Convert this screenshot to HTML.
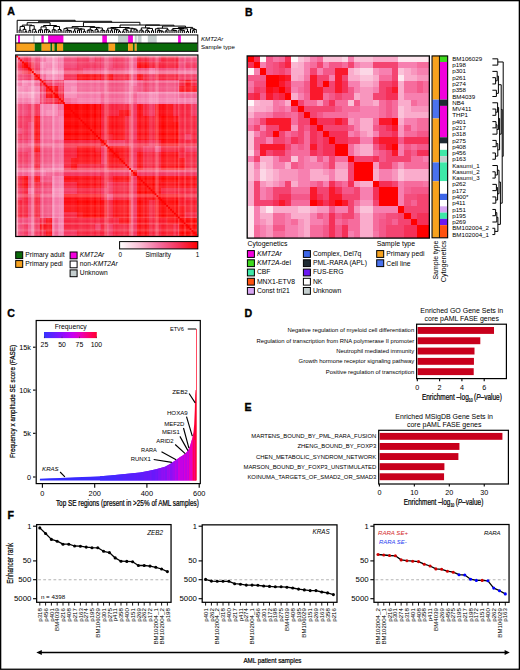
<!DOCTYPE html><html><head><meta charset="utf-8"><style>html,body{margin:0;padding:0;background:#fff;overflow:hidden;}svg{display:block;}text{font-family:"Liberation Sans", sans-serif;}.b{stroke:#000;stroke-width:0.22px;}</style></head><body>
<svg width="520" height="670" viewBox="0 0 520 670" shape-rendering="auto">
<rect x="0.00" y="0.00" width="520.00" height="670.00" fill="#fff"/>
<text x="7.30" y="15.10" font-size="10.60" font-weight="bold" stroke="#000" stroke-width="0.35">A</text>
<text x="245.00" y="15.60" font-size="10.60" font-weight="bold" stroke="#000" stroke-width="0.35">B</text>
<text x="7.20" y="316.90" font-size="10.60" font-weight="bold" stroke="#000" stroke-width="0.35">C</text>
<text x="244.50" y="317.40" font-size="10.60" font-weight="bold" stroke="#000" stroke-width="0.35">D</text>
<text x="244.50" y="410.60" font-size="10.60" font-weight="bold" stroke="#000" stroke-width="0.35">E</text>
<text x="7.40" y="519.00" font-size="10.60" font-weight="bold" stroke="#000" stroke-width="0.35">F</text>
<path d="M19.12 30.09L21.07 30.09M19.12 30.09L19.12 33.00M21.07 30.09L21.07 33.00M24.96 31.64L26.91 31.64M24.96 31.64L24.96 33.00M26.91 31.64L26.91 33.00M23.02 29.33L25.94 29.33M23.02 29.33L23.02 33.00M25.94 29.33L25.94 31.64M20.09 26.45L24.48 26.45M20.09 26.45L20.09 30.09M24.48 26.45L24.48 29.33M28.86 30.43L30.80 30.43M28.86 30.43L28.86 33.00M30.80 30.43L30.80 33.00M34.70 31.71L36.65 31.71M34.70 31.71L34.70 33.00M36.65 31.71L36.65 33.00M32.75 29.28L35.67 29.28M32.75 29.28L32.75 33.00M35.67 29.28L35.67 31.71M29.83 25.68L34.21 25.68M29.83 25.68L29.83 30.43M34.21 25.68L34.21 29.28M22.29 25.10L32.02 25.10M22.29 25.10L22.29 26.45M32.02 25.10L32.02 25.68M38.59 30.08L40.54 30.08M38.59 30.08L38.59 33.00M40.54 30.08L40.54 33.00M39.57 29.76L42.49 29.76M39.57 29.76L39.57 30.08M42.49 29.76L42.49 33.00M48.33 31.47L50.28 31.47M48.33 31.47L48.33 33.00M50.28 31.47L50.28 33.00M46.38 29.91L49.30 29.91M46.38 29.91L46.38 33.00M49.30 29.91L49.30 31.47M44.44 29.61L47.84 29.61M44.44 29.61L44.44 33.00M47.84 29.61L47.84 29.91M41.03 26.85L46.14 26.85M41.03 26.85L41.03 29.76M46.14 26.85L46.14 29.61M54.17 30.11L56.12 30.11M54.17 30.11L54.17 33.00M56.12 30.11L56.12 33.00M52.23 29.72L55.15 29.72M52.23 29.72L52.23 33.00M55.15 29.72L55.15 30.11M60.01 30.77L61.96 30.77M60.01 30.77L60.01 33.00M61.96 30.77L61.96 33.00M58.07 29.49L60.99 29.49M58.07 29.49L58.07 33.00M60.99 29.49L60.99 30.77M53.69 26.52L59.53 26.52M53.69 26.52L53.69 29.72M59.53 26.52L59.53 29.49M43.58 25.50L56.61 25.50M43.58 25.50L43.58 26.85M56.61 25.50L56.61 26.52M27.15 22.70L50.10 22.70M27.15 22.70L27.15 25.10M50.10 22.70L50.10 25.50M69.75 30.89L71.70 30.89M69.75 30.89L69.75 33.00M71.70 30.89L71.70 33.00M67.80 30.59L70.72 30.59M67.80 30.59L67.80 33.00M70.72 30.59L70.72 30.89M65.86 30.29L69.26 30.29M65.86 30.29L65.86 33.00M69.26 30.29L69.26 30.59M63.91 28.65L67.56 28.65M63.91 28.65L63.91 33.00M67.56 28.65L67.56 30.29M73.65 30.92L75.59 30.92M73.65 30.92L73.65 33.00M75.59 30.92L75.59 33.00M77.54 30.14L79.49 30.14M77.54 30.14L77.54 33.00M79.49 30.14L79.49 33.00M78.51 29.79L81.43 29.79M78.51 29.79L78.51 30.14M81.43 29.79L81.43 33.00M83.38 31.42L85.33 31.42M83.38 31.42L83.38 33.00M85.33 31.42L85.33 33.00M79.97 29.10L84.36 29.10M79.97 29.10L79.97 29.79M84.36 29.10L84.36 31.42M74.62 28.80L82.17 28.80M74.62 28.80L74.62 30.92M82.17 28.80L82.17 29.10M65.73 27.93L78.39 27.93M65.73 27.93L65.73 28.65M78.39 27.93L78.39 28.80M87.28 30.20L89.22 30.20M87.28 30.20L87.28 33.00M89.22 30.20L89.22 33.00M91.17 30.49L93.12 30.49M91.17 30.49L91.17 33.00M93.12 30.49L93.12 33.00M88.25 29.90L92.15 29.90M88.25 29.90L88.25 30.20M92.15 29.90L92.15 30.49M97.01 31.23L98.96 31.23M97.01 31.23L97.01 33.00M98.96 31.23L98.96 33.00M95.07 29.63L97.99 29.63M95.07 29.63L95.07 33.00M97.99 29.63L97.99 31.23M102.86 30.62L104.80 30.62M102.86 30.62L102.86 33.00M104.80 30.62L104.80 33.00M100.91 30.20L103.83 30.20M100.91 30.20L100.91 33.00M103.83 30.20L103.83 30.62M96.53 27.96L102.37 27.96M96.53 27.96L96.53 29.63M102.37 27.96L102.37 30.20M90.20 27.41L99.45 27.41M90.20 27.41L90.20 29.90M99.45 27.41L99.45 27.96M72.06 26.60L94.82 26.60M72.06 26.60L72.06 27.93M94.82 26.60L94.82 27.41M106.75 30.11L108.70 30.11M106.75 30.11L106.75 33.00M108.70 30.11L108.70 33.00M110.64 30.70L112.59 30.70M110.64 30.70L110.64 33.00M112.59 30.70L112.59 33.00M118.43 31.47L120.38 31.47M118.43 31.47L118.43 33.00M120.38 31.47L120.38 33.00M116.49 29.97L119.41 29.97M116.49 29.97L116.49 33.00M119.41 29.97L119.41 31.47M114.54 29.31L117.95 29.31M114.54 29.31L114.54 33.00M117.95 29.31L117.95 29.97M111.62 28.77L116.24 28.77M111.62 28.77L111.62 30.70M116.24 28.77L116.24 29.31M107.72 28.15L113.93 28.15M107.72 28.15L107.72 30.11M113.93 28.15L113.93 28.77M122.33 31.72L124.28 31.72M122.33 31.72L122.33 33.00M124.28 31.72L124.28 33.00M126.22 30.32L128.17 30.32M126.22 30.32L126.22 33.00M128.17 30.32L128.17 33.00M123.30 29.70L127.20 29.70M123.30 29.70L123.30 31.72M127.20 29.70L127.20 30.32M130.12 31.06L132.07 31.06M130.12 31.06L130.12 33.00M132.07 31.06L132.07 33.00M135.96 30.66L137.91 30.66M135.96 30.66L135.96 33.00M137.91 30.66L137.91 33.00M134.01 29.21L136.93 29.21M134.01 29.21L134.01 33.00M136.93 29.21L136.93 30.66M131.09 28.80L135.47 28.80M131.09 28.80L131.09 31.06M135.47 28.80L135.47 29.21M125.25 28.25L133.28 28.25M125.25 28.25L125.25 29.70M133.28 28.25L133.28 28.80M110.83 27.50L129.27 27.50M110.83 27.50L110.83 28.15M129.27 27.50L129.27 28.25M141.80 31.11L143.75 31.11M141.80 31.11L141.80 33.00M143.75 31.11L143.75 33.00M139.85 30.17L142.78 30.17M139.85 30.17L139.85 33.00M142.78 30.17L142.78 31.11M147.64 31.44L149.59 31.44M147.64 31.44L147.64 33.00M149.59 31.44L149.59 33.00M145.70 30.29L148.62 30.29M145.70 30.29L145.70 33.00M148.62 30.29L148.62 31.44M151.54 30.72L153.49 30.72M151.54 30.72L151.54 33.00M153.49 30.72L153.49 33.00M147.16 28.45L152.51 28.45M147.16 28.45L147.16 30.29M152.51 28.45L152.51 30.72M141.31 27.90L149.83 27.90M141.31 27.90L141.31 30.17M149.83 27.90L149.83 28.45M161.27 31.18L163.22 31.18M161.27 31.18L161.27 33.00M163.22 31.18L163.22 33.00M159.33 30.88L162.25 30.88M159.33 30.88L159.33 33.00M162.25 30.88L162.25 31.18M157.38 30.58L160.79 30.58M157.38 30.58L157.38 33.00M160.79 30.58L160.79 30.88M155.43 28.80L159.08 28.80M155.43 28.80L155.43 33.00M159.08 28.80L159.08 30.58M165.17 31.10L167.12 31.10M165.17 31.10L165.17 33.00M167.12 31.10L167.12 33.00M166.14 29.95L169.06 29.95M166.14 29.95L166.14 31.10M169.06 29.95L169.06 33.00M157.26 28.20L167.60 28.20M157.26 28.20L157.26 28.80M167.60 28.20L167.60 29.95M174.91 30.66L176.85 30.66M174.91 30.66L174.91 33.00M176.85 30.66L176.85 33.00M172.96 30.36L175.88 30.36M172.96 30.36L172.96 33.00M175.88 30.36L175.88 30.66M171.01 30.06L174.42 30.06M171.01 30.06L171.01 33.00M174.42 30.06L174.42 30.36M182.70 30.62L184.64 30.62M182.70 30.62L182.70 33.00M184.64 30.62L184.64 33.00M180.75 30.15L183.67 30.15M180.75 30.15L180.75 33.00M183.67 30.15L183.67 30.62M178.80 29.85L182.21 29.85M178.80 29.85L178.80 33.00M182.21 29.85L182.21 30.15M186.59 31.49L188.54 31.49M186.59 31.49L186.59 33.00M188.54 31.49L188.54 33.00M180.50 28.80L187.56 28.80M180.50 28.80L180.50 29.85M187.56 28.80L187.56 31.49M172.72 28.50L184.03 28.50M172.72 28.50L172.72 30.06M184.03 28.50L184.03 28.80M192.43 30.65L194.38 30.65M192.43 30.65L192.43 33.00M194.38 30.65L194.38 33.00M193.41 29.49L196.33 29.49M193.41 29.49L193.41 30.65M196.33 29.49L196.33 33.00M190.48 28.80L194.87 28.80M190.48 28.80L190.48 33.00M194.87 28.80L194.87 29.49M178.37 27.40L192.68 27.40M178.37 27.40L178.37 28.50M192.68 27.40L192.68 28.80M162.43 26.10L185.52 26.10M162.43 26.10L162.43 28.20M185.52 26.10L185.52 27.40M145.57 25.20L173.98 25.20M145.57 25.20L145.57 27.90M173.98 25.20L173.98 26.10M120.05 25.00L159.78 25.00M120.05 25.00L120.05 27.50M159.78 25.00L159.78 25.20M83.44 22.30L139.91 22.30M83.44 22.30L83.44 26.60M139.91 22.30L139.91 25.00M38.62 21.30L111.68 21.30M38.62 21.30L38.62 22.70M111.68 21.30L111.68 22.30M17.17 20.30L75.15 20.30M17.17 20.30L17.17 33.00M75.15 20.30L75.15 21.30" stroke="#000" stroke-width="1.0" fill="none"/>
<rect x="18.00" y="35.20" width="2.00" height="7.80" fill="#f200dc"/>
<rect x="33.20" y="35.20" width="1.50" height="7.80" fill="#c4cece"/>
<rect x="41.40" y="35.20" width="2.35" height="7.80" fill="#f200dc"/>
<rect x="48.10" y="35.20" width="15.30" height="7.80" fill="#f200dc"/>
<rect x="102.30" y="35.20" width="4.60" height="7.80" fill="#f200dc"/>
<rect x="118.00" y="35.20" width="10.10" height="7.80" fill="#c4cece"/>
<rect x="128.10" y="35.20" width="4.80" height="7.80" fill="#f200dc"/>
<rect x="134.80" y="35.20" width="1.90" height="7.80" fill="#c4cece"/>
<rect x="137.70" y="35.20" width="3.80" height="7.80" fill="#c4cece"/>
<rect x="147.80" y="35.20" width="8.90" height="7.80" fill="#c4cece"/>
<rect x="178.10" y="35.20" width="2.70" height="7.80" fill="#f200dc"/>
<rect x="16.10" y="43.00" width="18.60" height="8.00" fill="#f7a21e"/>
<rect x="34.70" y="43.00" width="7.00" height="8.00" fill="#0a6a0a"/>
<rect x="41.70" y="43.00" width="8.70" height="8.00" fill="#f7a21e"/>
<rect x="50.40" y="43.00" width="2.00" height="8.00" fill="#0a6a0a"/>
<rect x="52.40" y="43.00" width="2.00" height="8.00" fill="#f7a21e"/>
<rect x="54.40" y="43.00" width="2.60" height="8.00" fill="#0a6a0a"/>
<rect x="57.00" y="43.00" width="6.10" height="8.00" fill="#f7a21e"/>
<rect x="63.10" y="43.00" width="45.60" height="8.00" fill="#0a6a0a"/>
<rect x="108.70" y="43.00" width="6.40" height="8.00" fill="#f7a21e"/>
<rect x="115.10" y="43.00" width="13.00" height="8.00" fill="#0a6a0a"/>
<rect x="128.10" y="43.00" width="4.80" height="8.00" fill="#f7a21e"/>
<rect x="132.90" y="43.00" width="1.90" height="8.00" fill="#0a6a0a"/>
<rect x="134.80" y="43.00" width="1.90" height="8.00" fill="#f7a21e"/>
<rect x="136.70" y="43.00" width="60.60" height="8.00" fill="#0a6a0a"/>
<rect x="15.7" y="34.95" width="182.1" height="16.4" fill="none" stroke="#000" stroke-width="1"/>
<line x1="15.70" y1="43.00" x2="197.80" y2="43.00" stroke="#000" stroke-width="1.00"/>
<text x="201.00" y="40.60" font-size="6.10" font-style="italic">KMT2Ar</text>
<text x="201.00" y="48.80" font-size="6.10">Sample type</text>
<g shape-rendering="crispEdges"><rect x="16.20" y="55.60" width="6.09" height="6.06" fill="#f44c7b"/><rect x="22.24" y="55.60" width="6.09" height="6.06" fill="#f62e54"/><rect x="28.27" y="55.60" width="6.09" height="6.06" fill="#f5426e"/><rect x="34.31" y="55.60" width="6.09" height="6.06" fill="#f44c7b"/><rect x="40.35" y="55.60" width="6.09" height="6.06" fill="#f678a8"/><rect x="46.38" y="55.60" width="6.09" height="6.06" fill="#f88db8"/><rect x="52.42" y="55.60" width="6.09" height="6.06" fill="#f998bf"/><rect x="58.46" y="55.60" width="6.09" height="6.06" fill="#f678a8"/><rect x="64.49" y="55.60" width="6.09" height="6.06" fill="#f44c7b"/><rect x="70.53" y="55.60" width="6.09" height="6.06" fill="#f44c7b"/><rect x="76.57" y="55.60" width="6.09" height="6.06" fill="#f53862"/><rect x="82.60" y="55.60" width="6.09" height="6.06" fill="#f53862"/><rect x="88.64" y="55.60" width="6.09" height="6.06" fill="#f44c7b"/><rect x="94.68" y="55.60" width="6.09" height="6.06" fill="#f53862"/><rect x="100.71" y="55.60" width="6.09" height="6.06" fill="#f44c7b"/><rect x="106.75" y="55.60" width="6.09" height="6.06" fill="#f44c7b"/><rect x="112.79" y="55.60" width="6.09" height="6.06" fill="#f53862"/><rect x="118.82" y="55.60" width="6.09" height="6.06" fill="#f53862"/><rect x="124.86" y="55.60" width="6.09" height="6.06" fill="#f44c7b"/><rect x="130.90" y="55.60" width="6.09" height="6.06" fill="#f56092"/><rect x="136.93" y="55.60" width="6.09" height="6.06" fill="#f8223e"/><rect x="142.97" y="55.60" width="6.09" height="6.06" fill="#f8223e"/><rect x="149.01" y="55.60" width="6.09" height="6.06" fill="#f53862"/><rect x="155.04" y="55.60" width="6.09" height="6.06" fill="#f53862"/><rect x="161.08" y="55.60" width="6.09" height="6.06" fill="#f8223e"/><rect x="167.12" y="55.60" width="6.09" height="6.06" fill="#f8223e"/><rect x="173.15" y="55.60" width="6.09" height="6.06" fill="#f8223e"/><rect x="179.19" y="55.60" width="6.09" height="6.06" fill="#f44c7b"/><rect x="185.23" y="55.60" width="6.09" height="6.06" fill="#f44c7b"/><rect x="191.26" y="55.60" width="6.09" height="6.06" fill="#f44c7b"/><rect x="16.20" y="61.61" width="6.09" height="6.06" fill="#f62e54"/><rect x="22.24" y="61.61" width="6.09" height="6.06" fill="#ff0000"/><rect x="28.27" y="61.61" width="6.09" height="6.06" fill="#f8223e"/><rect x="34.31" y="61.61" width="6.09" height="6.06" fill="#f5426e"/><rect x="40.35" y="61.61" width="6.09" height="6.06" fill="#f88db8"/><rect x="46.38" y="61.61" width="6.09" height="6.06" fill="#f782b1"/><rect x="52.42" y="61.61" width="6.09" height="6.06" fill="#f998bf"/><rect x="58.46" y="61.61" width="6.09" height="6.06" fill="#f678a8"/><rect x="64.49" y="61.61" width="6.09" height="6.06" fill="#f44c7b"/><rect x="70.53" y="61.61" width="6.09" height="6.06" fill="#f44c7b"/><rect x="76.57" y="61.61" width="6.09" height="6.06" fill="#f53862"/><rect x="82.60" y="61.61" width="6.09" height="6.06" fill="#f53862"/><rect x="88.64" y="61.61" width="6.09" height="6.06" fill="#f53862"/><rect x="94.68" y="61.61" width="6.09" height="6.06" fill="#f53862"/><rect x="100.71" y="61.61" width="6.09" height="6.06" fill="#f44c7b"/><rect x="106.75" y="61.61" width="6.09" height="6.06" fill="#f44c7b"/><rect x="112.79" y="61.61" width="6.09" height="6.06" fill="#f53862"/><rect x="118.82" y="61.61" width="6.09" height="6.06" fill="#f53862"/><rect x="124.86" y="61.61" width="6.09" height="6.06" fill="#f44c7b"/><rect x="130.90" y="61.61" width="6.09" height="6.06" fill="#f56092"/><rect x="136.93" y="61.61" width="6.09" height="6.06" fill="#fd0a12"/><rect x="142.97" y="61.61" width="6.09" height="6.06" fill="#fd0a12"/><rect x="149.01" y="61.61" width="6.09" height="6.06" fill="#f8223e"/><rect x="155.04" y="61.61" width="6.09" height="6.06" fill="#f8223e"/><rect x="161.08" y="61.61" width="6.09" height="6.06" fill="#f8223e"/><rect x="167.12" y="61.61" width="6.09" height="6.06" fill="#f8223e"/><rect x="173.15" y="61.61" width="6.09" height="6.06" fill="#f8223e"/><rect x="179.19" y="61.61" width="6.09" height="6.06" fill="#f44c7b"/><rect x="185.23" y="61.61" width="6.09" height="6.06" fill="#f53862"/><rect x="191.26" y="61.61" width="6.09" height="6.06" fill="#f53862"/><rect x="16.20" y="67.62" width="6.09" height="6.06" fill="#f5426e"/><rect x="22.24" y="67.62" width="6.09" height="6.06" fill="#f8223e"/><rect x="28.27" y="67.62" width="6.09" height="6.06" fill="#fd0a12"/><rect x="34.31" y="67.62" width="6.09" height="6.06" fill="#f53862"/><rect x="40.35" y="67.62" width="6.09" height="6.06" fill="#f782b1"/><rect x="46.38" y="67.62" width="6.09" height="6.06" fill="#f88db8"/><rect x="52.42" y="67.62" width="6.09" height="6.06" fill="#f9a3c6"/><rect x="58.46" y="67.62" width="6.09" height="6.06" fill="#f782b1"/><rect x="64.49" y="67.62" width="6.09" height="6.06" fill="#f5426e"/><rect x="70.53" y="67.62" width="6.09" height="6.06" fill="#f5426e"/><rect x="76.57" y="67.62" width="6.09" height="6.06" fill="#f53862"/><rect x="82.60" y="67.62" width="6.09" height="6.06" fill="#f44c7b"/><rect x="88.64" y="67.62" width="6.09" height="6.06" fill="#f44c7b"/><rect x="94.68" y="67.62" width="6.09" height="6.06" fill="#f44c7b"/><rect x="100.71" y="67.62" width="6.09" height="6.06" fill="#f56092"/><rect x="106.75" y="67.62" width="6.09" height="6.06" fill="#f44c7b"/><rect x="112.79" y="67.62" width="6.09" height="6.06" fill="#f44c7b"/><rect x="118.82" y="67.62" width="6.09" height="6.06" fill="#f44c7b"/><rect x="124.86" y="67.62" width="6.09" height="6.06" fill="#f56092"/><rect x="130.90" y="67.62" width="6.09" height="6.06" fill="#f674a5"/><rect x="136.93" y="67.62" width="6.09" height="6.06" fill="#f44c7b"/><rect x="142.97" y="67.62" width="6.09" height="6.06" fill="#f44c7b"/><rect x="149.01" y="67.62" width="6.09" height="6.06" fill="#f674a5"/><rect x="155.04" y="67.62" width="6.09" height="6.06" fill="#f44c7b"/><rect x="161.08" y="67.62" width="6.09" height="6.06" fill="#f44c7b"/><rect x="167.12" y="67.62" width="6.09" height="6.06" fill="#f44c7b"/><rect x="173.15" y="67.62" width="6.09" height="6.06" fill="#f44c7b"/><rect x="179.19" y="67.62" width="6.09" height="6.06" fill="#f56092"/><rect x="185.23" y="67.62" width="6.09" height="6.06" fill="#f56092"/><rect x="191.26" y="67.62" width="6.09" height="6.06" fill="#f56092"/><rect x="16.20" y="73.63" width="6.09" height="6.06" fill="#f44c7b"/><rect x="22.24" y="73.63" width="6.09" height="6.06" fill="#f5426e"/><rect x="28.27" y="73.63" width="6.09" height="6.06" fill="#f53862"/><rect x="34.31" y="73.63" width="6.09" height="6.06" fill="#fd0a12"/><rect x="40.35" y="73.63" width="6.09" height="6.06" fill="#f56495"/><rect x="46.38" y="73.63" width="6.09" height="6.06" fill="#f782b1"/><rect x="52.42" y="73.63" width="6.09" height="6.06" fill="#f88db8"/><rect x="58.46" y="73.63" width="6.09" height="6.06" fill="#f678a8"/><rect x="64.49" y="73.63" width="6.09" height="6.06" fill="#f62e54"/><rect x="70.53" y="73.63" width="6.09" height="6.06" fill="#f62e54"/><rect x="76.57" y="73.63" width="6.09" height="6.06" fill="#fd0a12"/><rect x="82.60" y="73.63" width="6.09" height="6.06" fill="#fd0a12"/><rect x="88.64" y="73.63" width="6.09" height="6.06" fill="#fd0a12"/><rect x="94.68" y="73.63" width="6.09" height="6.06" fill="#fd0a12"/><rect x="100.71" y="73.63" width="6.09" height="6.06" fill="#f8223e"/><rect x="106.75" y="73.63" width="6.09" height="6.06" fill="#fd0a12"/><rect x="112.79" y="73.63" width="6.09" height="6.06" fill="#f8223e"/><rect x="118.82" y="73.63" width="6.09" height="6.06" fill="#f8223e"/><rect x="124.86" y="73.63" width="6.09" height="6.06" fill="#f8223e"/><rect x="130.90" y="73.63" width="6.09" height="6.06" fill="#f44c7b"/><rect x="136.93" y="73.63" width="6.09" height="6.06" fill="#fd0a12"/><rect x="142.97" y="73.63" width="6.09" height="6.06" fill="#f8223e"/><rect x="149.01" y="73.63" width="6.09" height="6.06" fill="#f53862"/><rect x="155.04" y="73.63" width="6.09" height="6.06" fill="#f8223e"/><rect x="161.08" y="73.63" width="6.09" height="6.06" fill="#f8223e"/><rect x="167.12" y="73.63" width="6.09" height="6.06" fill="#f8223e"/><rect x="173.15" y="73.63" width="6.09" height="6.06" fill="#f8223e"/><rect x="179.19" y="73.63" width="6.09" height="6.06" fill="#f53862"/><rect x="185.23" y="73.63" width="6.09" height="6.06" fill="#f53862"/><rect x="191.26" y="73.63" width="6.09" height="6.06" fill="#f53862"/><rect x="16.20" y="79.64" width="6.09" height="6.06" fill="#f678a8"/><rect x="22.24" y="79.64" width="6.09" height="6.06" fill="#f88db8"/><rect x="28.27" y="79.64" width="6.09" height="6.06" fill="#f782b1"/><rect x="34.31" y="79.64" width="6.09" height="6.06" fill="#f56495"/><rect x="40.35" y="79.64" width="6.09" height="6.06" fill="#f8223e"/><rect x="46.38" y="79.64" width="6.09" height="6.06" fill="#f53862"/><rect x="52.42" y="79.64" width="6.09" height="6.06" fill="#f44c7b"/><rect x="58.46" y="79.64" width="6.09" height="6.06" fill="#f5426e"/><rect x="64.49" y="79.64" width="6.09" height="6.06" fill="#f782b1"/><rect x="70.53" y="79.64" width="6.09" height="6.06" fill="#f782b1"/><rect x="76.57" y="79.64" width="6.09" height="6.06" fill="#f56495"/><rect x="82.60" y="79.64" width="6.09" height="6.06" fill="#f56495"/><rect x="88.64" y="79.64" width="6.09" height="6.06" fill="#f56495"/><rect x="94.68" y="79.64" width="6.09" height="6.06" fill="#f56495"/><rect x="100.71" y="79.64" width="6.09" height="6.06" fill="#f56495"/><rect x="106.75" y="79.64" width="6.09" height="6.06" fill="#f45080"/><rect x="112.79" y="79.64" width="6.09" height="6.06" fill="#f45080"/><rect x="118.82" y="79.64" width="6.09" height="6.06" fill="#f45080"/><rect x="124.86" y="79.64" width="6.09" height="6.06" fill="#f56495"/><rect x="130.90" y="79.64" width="6.09" height="6.06" fill="#f678a8"/><rect x="136.93" y="79.64" width="6.09" height="6.06" fill="#f45080"/><rect x="142.97" y="79.64" width="6.09" height="6.06" fill="#f53c67"/><rect x="149.01" y="79.64" width="6.09" height="6.06" fill="#f45080"/><rect x="155.04" y="79.64" width="6.09" height="6.06" fill="#f45080"/><rect x="161.08" y="79.64" width="6.09" height="6.06" fill="#f45080"/><rect x="167.12" y="79.64" width="6.09" height="6.06" fill="#f45080"/><rect x="173.15" y="79.64" width="6.09" height="6.06" fill="#f45080"/><rect x="179.19" y="79.64" width="6.09" height="6.06" fill="#f72646"/><rect x="185.23" y="79.64" width="6.09" height="6.06" fill="#fc0e1a"/><rect x="191.26" y="79.64" width="6.09" height="6.06" fill="#f72646"/><rect x="16.20" y="85.65" width="6.09" height="6.06" fill="#f88db8"/><rect x="22.24" y="85.65" width="6.09" height="6.06" fill="#f782b1"/><rect x="28.27" y="85.65" width="6.09" height="6.06" fill="#f88db8"/><rect x="34.31" y="85.65" width="6.09" height="6.06" fill="#f782b1"/><rect x="40.35" y="85.65" width="6.09" height="6.06" fill="#f53862"/><rect x="46.38" y="85.65" width="6.09" height="6.06" fill="#ff0000"/><rect x="52.42" y="85.65" width="6.09" height="6.06" fill="#fd0a12"/><rect x="58.46" y="85.65" width="6.09" height="6.06" fill="#f62e54"/><rect x="64.49" y="85.65" width="6.09" height="6.06" fill="#f782b1"/><rect x="70.53" y="85.65" width="6.09" height="6.06" fill="#f88db8"/><rect x="76.57" y="85.65" width="6.09" height="6.06" fill="#f56495"/><rect x="82.60" y="85.65" width="6.09" height="6.06" fill="#f56495"/><rect x="88.64" y="85.65" width="6.09" height="6.06" fill="#f56495"/><rect x="94.68" y="85.65" width="6.09" height="6.06" fill="#f56495"/><rect x="100.71" y="85.65" width="6.09" height="6.06" fill="#f56495"/><rect x="106.75" y="85.65" width="6.09" height="6.06" fill="#f45080"/><rect x="112.79" y="85.65" width="6.09" height="6.06" fill="#f45080"/><rect x="118.82" y="85.65" width="6.09" height="6.06" fill="#f45080"/><rect x="124.86" y="85.65" width="6.09" height="6.06" fill="#f56495"/><rect x="130.90" y="85.65" width="6.09" height="6.06" fill="#f56495"/><rect x="136.93" y="85.65" width="6.09" height="6.06" fill="#f45080"/><rect x="142.97" y="85.65" width="6.09" height="6.06" fill="#f53c67"/><rect x="149.01" y="85.65" width="6.09" height="6.06" fill="#f45080"/><rect x="155.04" y="85.65" width="6.09" height="6.06" fill="#f45080"/><rect x="161.08" y="85.65" width="6.09" height="6.06" fill="#f45080"/><rect x="167.12" y="85.65" width="6.09" height="6.06" fill="#f45080"/><rect x="173.15" y="85.65" width="6.09" height="6.06" fill="#f45080"/><rect x="179.19" y="85.65" width="6.09" height="6.06" fill="#fc0e1a"/><rect x="185.23" y="85.65" width="6.09" height="6.06" fill="#fc0e1a"/><rect x="191.26" y="85.65" width="6.09" height="6.06" fill="#fc0e1a"/><rect x="16.20" y="91.66" width="6.09" height="6.06" fill="#f998bf"/><rect x="22.24" y="91.66" width="6.09" height="6.06" fill="#f998bf"/><rect x="28.27" y="91.66" width="6.09" height="6.06" fill="#f9a3c6"/><rect x="34.31" y="91.66" width="6.09" height="6.06" fill="#f88db8"/><rect x="40.35" y="91.66" width="6.09" height="6.06" fill="#f44c7b"/><rect x="46.38" y="91.66" width="6.09" height="6.06" fill="#fd0a12"/><rect x="52.42" y="91.66" width="6.09" height="6.06" fill="#ff0000"/><rect x="58.46" y="91.66" width="6.09" height="6.06" fill="#f8223e"/><rect x="64.49" y="91.66" width="6.09" height="6.06" fill="#f88db8"/><rect x="70.53" y="91.66" width="6.09" height="6.06" fill="#f88db8"/><rect x="76.57" y="91.66" width="6.09" height="6.06" fill="#f678a8"/><rect x="82.60" y="91.66" width="6.09" height="6.06" fill="#f678a8"/><rect x="88.64" y="91.66" width="6.09" height="6.06" fill="#f678a8"/><rect x="94.68" y="91.66" width="6.09" height="6.06" fill="#f678a8"/><rect x="100.71" y="91.66" width="6.09" height="6.06" fill="#f56495"/><rect x="106.75" y="91.66" width="6.09" height="6.06" fill="#f56495"/><rect x="112.79" y="91.66" width="6.09" height="6.06" fill="#f56495"/><rect x="118.82" y="91.66" width="6.09" height="6.06" fill="#f56495"/><rect x="124.86" y="91.66" width="6.09" height="6.06" fill="#f678a8"/><rect x="130.90" y="91.66" width="6.09" height="6.06" fill="#f56495"/><rect x="136.93" y="91.66" width="6.09" height="6.06" fill="#f678a8"/><rect x="142.97" y="91.66" width="6.09" height="6.06" fill="#f678a8"/><rect x="149.01" y="91.66" width="6.09" height="6.06" fill="#f88db8"/><rect x="155.04" y="91.66" width="6.09" height="6.06" fill="#f678a8"/><rect x="161.08" y="91.66" width="6.09" height="6.06" fill="#f678a8"/><rect x="167.12" y="91.66" width="6.09" height="6.06" fill="#f678a8"/><rect x="173.15" y="91.66" width="6.09" height="6.06" fill="#f678a8"/><rect x="179.19" y="91.66" width="6.09" height="6.06" fill="#f56495"/><rect x="185.23" y="91.66" width="6.09" height="6.06" fill="#f56495"/><rect x="191.26" y="91.66" width="6.09" height="6.06" fill="#f56495"/><rect x="16.20" y="97.67" width="6.09" height="6.06" fill="#f678a8"/><rect x="22.24" y="97.67" width="6.09" height="6.06" fill="#f678a8"/><rect x="28.27" y="97.67" width="6.09" height="6.06" fill="#f782b1"/><rect x="34.31" y="97.67" width="6.09" height="6.06" fill="#f678a8"/><rect x="40.35" y="97.67" width="6.09" height="6.06" fill="#f5426e"/><rect x="46.38" y="97.67" width="6.09" height="6.06" fill="#f62e54"/><rect x="52.42" y="97.67" width="6.09" height="6.06" fill="#f8223e"/><rect x="58.46" y="97.67" width="6.09" height="6.06" fill="#fd0a12"/><rect x="64.49" y="97.67" width="6.09" height="6.06" fill="#f56495"/><rect x="70.53" y="97.67" width="6.09" height="6.06" fill="#f66e9f"/><rect x="76.57" y="97.67" width="6.09" height="6.06" fill="#f678a8"/><rect x="82.60" y="97.67" width="6.09" height="6.06" fill="#f678a8"/><rect x="88.64" y="97.67" width="6.09" height="6.06" fill="#f678a8"/><rect x="94.68" y="97.67" width="6.09" height="6.06" fill="#f678a8"/><rect x="100.71" y="97.67" width="6.09" height="6.06" fill="#f56495"/><rect x="106.75" y="97.67" width="6.09" height="6.06" fill="#f56495"/><rect x="112.79" y="97.67" width="6.09" height="6.06" fill="#f56495"/><rect x="118.82" y="97.67" width="6.09" height="6.06" fill="#f56495"/><rect x="124.86" y="97.67" width="6.09" height="6.06" fill="#f678a8"/><rect x="130.90" y="97.67" width="6.09" height="6.06" fill="#f56495"/><rect x="136.93" y="97.67" width="6.09" height="6.06" fill="#f678a8"/><rect x="142.97" y="97.67" width="6.09" height="6.06" fill="#f678a8"/><rect x="149.01" y="97.67" width="6.09" height="6.06" fill="#f88db8"/><rect x="155.04" y="97.67" width="6.09" height="6.06" fill="#f678a8"/><rect x="161.08" y="97.67" width="6.09" height="6.06" fill="#f678a8"/><rect x="167.12" y="97.67" width="6.09" height="6.06" fill="#f678a8"/><rect x="173.15" y="97.67" width="6.09" height="6.06" fill="#f678a8"/><rect x="179.19" y="97.67" width="6.09" height="6.06" fill="#f678a8"/><rect x="185.23" y="97.67" width="6.09" height="6.06" fill="#f678a8"/><rect x="191.26" y="97.67" width="6.09" height="6.06" fill="#f678a8"/><rect x="16.20" y="103.68" width="6.09" height="6.06" fill="#f44c7b"/><rect x="22.24" y="103.68" width="6.09" height="6.06" fill="#f44c7b"/><rect x="28.27" y="103.68" width="6.09" height="6.06" fill="#f5426e"/><rect x="34.31" y="103.68" width="6.09" height="6.06" fill="#f62e54"/><rect x="40.35" y="103.68" width="6.09" height="6.06" fill="#f782b1"/><rect x="46.38" y="103.68" width="6.09" height="6.06" fill="#f782b1"/><rect x="52.42" y="103.68" width="6.09" height="6.06" fill="#f88db8"/><rect x="58.46" y="103.68" width="6.09" height="6.06" fill="#f56495"/><rect x="64.49" y="103.68" width="6.09" height="6.06" fill="#ff0000"/><rect x="70.53" y="103.68" width="6.09" height="6.06" fill="#ff0000"/><rect x="76.57" y="103.68" width="6.09" height="6.06" fill="#ff0000"/><rect x="82.60" y="103.68" width="6.09" height="6.06" fill="#ff0000"/><rect x="88.64" y="103.68" width="6.09" height="6.06" fill="#ff0000"/><rect x="94.68" y="103.68" width="6.09" height="6.06" fill="#ff0000"/><rect x="100.71" y="103.68" width="6.09" height="6.06" fill="#f8223e"/><rect x="106.75" y="103.68" width="6.09" height="6.06" fill="#f8223e"/><rect x="112.79" y="103.68" width="6.09" height="6.06" fill="#f8223e"/><rect x="118.82" y="103.68" width="6.09" height="6.06" fill="#f8223e"/><rect x="124.86" y="103.68" width="6.09" height="6.06" fill="#f8223e"/><rect x="130.90" y="103.68" width="6.09" height="6.06" fill="#f53862"/><rect x="136.93" y="103.68" width="6.09" height="6.06" fill="#fd0a12"/><rect x="142.97" y="103.68" width="6.09" height="6.06" fill="#f8223e"/><rect x="149.01" y="103.68" width="6.09" height="6.06" fill="#f53862"/><rect x="155.04" y="103.68" width="6.09" height="6.06" fill="#fd0a12"/><rect x="161.08" y="103.68" width="6.09" height="6.06" fill="#fd0a12"/><rect x="167.12" y="103.68" width="6.09" height="6.06" fill="#fd0a12"/><rect x="173.15" y="103.68" width="6.09" height="6.06" fill="#f8223e"/><rect x="179.19" y="103.68" width="6.09" height="6.06" fill="#f8223e"/><rect x="185.23" y="103.68" width="6.09" height="6.06" fill="#f8223e"/><rect x="191.26" y="103.68" width="6.09" height="6.06" fill="#f53862"/><rect x="16.20" y="109.69" width="6.09" height="6.06" fill="#f44c7b"/><rect x="22.24" y="109.69" width="6.09" height="6.06" fill="#f44c7b"/><rect x="28.27" y="109.69" width="6.09" height="6.06" fill="#f5426e"/><rect x="34.31" y="109.69" width="6.09" height="6.06" fill="#f62e54"/><rect x="40.35" y="109.69" width="6.09" height="6.06" fill="#f782b1"/><rect x="46.38" y="109.69" width="6.09" height="6.06" fill="#f88db8"/><rect x="52.42" y="109.69" width="6.09" height="6.06" fill="#f88db8"/><rect x="58.46" y="109.69" width="6.09" height="6.06" fill="#f66e9f"/><rect x="64.49" y="109.69" width="6.09" height="6.06" fill="#ff0000"/><rect x="70.53" y="109.69" width="6.09" height="6.06" fill="#ff0000"/><rect x="76.57" y="109.69" width="6.09" height="6.06" fill="#ff0000"/><rect x="82.60" y="109.69" width="6.09" height="6.06" fill="#ff0000"/><rect x="88.64" y="109.69" width="6.09" height="6.06" fill="#ff0000"/><rect x="94.68" y="109.69" width="6.09" height="6.06" fill="#ff0000"/><rect x="100.71" y="109.69" width="6.09" height="6.06" fill="#f8223e"/><rect x="106.75" y="109.69" width="6.09" height="6.06" fill="#f8223e"/><rect x="112.79" y="109.69" width="6.09" height="6.06" fill="#f8223e"/><rect x="118.82" y="109.69" width="6.09" height="6.06" fill="#fd0a12"/><rect x="124.86" y="109.69" width="6.09" height="6.06" fill="#fd0a12"/><rect x="130.90" y="109.69" width="6.09" height="6.06" fill="#f53862"/><rect x="136.93" y="109.69" width="6.09" height="6.06" fill="#fd0a12"/><rect x="142.97" y="109.69" width="6.09" height="6.06" fill="#f8223e"/><rect x="149.01" y="109.69" width="6.09" height="6.06" fill="#f53862"/><rect x="155.04" y="109.69" width="6.09" height="6.06" fill="#fd0a12"/><rect x="161.08" y="109.69" width="6.09" height="6.06" fill="#fd0a12"/><rect x="167.12" y="109.69" width="6.09" height="6.06" fill="#fd0a12"/><rect x="173.15" y="109.69" width="6.09" height="6.06" fill="#f8223e"/><rect x="179.19" y="109.69" width="6.09" height="6.06" fill="#f8223e"/><rect x="185.23" y="109.69" width="6.09" height="6.06" fill="#f8223e"/><rect x="191.26" y="109.69" width="6.09" height="6.06" fill="#f53862"/><rect x="16.20" y="115.70" width="6.09" height="6.06" fill="#f53862"/><rect x="22.24" y="115.70" width="6.09" height="6.06" fill="#f53862"/><rect x="28.27" y="115.70" width="6.09" height="6.06" fill="#f53862"/><rect x="34.31" y="115.70" width="6.09" height="6.06" fill="#fd0a12"/><rect x="40.35" y="115.70" width="6.09" height="6.06" fill="#f56495"/><rect x="46.38" y="115.70" width="6.09" height="6.06" fill="#f56495"/><rect x="52.42" y="115.70" width="6.09" height="6.06" fill="#f678a8"/><rect x="58.46" y="115.70" width="6.09" height="6.06" fill="#f678a8"/><rect x="64.49" y="115.70" width="6.09" height="6.06" fill="#ff0000"/><rect x="70.53" y="115.70" width="6.09" height="6.06" fill="#ff0000"/><rect x="76.57" y="115.70" width="6.09" height="6.06" fill="#ff0000"/><rect x="82.60" y="115.70" width="6.09" height="6.06" fill="#ff0000"/><rect x="88.64" y="115.70" width="6.09" height="6.06" fill="#ff0000"/><rect x="94.68" y="115.70" width="6.09" height="6.06" fill="#ff0000"/><rect x="100.71" y="115.70" width="6.09" height="6.06" fill="#f8223e"/><rect x="106.75" y="115.70" width="6.09" height="6.06" fill="#fd0a12"/><rect x="112.79" y="115.70" width="6.09" height="6.06" fill="#fd0a12"/><rect x="118.82" y="115.70" width="6.09" height="6.06" fill="#fd0a12"/><rect x="124.86" y="115.70" width="6.09" height="6.06" fill="#f8223e"/><rect x="130.90" y="115.70" width="6.09" height="6.06" fill="#f53862"/><rect x="136.93" y="115.70" width="6.09" height="6.06" fill="#fd0a12"/><rect x="142.97" y="115.70" width="6.09" height="6.06" fill="#fd0a12"/><rect x="149.01" y="115.70" width="6.09" height="6.06" fill="#f8223e"/><rect x="155.04" y="115.70" width="6.09" height="6.06" fill="#fd0a12"/><rect x="161.08" y="115.70" width="6.09" height="6.06" fill="#ff0000"/><rect x="167.12" y="115.70" width="6.09" height="6.06" fill="#ff0000"/><rect x="173.15" y="115.70" width="6.09" height="6.06" fill="#fd0a12"/><rect x="179.19" y="115.70" width="6.09" height="6.06" fill="#f8223e"/><rect x="185.23" y="115.70" width="6.09" height="6.06" fill="#f8223e"/><rect x="191.26" y="115.70" width="6.09" height="6.06" fill="#f8223e"/><rect x="16.20" y="121.71" width="6.09" height="6.06" fill="#f53862"/><rect x="22.24" y="121.71" width="6.09" height="6.06" fill="#f53862"/><rect x="28.27" y="121.71" width="6.09" height="6.06" fill="#f44c7b"/><rect x="34.31" y="121.71" width="6.09" height="6.06" fill="#fd0a12"/><rect x="40.35" y="121.71" width="6.09" height="6.06" fill="#f56495"/><rect x="46.38" y="121.71" width="6.09" height="6.06" fill="#f56495"/><rect x="52.42" y="121.71" width="6.09" height="6.06" fill="#f678a8"/><rect x="58.46" y="121.71" width="6.09" height="6.06" fill="#f678a8"/><rect x="64.49" y="121.71" width="6.09" height="6.06" fill="#ff0000"/><rect x="70.53" y="121.71" width="6.09" height="6.06" fill="#ff0000"/><rect x="76.57" y="121.71" width="6.09" height="6.06" fill="#ff0000"/><rect x="82.60" y="121.71" width="6.09" height="6.06" fill="#ff0000"/><rect x="88.64" y="121.71" width="6.09" height="6.06" fill="#ff0000"/><rect x="94.68" y="121.71" width="6.09" height="6.06" fill="#ff0000"/><rect x="100.71" y="121.71" width="6.09" height="6.06" fill="#f8223e"/><rect x="106.75" y="121.71" width="6.09" height="6.06" fill="#fd0a12"/><rect x="112.79" y="121.71" width="6.09" height="6.06" fill="#fd0a12"/><rect x="118.82" y="121.71" width="6.09" height="6.06" fill="#fd0a12"/><rect x="124.86" y="121.71" width="6.09" height="6.06" fill="#f8223e"/><rect x="130.90" y="121.71" width="6.09" height="6.06" fill="#f53862"/><rect x="136.93" y="121.71" width="6.09" height="6.06" fill="#fd0a12"/><rect x="142.97" y="121.71" width="6.09" height="6.06" fill="#fd0a12"/><rect x="149.01" y="121.71" width="6.09" height="6.06" fill="#f8223e"/><rect x="155.04" y="121.71" width="6.09" height="6.06" fill="#fd0a12"/><rect x="161.08" y="121.71" width="6.09" height="6.06" fill="#ff0000"/><rect x="167.12" y="121.71" width="6.09" height="6.06" fill="#ff0000"/><rect x="173.15" y="121.71" width="6.09" height="6.06" fill="#ff0000"/><rect x="179.19" y="121.71" width="6.09" height="6.06" fill="#f8223e"/><rect x="185.23" y="121.71" width="6.09" height="6.06" fill="#f8223e"/><rect x="191.26" y="121.71" width="6.09" height="6.06" fill="#f8223e"/><rect x="16.20" y="127.72" width="6.09" height="6.06" fill="#f44c7b"/><rect x="22.24" y="127.72" width="6.09" height="6.06" fill="#f53862"/><rect x="28.27" y="127.72" width="6.09" height="6.06" fill="#f44c7b"/><rect x="34.31" y="127.72" width="6.09" height="6.06" fill="#fd0a12"/><rect x="40.35" y="127.72" width="6.09" height="6.06" fill="#f56495"/><rect x="46.38" y="127.72" width="6.09" height="6.06" fill="#f56495"/><rect x="52.42" y="127.72" width="6.09" height="6.06" fill="#f678a8"/><rect x="58.46" y="127.72" width="6.09" height="6.06" fill="#f678a8"/><rect x="64.49" y="127.72" width="6.09" height="6.06" fill="#ff0000"/><rect x="70.53" y="127.72" width="6.09" height="6.06" fill="#ff0000"/><rect x="76.57" y="127.72" width="6.09" height="6.06" fill="#ff0000"/><rect x="82.60" y="127.72" width="6.09" height="6.06" fill="#ff0000"/><rect x="88.64" y="127.72" width="6.09" height="6.06" fill="#ff0000"/><rect x="94.68" y="127.72" width="6.09" height="6.06" fill="#ff0000"/><rect x="100.71" y="127.72" width="6.09" height="6.06" fill="#f8223e"/><rect x="106.75" y="127.72" width="6.09" height="6.06" fill="#fd0a12"/><rect x="112.79" y="127.72" width="6.09" height="6.06" fill="#fd0a12"/><rect x="118.82" y="127.72" width="6.09" height="6.06" fill="#fd0a12"/><rect x="124.86" y="127.72" width="6.09" height="6.06" fill="#f8223e"/><rect x="130.90" y="127.72" width="6.09" height="6.06" fill="#f53862"/><rect x="136.93" y="127.72" width="6.09" height="6.06" fill="#fd0a12"/><rect x="142.97" y="127.72" width="6.09" height="6.06" fill="#fd0a12"/><rect x="149.01" y="127.72" width="6.09" height="6.06" fill="#f8223e"/><rect x="155.04" y="127.72" width="6.09" height="6.06" fill="#fd0a12"/><rect x="161.08" y="127.72" width="6.09" height="6.06" fill="#ff0000"/><rect x="167.12" y="127.72" width="6.09" height="6.06" fill="#ff0000"/><rect x="173.15" y="127.72" width="6.09" height="6.06" fill="#ff0000"/><rect x="179.19" y="127.72" width="6.09" height="6.06" fill="#f8223e"/><rect x="185.23" y="127.72" width="6.09" height="6.06" fill="#f8223e"/><rect x="191.26" y="127.72" width="6.09" height="6.06" fill="#f8223e"/><rect x="16.20" y="133.73" width="6.09" height="6.06" fill="#f53862"/><rect x="22.24" y="133.73" width="6.09" height="6.06" fill="#f53862"/><rect x="28.27" y="133.73" width="6.09" height="6.06" fill="#f44c7b"/><rect x="34.31" y="133.73" width="6.09" height="6.06" fill="#fd0a12"/><rect x="40.35" y="133.73" width="6.09" height="6.06" fill="#f56495"/><rect x="46.38" y="133.73" width="6.09" height="6.06" fill="#f56495"/><rect x="52.42" y="133.73" width="6.09" height="6.06" fill="#f678a8"/><rect x="58.46" y="133.73" width="6.09" height="6.06" fill="#f678a8"/><rect x="64.49" y="133.73" width="6.09" height="6.06" fill="#ff0000"/><rect x="70.53" y="133.73" width="6.09" height="6.06" fill="#ff0000"/><rect x="76.57" y="133.73" width="6.09" height="6.06" fill="#ff0000"/><rect x="82.60" y="133.73" width="6.09" height="6.06" fill="#ff0000"/><rect x="88.64" y="133.73" width="6.09" height="6.06" fill="#ff0000"/><rect x="94.68" y="133.73" width="6.09" height="6.06" fill="#ff0000"/><rect x="100.71" y="133.73" width="6.09" height="6.06" fill="#f8223e"/><rect x="106.75" y="133.73" width="6.09" height="6.06" fill="#fa1628"/><rect x="112.79" y="133.73" width="6.09" height="6.06" fill="#fd0a12"/><rect x="118.82" y="133.73" width="6.09" height="6.06" fill="#fd0a12"/><rect x="124.86" y="133.73" width="6.09" height="6.06" fill="#f8223e"/><rect x="130.90" y="133.73" width="6.09" height="6.06" fill="#f53862"/><rect x="136.93" y="133.73" width="6.09" height="6.06" fill="#fd0a12"/><rect x="142.97" y="133.73" width="6.09" height="6.06" fill="#fd0a12"/><rect x="149.01" y="133.73" width="6.09" height="6.06" fill="#f8223e"/><rect x="155.04" y="133.73" width="6.09" height="6.06" fill="#fd0a12"/><rect x="161.08" y="133.73" width="6.09" height="6.06" fill="#ff0000"/><rect x="167.12" y="133.73" width="6.09" height="6.06" fill="#ff0000"/><rect x="173.15" y="133.73" width="6.09" height="6.06" fill="#ff0000"/><rect x="179.19" y="133.73" width="6.09" height="6.06" fill="#f8223e"/><rect x="185.23" y="133.73" width="6.09" height="6.06" fill="#f53862"/><rect x="191.26" y="133.73" width="6.09" height="6.06" fill="#f8223e"/><rect x="16.20" y="139.74" width="6.09" height="6.06" fill="#f44c7b"/><rect x="22.24" y="139.74" width="6.09" height="6.06" fill="#f44c7b"/><rect x="28.27" y="139.74" width="6.09" height="6.06" fill="#f56092"/><rect x="34.31" y="139.74" width="6.09" height="6.06" fill="#f8223e"/><rect x="40.35" y="139.74" width="6.09" height="6.06" fill="#f56495"/><rect x="46.38" y="139.74" width="6.09" height="6.06" fill="#f56495"/><rect x="52.42" y="139.74" width="6.09" height="6.06" fill="#f56495"/><rect x="58.46" y="139.74" width="6.09" height="6.06" fill="#f56495"/><rect x="64.49" y="139.74" width="6.09" height="6.06" fill="#f8223e"/><rect x="70.53" y="139.74" width="6.09" height="6.06" fill="#f8223e"/><rect x="76.57" y="139.74" width="6.09" height="6.06" fill="#f8223e"/><rect x="82.60" y="139.74" width="6.09" height="6.06" fill="#f8223e"/><rect x="88.64" y="139.74" width="6.09" height="6.06" fill="#f8223e"/><rect x="94.68" y="139.74" width="6.09" height="6.06" fill="#f8223e"/><rect x="100.71" y="139.74" width="6.09" height="6.06" fill="#fd0a12"/><rect x="106.75" y="139.74" width="6.09" height="6.06" fill="#f53862"/><rect x="112.79" y="139.74" width="6.09" height="6.06" fill="#f53862"/><rect x="118.82" y="139.74" width="6.09" height="6.06" fill="#f53862"/><rect x="124.86" y="139.74" width="6.09" height="6.06" fill="#f62e54"/><rect x="130.90" y="139.74" width="6.09" height="6.06" fill="#f53862"/><rect x="136.93" y="139.74" width="6.09" height="6.06" fill="#f8223e"/><rect x="142.97" y="139.74" width="6.09" height="6.06" fill="#f8223e"/><rect x="149.01" y="139.74" width="6.09" height="6.06" fill="#f53862"/><rect x="155.04" y="139.74" width="6.09" height="6.06" fill="#f8223e"/><rect x="161.08" y="139.74" width="6.09" height="6.06" fill="#fd0a12"/><rect x="167.12" y="139.74" width="6.09" height="6.06" fill="#fd0a12"/><rect x="173.15" y="139.74" width="6.09" height="6.06" fill="#fd0a12"/><rect x="179.19" y="139.74" width="6.09" height="6.06" fill="#f8223e"/><rect x="185.23" y="139.74" width="6.09" height="6.06" fill="#f8223e"/><rect x="191.26" y="139.74" width="6.09" height="6.06" fill="#f8223e"/><rect x="16.20" y="145.75" width="6.09" height="6.06" fill="#f44c7b"/><rect x="22.24" y="145.75" width="6.09" height="6.06" fill="#f44c7b"/><rect x="28.27" y="145.75" width="6.09" height="6.06" fill="#f44c7b"/><rect x="34.31" y="145.75" width="6.09" height="6.06" fill="#fd0a12"/><rect x="40.35" y="145.75" width="6.09" height="6.06" fill="#f45080"/><rect x="46.38" y="145.75" width="6.09" height="6.06" fill="#f45080"/><rect x="52.42" y="145.75" width="6.09" height="6.06" fill="#f56495"/><rect x="58.46" y="145.75" width="6.09" height="6.06" fill="#f56495"/><rect x="64.49" y="145.75" width="6.09" height="6.06" fill="#f8223e"/><rect x="70.53" y="145.75" width="6.09" height="6.06" fill="#f8223e"/><rect x="76.57" y="145.75" width="6.09" height="6.06" fill="#fd0a12"/><rect x="82.60" y="145.75" width="6.09" height="6.06" fill="#fd0a12"/><rect x="88.64" y="145.75" width="6.09" height="6.06" fill="#fd0a12"/><rect x="94.68" y="145.75" width="6.09" height="6.06" fill="#fa1628"/><rect x="100.71" y="145.75" width="6.09" height="6.06" fill="#f53862"/><rect x="106.75" y="145.75" width="6.09" height="6.06" fill="#ff0000"/><rect x="112.79" y="145.75" width="6.09" height="6.06" fill="#fd0a12"/><rect x="118.82" y="145.75" width="6.09" height="6.06" fill="#fd0a12"/><rect x="124.86" y="145.75" width="6.09" height="6.06" fill="#fa1628"/><rect x="130.90" y="145.75" width="6.09" height="6.06" fill="#f53862"/><rect x="136.93" y="145.75" width="6.09" height="6.06" fill="#f8223e"/><rect x="142.97" y="145.75" width="6.09" height="6.06" fill="#f53862"/><rect x="149.01" y="145.75" width="6.09" height="6.06" fill="#f53862"/><rect x="155.04" y="145.75" width="6.09" height="6.06" fill="#f44c7b"/><rect x="161.08" y="145.75" width="6.09" height="6.06" fill="#f8223e"/><rect x="167.12" y="145.75" width="6.09" height="6.06" fill="#f8223e"/><rect x="173.15" y="145.75" width="6.09" height="6.06" fill="#f8223e"/><rect x="179.19" y="145.75" width="6.09" height="6.06" fill="#f8223e"/><rect x="185.23" y="145.75" width="6.09" height="6.06" fill="#f53862"/><rect x="191.26" y="145.75" width="6.09" height="6.06" fill="#f53862"/><rect x="16.20" y="151.76" width="6.09" height="6.06" fill="#f53862"/><rect x="22.24" y="151.76" width="6.09" height="6.06" fill="#f53862"/><rect x="28.27" y="151.76" width="6.09" height="6.06" fill="#f44c7b"/><rect x="34.31" y="151.76" width="6.09" height="6.06" fill="#f8223e"/><rect x="40.35" y="151.76" width="6.09" height="6.06" fill="#f45080"/><rect x="46.38" y="151.76" width="6.09" height="6.06" fill="#f45080"/><rect x="52.42" y="151.76" width="6.09" height="6.06" fill="#f56495"/><rect x="58.46" y="151.76" width="6.09" height="6.06" fill="#f56495"/><rect x="64.49" y="151.76" width="6.09" height="6.06" fill="#f8223e"/><rect x="70.53" y="151.76" width="6.09" height="6.06" fill="#f8223e"/><rect x="76.57" y="151.76" width="6.09" height="6.06" fill="#fd0a12"/><rect x="82.60" y="151.76" width="6.09" height="6.06" fill="#fd0a12"/><rect x="88.64" y="151.76" width="6.09" height="6.06" fill="#fd0a12"/><rect x="94.68" y="151.76" width="6.09" height="6.06" fill="#fd0a12"/><rect x="100.71" y="151.76" width="6.09" height="6.06" fill="#f53862"/><rect x="106.75" y="151.76" width="6.09" height="6.06" fill="#fd0a12"/><rect x="112.79" y="151.76" width="6.09" height="6.06" fill="#ff0000"/><rect x="118.82" y="151.76" width="6.09" height="6.06" fill="#fd0a12"/><rect x="124.86" y="151.76" width="6.09" height="6.06" fill="#fa1628"/><rect x="130.90" y="151.76" width="6.09" height="6.06" fill="#f53862"/><rect x="136.93" y="151.76" width="6.09" height="6.06" fill="#fd0a12"/><rect x="142.97" y="151.76" width="6.09" height="6.06" fill="#f8223e"/><rect x="149.01" y="151.76" width="6.09" height="6.06" fill="#f8223e"/><rect x="155.04" y="151.76" width="6.09" height="6.06" fill="#f8223e"/><rect x="161.08" y="151.76" width="6.09" height="6.06" fill="#fd0a12"/><rect x="167.12" y="151.76" width="6.09" height="6.06" fill="#fd0a12"/><rect x="173.15" y="151.76" width="6.09" height="6.06" fill="#fd0a12"/><rect x="179.19" y="151.76" width="6.09" height="6.06" fill="#f8223e"/><rect x="185.23" y="151.76" width="6.09" height="6.06" fill="#f8223e"/><rect x="191.26" y="151.76" width="6.09" height="6.06" fill="#f8223e"/><rect x="16.20" y="157.77" width="6.09" height="6.06" fill="#f53862"/><rect x="22.24" y="157.77" width="6.09" height="6.06" fill="#f53862"/><rect x="28.27" y="157.77" width="6.09" height="6.06" fill="#f44c7b"/><rect x="34.31" y="157.77" width="6.09" height="6.06" fill="#f8223e"/><rect x="40.35" y="157.77" width="6.09" height="6.06" fill="#f45080"/><rect x="46.38" y="157.77" width="6.09" height="6.06" fill="#f45080"/><rect x="52.42" y="157.77" width="6.09" height="6.06" fill="#f56495"/><rect x="58.46" y="157.77" width="6.09" height="6.06" fill="#f56495"/><rect x="64.49" y="157.77" width="6.09" height="6.06" fill="#f8223e"/><rect x="70.53" y="157.77" width="6.09" height="6.06" fill="#fd0a12"/><rect x="76.57" y="157.77" width="6.09" height="6.06" fill="#fd0a12"/><rect x="82.60" y="157.77" width="6.09" height="6.06" fill="#fd0a12"/><rect x="88.64" y="157.77" width="6.09" height="6.06" fill="#fd0a12"/><rect x="94.68" y="157.77" width="6.09" height="6.06" fill="#fd0a12"/><rect x="100.71" y="157.77" width="6.09" height="6.06" fill="#f53862"/><rect x="106.75" y="157.77" width="6.09" height="6.06" fill="#fd0a12"/><rect x="112.79" y="157.77" width="6.09" height="6.06" fill="#fd0a12"/><rect x="118.82" y="157.77" width="6.09" height="6.06" fill="#ff0000"/><rect x="124.86" y="157.77" width="6.09" height="6.06" fill="#fa1628"/><rect x="130.90" y="157.77" width="6.09" height="6.06" fill="#f53862"/><rect x="136.93" y="157.77" width="6.09" height="6.06" fill="#fd0a12"/><rect x="142.97" y="157.77" width="6.09" height="6.06" fill="#f8223e"/><rect x="149.01" y="157.77" width="6.09" height="6.06" fill="#f8223e"/><rect x="155.04" y="157.77" width="6.09" height="6.06" fill="#f8223e"/><rect x="161.08" y="157.77" width="6.09" height="6.06" fill="#fd0a12"/><rect x="167.12" y="157.77" width="6.09" height="6.06" fill="#fd0a12"/><rect x="173.15" y="157.77" width="6.09" height="6.06" fill="#fd0a12"/><rect x="179.19" y="157.77" width="6.09" height="6.06" fill="#fd0a12"/><rect x="185.23" y="157.77" width="6.09" height="6.06" fill="#f8223e"/><rect x="191.26" y="157.77" width="6.09" height="6.06" fill="#f8223e"/><rect x="16.20" y="163.78" width="6.09" height="6.06" fill="#f44c7b"/><rect x="22.24" y="163.78" width="6.09" height="6.06" fill="#f44c7b"/><rect x="28.27" y="163.78" width="6.09" height="6.06" fill="#f56092"/><rect x="34.31" y="163.78" width="6.09" height="6.06" fill="#f8223e"/><rect x="40.35" y="163.78" width="6.09" height="6.06" fill="#f56495"/><rect x="46.38" y="163.78" width="6.09" height="6.06" fill="#f56495"/><rect x="52.42" y="163.78" width="6.09" height="6.06" fill="#f678a8"/><rect x="58.46" y="163.78" width="6.09" height="6.06" fill="#f678a8"/><rect x="64.49" y="163.78" width="6.09" height="6.06" fill="#f8223e"/><rect x="70.53" y="163.78" width="6.09" height="6.06" fill="#fd0a12"/><rect x="76.57" y="163.78" width="6.09" height="6.06" fill="#f8223e"/><rect x="82.60" y="163.78" width="6.09" height="6.06" fill="#f8223e"/><rect x="88.64" y="163.78" width="6.09" height="6.06" fill="#f8223e"/><rect x="94.68" y="163.78" width="6.09" height="6.06" fill="#f8223e"/><rect x="100.71" y="163.78" width="6.09" height="6.06" fill="#f62e54"/><rect x="106.75" y="163.78" width="6.09" height="6.06" fill="#fa1628"/><rect x="112.79" y="163.78" width="6.09" height="6.06" fill="#fa1628"/><rect x="118.82" y="163.78" width="6.09" height="6.06" fill="#fa1628"/><rect x="124.86" y="163.78" width="6.09" height="6.06" fill="#f8223e"/><rect x="130.90" y="163.78" width="6.09" height="6.06" fill="#f53862"/><rect x="136.93" y="163.78" width="6.09" height="6.06" fill="#fd0a12"/><rect x="142.97" y="163.78" width="6.09" height="6.06" fill="#f8223e"/><rect x="149.01" y="163.78" width="6.09" height="6.06" fill="#f8223e"/><rect x="155.04" y="163.78" width="6.09" height="6.06" fill="#f8223e"/><rect x="161.08" y="163.78" width="6.09" height="6.06" fill="#fd0a12"/><rect x="167.12" y="163.78" width="6.09" height="6.06" fill="#fd0a12"/><rect x="173.15" y="163.78" width="6.09" height="6.06" fill="#fd0a12"/><rect x="179.19" y="163.78" width="6.09" height="6.06" fill="#fd0a12"/><rect x="185.23" y="163.78" width="6.09" height="6.06" fill="#f8223e"/><rect x="191.26" y="163.78" width="6.09" height="6.06" fill="#f8223e"/><rect x="16.20" y="169.79" width="6.09" height="6.06" fill="#f56092"/><rect x="22.24" y="169.79" width="6.09" height="6.06" fill="#f56092"/><rect x="28.27" y="169.79" width="6.09" height="6.06" fill="#f674a5"/><rect x="34.31" y="169.79" width="6.09" height="6.06" fill="#f44c7b"/><rect x="40.35" y="169.79" width="6.09" height="6.06" fill="#f678a8"/><rect x="46.38" y="169.79" width="6.09" height="6.06" fill="#f56495"/><rect x="52.42" y="169.79" width="6.09" height="6.06" fill="#f56495"/><rect x="58.46" y="169.79" width="6.09" height="6.06" fill="#f56495"/><rect x="64.49" y="169.79" width="6.09" height="6.06" fill="#f53862"/><rect x="70.53" y="169.79" width="6.09" height="6.06" fill="#f53862"/><rect x="76.57" y="169.79" width="6.09" height="6.06" fill="#f53862"/><rect x="82.60" y="169.79" width="6.09" height="6.06" fill="#f53862"/><rect x="88.64" y="169.79" width="6.09" height="6.06" fill="#f53862"/><rect x="94.68" y="169.79" width="6.09" height="6.06" fill="#f53862"/><rect x="100.71" y="169.79" width="6.09" height="6.06" fill="#f53862"/><rect x="106.75" y="169.79" width="6.09" height="6.06" fill="#f53862"/><rect x="112.79" y="169.79" width="6.09" height="6.06" fill="#f53862"/><rect x="118.82" y="169.79" width="6.09" height="6.06" fill="#f53862"/><rect x="124.86" y="169.79" width="6.09" height="6.06" fill="#f53862"/><rect x="130.90" y="169.79" width="6.09" height="6.06" fill="#fd0a12"/><rect x="136.93" y="169.79" width="6.09" height="6.06" fill="#f53862"/><rect x="142.97" y="169.79" width="6.09" height="6.06" fill="#f53862"/><rect x="149.01" y="169.79" width="6.09" height="6.06" fill="#f53862"/><rect x="155.04" y="169.79" width="6.09" height="6.06" fill="#f53862"/><rect x="161.08" y="169.79" width="6.09" height="6.06" fill="#f53862"/><rect x="167.12" y="169.79" width="6.09" height="6.06" fill="#f53862"/><rect x="173.15" y="169.79" width="6.09" height="6.06" fill="#f53862"/><rect x="179.19" y="169.79" width="6.09" height="6.06" fill="#f53862"/><rect x="185.23" y="169.79" width="6.09" height="6.06" fill="#f53862"/><rect x="191.26" y="169.79" width="6.09" height="6.06" fill="#f53862"/><rect x="16.20" y="175.80" width="6.09" height="6.06" fill="#f8223e"/><rect x="22.24" y="175.80" width="6.09" height="6.06" fill="#fd0a12"/><rect x="28.27" y="175.80" width="6.09" height="6.06" fill="#f44c7b"/><rect x="34.31" y="175.80" width="6.09" height="6.06" fill="#fd0a12"/><rect x="40.35" y="175.80" width="6.09" height="6.06" fill="#f45080"/><rect x="46.38" y="175.80" width="6.09" height="6.06" fill="#f45080"/><rect x="52.42" y="175.80" width="6.09" height="6.06" fill="#f678a8"/><rect x="58.46" y="175.80" width="6.09" height="6.06" fill="#f678a8"/><rect x="64.49" y="175.80" width="6.09" height="6.06" fill="#fd0a12"/><rect x="70.53" y="175.80" width="6.09" height="6.06" fill="#fd0a12"/><rect x="76.57" y="175.80" width="6.09" height="6.06" fill="#fd0a12"/><rect x="82.60" y="175.80" width="6.09" height="6.06" fill="#fd0a12"/><rect x="88.64" y="175.80" width="6.09" height="6.06" fill="#fd0a12"/><rect x="94.68" y="175.80" width="6.09" height="6.06" fill="#fd0a12"/><rect x="100.71" y="175.80" width="6.09" height="6.06" fill="#f8223e"/><rect x="106.75" y="175.80" width="6.09" height="6.06" fill="#f8223e"/><rect x="112.79" y="175.80" width="6.09" height="6.06" fill="#fd0a12"/><rect x="118.82" y="175.80" width="6.09" height="6.06" fill="#fd0a12"/><rect x="124.86" y="175.80" width="6.09" height="6.06" fill="#fd0a12"/><rect x="130.90" y="175.80" width="6.09" height="6.06" fill="#f53862"/><rect x="136.93" y="175.80" width="6.09" height="6.06" fill="#ff0000"/><rect x="142.97" y="175.80" width="6.09" height="6.06" fill="#ff0000"/><rect x="149.01" y="175.80" width="6.09" height="6.06" fill="#ff0000"/><rect x="155.04" y="175.80" width="6.09" height="6.06" fill="#fd0a12"/><rect x="161.08" y="175.80" width="6.09" height="6.06" fill="#ff0000"/><rect x="167.12" y="175.80" width="6.09" height="6.06" fill="#ff0000"/><rect x="173.15" y="175.80" width="6.09" height="6.06" fill="#ff0000"/><rect x="179.19" y="175.80" width="6.09" height="6.06" fill="#fd0a12"/><rect x="185.23" y="175.80" width="6.09" height="6.06" fill="#fd0a12"/><rect x="191.26" y="175.80" width="6.09" height="6.06" fill="#fd0a12"/><rect x="16.20" y="181.81" width="6.09" height="6.06" fill="#f8223e"/><rect x="22.24" y="181.81" width="6.09" height="6.06" fill="#fd0a12"/><rect x="28.27" y="181.81" width="6.09" height="6.06" fill="#f44c7b"/><rect x="34.31" y="181.81" width="6.09" height="6.06" fill="#f8223e"/><rect x="40.35" y="181.81" width="6.09" height="6.06" fill="#f53c67"/><rect x="46.38" y="181.81" width="6.09" height="6.06" fill="#f53c67"/><rect x="52.42" y="181.81" width="6.09" height="6.06" fill="#f678a8"/><rect x="58.46" y="181.81" width="6.09" height="6.06" fill="#f678a8"/><rect x="64.49" y="181.81" width="6.09" height="6.06" fill="#f8223e"/><rect x="70.53" y="181.81" width="6.09" height="6.06" fill="#f8223e"/><rect x="76.57" y="181.81" width="6.09" height="6.06" fill="#fd0a12"/><rect x="82.60" y="181.81" width="6.09" height="6.06" fill="#fd0a12"/><rect x="88.64" y="181.81" width="6.09" height="6.06" fill="#fd0a12"/><rect x="94.68" y="181.81" width="6.09" height="6.06" fill="#fd0a12"/><rect x="100.71" y="181.81" width="6.09" height="6.06" fill="#f8223e"/><rect x="106.75" y="181.81" width="6.09" height="6.06" fill="#f53862"/><rect x="112.79" y="181.81" width="6.09" height="6.06" fill="#f8223e"/><rect x="118.82" y="181.81" width="6.09" height="6.06" fill="#f8223e"/><rect x="124.86" y="181.81" width="6.09" height="6.06" fill="#f8223e"/><rect x="130.90" y="181.81" width="6.09" height="6.06" fill="#f53862"/><rect x="136.93" y="181.81" width="6.09" height="6.06" fill="#ff0000"/><rect x="142.97" y="181.81" width="6.09" height="6.06" fill="#ff0000"/><rect x="149.01" y="181.81" width="6.09" height="6.06" fill="#ff0000"/><rect x="155.04" y="181.81" width="6.09" height="6.06" fill="#fd0a12"/><rect x="161.08" y="181.81" width="6.09" height="6.06" fill="#fd0a12"/><rect x="167.12" y="181.81" width="6.09" height="6.06" fill="#fd0a12"/><rect x="173.15" y="181.81" width="6.09" height="6.06" fill="#fd0a12"/><rect x="179.19" y="181.81" width="6.09" height="6.06" fill="#fd0a12"/><rect x="185.23" y="181.81" width="6.09" height="6.06" fill="#fd0a12"/><rect x="191.26" y="181.81" width="6.09" height="6.06" fill="#fd0a12"/><rect x="16.20" y="187.82" width="6.09" height="6.06" fill="#f53862"/><rect x="22.24" y="187.82" width="6.09" height="6.06" fill="#f8223e"/><rect x="28.27" y="187.82" width="6.09" height="6.06" fill="#f674a5"/><rect x="34.31" y="187.82" width="6.09" height="6.06" fill="#f53862"/><rect x="40.35" y="187.82" width="6.09" height="6.06" fill="#f45080"/><rect x="46.38" y="187.82" width="6.09" height="6.06" fill="#f45080"/><rect x="52.42" y="187.82" width="6.09" height="6.06" fill="#f88db8"/><rect x="58.46" y="187.82" width="6.09" height="6.06" fill="#f88db8"/><rect x="64.49" y="187.82" width="6.09" height="6.06" fill="#f53862"/><rect x="70.53" y="187.82" width="6.09" height="6.06" fill="#f53862"/><rect x="76.57" y="187.82" width="6.09" height="6.06" fill="#f8223e"/><rect x="82.60" y="187.82" width="6.09" height="6.06" fill="#f8223e"/><rect x="88.64" y="187.82" width="6.09" height="6.06" fill="#f8223e"/><rect x="94.68" y="187.82" width="6.09" height="6.06" fill="#f8223e"/><rect x="100.71" y="187.82" width="6.09" height="6.06" fill="#f53862"/><rect x="106.75" y="187.82" width="6.09" height="6.06" fill="#f53862"/><rect x="112.79" y="187.82" width="6.09" height="6.06" fill="#f8223e"/><rect x="118.82" y="187.82" width="6.09" height="6.06" fill="#f8223e"/><rect x="124.86" y="187.82" width="6.09" height="6.06" fill="#f8223e"/><rect x="130.90" y="187.82" width="6.09" height="6.06" fill="#f53862"/><rect x="136.93" y="187.82" width="6.09" height="6.06" fill="#ff0000"/><rect x="142.97" y="187.82" width="6.09" height="6.06" fill="#ff0000"/><rect x="149.01" y="187.82" width="6.09" height="6.06" fill="#ff0000"/><rect x="155.04" y="187.82" width="6.09" height="6.06" fill="#fd0a12"/><rect x="161.08" y="187.82" width="6.09" height="6.06" fill="#f8223e"/><rect x="167.12" y="187.82" width="6.09" height="6.06" fill="#f8223e"/><rect x="173.15" y="187.82" width="6.09" height="6.06" fill="#f8223e"/><rect x="179.19" y="187.82" width="6.09" height="6.06" fill="#f8223e"/><rect x="185.23" y="187.82" width="6.09" height="6.06" fill="#f8223e"/><rect x="191.26" y="187.82" width="6.09" height="6.06" fill="#f8223e"/><rect x="16.20" y="193.83" width="6.09" height="6.06" fill="#f53862"/><rect x="22.24" y="193.83" width="6.09" height="6.06" fill="#f8223e"/><rect x="28.27" y="193.83" width="6.09" height="6.06" fill="#f44c7b"/><rect x="34.31" y="193.83" width="6.09" height="6.06" fill="#f8223e"/><rect x="40.35" y="193.83" width="6.09" height="6.06" fill="#f45080"/><rect x="46.38" y="193.83" width="6.09" height="6.06" fill="#f45080"/><rect x="52.42" y="193.83" width="6.09" height="6.06" fill="#f678a8"/><rect x="58.46" y="193.83" width="6.09" height="6.06" fill="#f678a8"/><rect x="64.49" y="193.83" width="6.09" height="6.06" fill="#fd0a12"/><rect x="70.53" y="193.83" width="6.09" height="6.06" fill="#fd0a12"/><rect x="76.57" y="193.83" width="6.09" height="6.06" fill="#fd0a12"/><rect x="82.60" y="193.83" width="6.09" height="6.06" fill="#fd0a12"/><rect x="88.64" y="193.83" width="6.09" height="6.06" fill="#fd0a12"/><rect x="94.68" y="193.83" width="6.09" height="6.06" fill="#fd0a12"/><rect x="100.71" y="193.83" width="6.09" height="6.06" fill="#f8223e"/><rect x="106.75" y="193.83" width="6.09" height="6.06" fill="#f44c7b"/><rect x="112.79" y="193.83" width="6.09" height="6.06" fill="#f8223e"/><rect x="118.82" y="193.83" width="6.09" height="6.06" fill="#f8223e"/><rect x="124.86" y="193.83" width="6.09" height="6.06" fill="#f8223e"/><rect x="130.90" y="193.83" width="6.09" height="6.06" fill="#f53862"/><rect x="136.93" y="193.83" width="6.09" height="6.06" fill="#fd0a12"/><rect x="142.97" y="193.83" width="6.09" height="6.06" fill="#fd0a12"/><rect x="149.01" y="193.83" width="6.09" height="6.06" fill="#fd0a12"/><rect x="155.04" y="193.83" width="6.09" height="6.06" fill="#ff0000"/><rect x="161.08" y="193.83" width="6.09" height="6.06" fill="#fd0a12"/><rect x="167.12" y="193.83" width="6.09" height="6.06" fill="#fd0a12"/><rect x="173.15" y="193.83" width="6.09" height="6.06" fill="#fd0a12"/><rect x="179.19" y="193.83" width="6.09" height="6.06" fill="#fa1628"/><rect x="185.23" y="193.83" width="6.09" height="6.06" fill="#f8223e"/><rect x="191.26" y="193.83" width="6.09" height="6.06" fill="#f8223e"/><rect x="16.20" y="199.84" width="6.09" height="6.06" fill="#f8223e"/><rect x="22.24" y="199.84" width="6.09" height="6.06" fill="#f8223e"/><rect x="28.27" y="199.84" width="6.09" height="6.06" fill="#f44c7b"/><rect x="34.31" y="199.84" width="6.09" height="6.06" fill="#f8223e"/><rect x="40.35" y="199.84" width="6.09" height="6.06" fill="#f45080"/><rect x="46.38" y="199.84" width="6.09" height="6.06" fill="#f45080"/><rect x="52.42" y="199.84" width="6.09" height="6.06" fill="#f678a8"/><rect x="58.46" y="199.84" width="6.09" height="6.06" fill="#f678a8"/><rect x="64.49" y="199.84" width="6.09" height="6.06" fill="#fd0a12"/><rect x="70.53" y="199.84" width="6.09" height="6.06" fill="#fd0a12"/><rect x="76.57" y="199.84" width="6.09" height="6.06" fill="#ff0000"/><rect x="82.60" y="199.84" width="6.09" height="6.06" fill="#ff0000"/><rect x="88.64" y="199.84" width="6.09" height="6.06" fill="#ff0000"/><rect x="94.68" y="199.84" width="6.09" height="6.06" fill="#ff0000"/><rect x="100.71" y="199.84" width="6.09" height="6.06" fill="#fd0a12"/><rect x="106.75" y="199.84" width="6.09" height="6.06" fill="#f8223e"/><rect x="112.79" y="199.84" width="6.09" height="6.06" fill="#fd0a12"/><rect x="118.82" y="199.84" width="6.09" height="6.06" fill="#fd0a12"/><rect x="124.86" y="199.84" width="6.09" height="6.06" fill="#fd0a12"/><rect x="130.90" y="199.84" width="6.09" height="6.06" fill="#f53862"/><rect x="136.93" y="199.84" width="6.09" height="6.06" fill="#ff0000"/><rect x="142.97" y="199.84" width="6.09" height="6.06" fill="#fd0a12"/><rect x="149.01" y="199.84" width="6.09" height="6.06" fill="#f8223e"/><rect x="155.04" y="199.84" width="6.09" height="6.06" fill="#fd0a12"/><rect x="161.08" y="199.84" width="6.09" height="6.06" fill="#ff0000"/><rect x="167.12" y="199.84" width="6.09" height="6.06" fill="#ff0000"/><rect x="173.15" y="199.84" width="6.09" height="6.06" fill="#ff0000"/><rect x="179.19" y="199.84" width="6.09" height="6.06" fill="#fa1628"/><rect x="185.23" y="199.84" width="6.09" height="6.06" fill="#fa1628"/><rect x="191.26" y="199.84" width="6.09" height="6.06" fill="#fa1628"/><rect x="16.20" y="205.85" width="6.09" height="6.06" fill="#f8223e"/><rect x="22.24" y="205.85" width="6.09" height="6.06" fill="#f8223e"/><rect x="28.27" y="205.85" width="6.09" height="6.06" fill="#f44c7b"/><rect x="34.31" y="205.85" width="6.09" height="6.06" fill="#f8223e"/><rect x="40.35" y="205.85" width="6.09" height="6.06" fill="#f45080"/><rect x="46.38" y="205.85" width="6.09" height="6.06" fill="#f45080"/><rect x="52.42" y="205.85" width="6.09" height="6.06" fill="#f678a8"/><rect x="58.46" y="205.85" width="6.09" height="6.06" fill="#f678a8"/><rect x="64.49" y="205.85" width="6.09" height="6.06" fill="#fd0a12"/><rect x="70.53" y="205.85" width="6.09" height="6.06" fill="#fd0a12"/><rect x="76.57" y="205.85" width="6.09" height="6.06" fill="#ff0000"/><rect x="82.60" y="205.85" width="6.09" height="6.06" fill="#ff0000"/><rect x="88.64" y="205.85" width="6.09" height="6.06" fill="#ff0000"/><rect x="94.68" y="205.85" width="6.09" height="6.06" fill="#ff0000"/><rect x="100.71" y="205.85" width="6.09" height="6.06" fill="#fd0a12"/><rect x="106.75" y="205.85" width="6.09" height="6.06" fill="#f8223e"/><rect x="112.79" y="205.85" width="6.09" height="6.06" fill="#fd0a12"/><rect x="118.82" y="205.85" width="6.09" height="6.06" fill="#fd0a12"/><rect x="124.86" y="205.85" width="6.09" height="6.06" fill="#fd0a12"/><rect x="130.90" y="205.85" width="6.09" height="6.06" fill="#f53862"/><rect x="136.93" y="205.85" width="6.09" height="6.06" fill="#ff0000"/><rect x="142.97" y="205.85" width="6.09" height="6.06" fill="#fd0a12"/><rect x="149.01" y="205.85" width="6.09" height="6.06" fill="#f8223e"/><rect x="155.04" y="205.85" width="6.09" height="6.06" fill="#fd0a12"/><rect x="161.08" y="205.85" width="6.09" height="6.06" fill="#ff0000"/><rect x="167.12" y="205.85" width="6.09" height="6.06" fill="#ff0000"/><rect x="173.15" y="205.85" width="6.09" height="6.06" fill="#ff0000"/><rect x="179.19" y="205.85" width="6.09" height="6.06" fill="#fd0a12"/><rect x="185.23" y="205.85" width="6.09" height="6.06" fill="#fa1628"/><rect x="191.26" y="205.85" width="6.09" height="6.06" fill="#fa1628"/><rect x="16.20" y="211.86" width="6.09" height="6.06" fill="#f8223e"/><rect x="22.24" y="211.86" width="6.09" height="6.06" fill="#f8223e"/><rect x="28.27" y="211.86" width="6.09" height="6.06" fill="#f44c7b"/><rect x="34.31" y="211.86" width="6.09" height="6.06" fill="#f8223e"/><rect x="40.35" y="211.86" width="6.09" height="6.06" fill="#f45080"/><rect x="46.38" y="211.86" width="6.09" height="6.06" fill="#f45080"/><rect x="52.42" y="211.86" width="6.09" height="6.06" fill="#f678a8"/><rect x="58.46" y="211.86" width="6.09" height="6.06" fill="#f678a8"/><rect x="64.49" y="211.86" width="6.09" height="6.06" fill="#f8223e"/><rect x="70.53" y="211.86" width="6.09" height="6.06" fill="#f8223e"/><rect x="76.57" y="211.86" width="6.09" height="6.06" fill="#fd0a12"/><rect x="82.60" y="211.86" width="6.09" height="6.06" fill="#ff0000"/><rect x="88.64" y="211.86" width="6.09" height="6.06" fill="#ff0000"/><rect x="94.68" y="211.86" width="6.09" height="6.06" fill="#ff0000"/><rect x="100.71" y="211.86" width="6.09" height="6.06" fill="#fd0a12"/><rect x="106.75" y="211.86" width="6.09" height="6.06" fill="#f8223e"/><rect x="112.79" y="211.86" width="6.09" height="6.06" fill="#fd0a12"/><rect x="118.82" y="211.86" width="6.09" height="6.06" fill="#fd0a12"/><rect x="124.86" y="211.86" width="6.09" height="6.06" fill="#fd0a12"/><rect x="130.90" y="211.86" width="6.09" height="6.06" fill="#f53862"/><rect x="136.93" y="211.86" width="6.09" height="6.06" fill="#ff0000"/><rect x="142.97" y="211.86" width="6.09" height="6.06" fill="#fd0a12"/><rect x="149.01" y="211.86" width="6.09" height="6.06" fill="#f8223e"/><rect x="155.04" y="211.86" width="6.09" height="6.06" fill="#fd0a12"/><rect x="161.08" y="211.86" width="6.09" height="6.06" fill="#ff0000"/><rect x="167.12" y="211.86" width="6.09" height="6.06" fill="#ff0000"/><rect x="173.15" y="211.86" width="6.09" height="6.06" fill="#ff0000"/><rect x="179.19" y="211.86" width="6.09" height="6.06" fill="#fd0a12"/><rect x="185.23" y="211.86" width="6.09" height="6.06" fill="#f8223e"/><rect x="191.26" y="211.86" width="6.09" height="6.06" fill="#f8223e"/><rect x="16.20" y="217.87" width="6.09" height="6.06" fill="#f44c7b"/><rect x="22.24" y="217.87" width="6.09" height="6.06" fill="#f44c7b"/><rect x="28.27" y="217.87" width="6.09" height="6.06" fill="#f56092"/><rect x="34.31" y="217.87" width="6.09" height="6.06" fill="#f53862"/><rect x="40.35" y="217.87" width="6.09" height="6.06" fill="#f72646"/><rect x="46.38" y="217.87" width="6.09" height="6.06" fill="#fc0e1a"/><rect x="52.42" y="217.87" width="6.09" height="6.06" fill="#f56495"/><rect x="58.46" y="217.87" width="6.09" height="6.06" fill="#f678a8"/><rect x="64.49" y="217.87" width="6.09" height="6.06" fill="#f8223e"/><rect x="70.53" y="217.87" width="6.09" height="6.06" fill="#f8223e"/><rect x="76.57" y="217.87" width="6.09" height="6.06" fill="#f8223e"/><rect x="82.60" y="217.87" width="6.09" height="6.06" fill="#f8223e"/><rect x="88.64" y="217.87" width="6.09" height="6.06" fill="#f8223e"/><rect x="94.68" y="217.87" width="6.09" height="6.06" fill="#f8223e"/><rect x="100.71" y="217.87" width="6.09" height="6.06" fill="#f8223e"/><rect x="106.75" y="217.87" width="6.09" height="6.06" fill="#f8223e"/><rect x="112.79" y="217.87" width="6.09" height="6.06" fill="#f8223e"/><rect x="118.82" y="217.87" width="6.09" height="6.06" fill="#fd0a12"/><rect x="124.86" y="217.87" width="6.09" height="6.06" fill="#fd0a12"/><rect x="130.90" y="217.87" width="6.09" height="6.06" fill="#f53862"/><rect x="136.93" y="217.87" width="6.09" height="6.06" fill="#fd0a12"/><rect x="142.97" y="217.87" width="6.09" height="6.06" fill="#fd0a12"/><rect x="149.01" y="217.87" width="6.09" height="6.06" fill="#f8223e"/><rect x="155.04" y="217.87" width="6.09" height="6.06" fill="#fa1628"/><rect x="161.08" y="217.87" width="6.09" height="6.06" fill="#fa1628"/><rect x="167.12" y="217.87" width="6.09" height="6.06" fill="#fd0a12"/><rect x="173.15" y="217.87" width="6.09" height="6.06" fill="#fd0a12"/><rect x="179.19" y="217.87" width="6.09" height="6.06" fill="#ff0000"/><rect x="185.23" y="217.87" width="6.09" height="6.06" fill="#ff0000"/><rect x="191.26" y="217.87" width="6.09" height="6.06" fill="#ff0000"/><rect x="16.20" y="223.88" width="6.09" height="6.06" fill="#f44c7b"/><rect x="22.24" y="223.88" width="6.09" height="6.06" fill="#f53862"/><rect x="28.27" y="223.88" width="6.09" height="6.06" fill="#f56092"/><rect x="34.31" y="223.88" width="6.09" height="6.06" fill="#f53862"/><rect x="40.35" y="223.88" width="6.09" height="6.06" fill="#fc0e1a"/><rect x="46.38" y="223.88" width="6.09" height="6.06" fill="#fc0e1a"/><rect x="52.42" y="223.88" width="6.09" height="6.06" fill="#f56495"/><rect x="58.46" y="223.88" width="6.09" height="6.06" fill="#f678a8"/><rect x="64.49" y="223.88" width="6.09" height="6.06" fill="#f8223e"/><rect x="70.53" y="223.88" width="6.09" height="6.06" fill="#f8223e"/><rect x="76.57" y="223.88" width="6.09" height="6.06" fill="#f8223e"/><rect x="82.60" y="223.88" width="6.09" height="6.06" fill="#f8223e"/><rect x="88.64" y="223.88" width="6.09" height="6.06" fill="#f8223e"/><rect x="94.68" y="223.88" width="6.09" height="6.06" fill="#f53862"/><rect x="100.71" y="223.88" width="6.09" height="6.06" fill="#f8223e"/><rect x="106.75" y="223.88" width="6.09" height="6.06" fill="#f53862"/><rect x="112.79" y="223.88" width="6.09" height="6.06" fill="#f8223e"/><rect x="118.82" y="223.88" width="6.09" height="6.06" fill="#f8223e"/><rect x="124.86" y="223.88" width="6.09" height="6.06" fill="#f8223e"/><rect x="130.90" y="223.88" width="6.09" height="6.06" fill="#f53862"/><rect x="136.93" y="223.88" width="6.09" height="6.06" fill="#fd0a12"/><rect x="142.97" y="223.88" width="6.09" height="6.06" fill="#fd0a12"/><rect x="149.01" y="223.88" width="6.09" height="6.06" fill="#f8223e"/><rect x="155.04" y="223.88" width="6.09" height="6.06" fill="#f8223e"/><rect x="161.08" y="223.88" width="6.09" height="6.06" fill="#fa1628"/><rect x="167.12" y="223.88" width="6.09" height="6.06" fill="#fa1628"/><rect x="173.15" y="223.88" width="6.09" height="6.06" fill="#f8223e"/><rect x="179.19" y="223.88" width="6.09" height="6.06" fill="#ff0000"/><rect x="185.23" y="223.88" width="6.09" height="6.06" fill="#ff0000"/><rect x="191.26" y="223.88" width="6.09" height="6.06" fill="#ff0000"/><rect x="16.20" y="229.89" width="6.09" height="6.06" fill="#f44c7b"/><rect x="22.24" y="229.89" width="6.09" height="6.06" fill="#f53862"/><rect x="28.27" y="229.89" width="6.09" height="6.06" fill="#f56092"/><rect x="34.31" y="229.89" width="6.09" height="6.06" fill="#f53862"/><rect x="40.35" y="229.89" width="6.09" height="6.06" fill="#f72646"/><rect x="46.38" y="229.89" width="6.09" height="6.06" fill="#fc0e1a"/><rect x="52.42" y="229.89" width="6.09" height="6.06" fill="#f56495"/><rect x="58.46" y="229.89" width="6.09" height="6.06" fill="#f678a8"/><rect x="64.49" y="229.89" width="6.09" height="6.06" fill="#f53862"/><rect x="70.53" y="229.89" width="6.09" height="6.06" fill="#f53862"/><rect x="76.57" y="229.89" width="6.09" height="6.06" fill="#f8223e"/><rect x="82.60" y="229.89" width="6.09" height="6.06" fill="#f8223e"/><rect x="88.64" y="229.89" width="6.09" height="6.06" fill="#f8223e"/><rect x="94.68" y="229.89" width="6.09" height="6.06" fill="#f8223e"/><rect x="100.71" y="229.89" width="6.09" height="6.06" fill="#f8223e"/><rect x="106.75" y="229.89" width="6.09" height="6.06" fill="#f53862"/><rect x="112.79" y="229.89" width="6.09" height="6.06" fill="#f8223e"/><rect x="118.82" y="229.89" width="6.09" height="6.06" fill="#f8223e"/><rect x="124.86" y="229.89" width="6.09" height="6.06" fill="#f8223e"/><rect x="130.90" y="229.89" width="6.09" height="6.06" fill="#f53862"/><rect x="136.93" y="229.89" width="6.09" height="6.06" fill="#fd0a12"/><rect x="142.97" y="229.89" width="6.09" height="6.06" fill="#fd0a12"/><rect x="149.01" y="229.89" width="6.09" height="6.06" fill="#f8223e"/><rect x="155.04" y="229.89" width="6.09" height="6.06" fill="#f8223e"/><rect x="161.08" y="229.89" width="6.09" height="6.06" fill="#fa1628"/><rect x="167.12" y="229.89" width="6.09" height="6.06" fill="#fa1628"/><rect x="173.15" y="229.89" width="6.09" height="6.06" fill="#f8223e"/><rect x="179.19" y="229.89" width="6.09" height="6.06" fill="#ff0000"/><rect x="185.23" y="229.89" width="6.09" height="6.06" fill="#ff0000"/><rect x="191.26" y="229.89" width="6.09" height="6.06" fill="#ff0000"/></g>
<rect x="16.20" y="55.60" width="1.90" height="180.30" fill="#fff" fill-opacity="0.50"/><rect x="16.20" y="55.60" width="181.10" height="1.89" fill="#fff" fill-opacity="0.50"/><rect x="31.00" y="55.60" width="3.40" height="180.30" fill="#fff" fill-opacity="0.22"/><rect x="16.20" y="70.33" width="181.10" height="3.38" fill="#fff" fill-opacity="0.22"/><rect x="41.60" y="55.60" width="1.90" height="180.30" fill="#fff" fill-opacity="0.22"/><rect x="16.20" y="80.89" width="181.10" height="1.89" fill="#fff" fill-opacity="0.22"/><rect x="52.20" y="55.60" width="1.90" height="180.30" fill="#fff" fill-opacity="0.20"/><rect x="16.20" y="91.44" width="181.10" height="1.89" fill="#fff" fill-opacity="0.20"/><rect x="58.80" y="55.60" width="1.80" height="180.30" fill="#fff" fill-opacity="0.12"/><rect x="16.20" y="98.01" width="181.10" height="1.79" fill="#fff" fill-opacity="0.12"/><rect x="104.40" y="55.60" width="4.10" height="180.30" fill="#fff" fill-opacity="0.20"/><rect x="16.20" y="143.41" width="181.10" height="4.08" fill="#fff" fill-opacity="0.20"/><rect x="128.70" y="55.60" width="4.80" height="180.30" fill="#fff" fill-opacity="0.18"/><rect x="16.20" y="167.60" width="181.10" height="4.78" fill="#fff" fill-opacity="0.18"/><rect x="155.80" y="55.60" width="2.90" height="180.30" fill="#fff" fill-opacity="0.22"/><rect x="16.20" y="194.58" width="181.10" height="2.89" fill="#fff" fill-opacity="0.22"/><rect x="178.00" y="55.60" width="1.40" height="180.30" fill="#fff" fill-opacity="0.14"/><rect x="16.20" y="216.69" width="181.10" height="1.39" fill="#fff" fill-opacity="0.14"/><rect x="184.40" y="55.60" width="1.80" height="180.30" fill="#fff" fill-opacity="0.12"/><rect x="16.20" y="223.06" width="181.10" height="1.79" fill="#fff" fill-opacity="0.12"/><rect x="190.70" y="55.60" width="1.50" height="180.30" fill="#fff" fill-opacity="0.12"/><rect x="16.20" y="229.33" width="181.10" height="1.49" fill="#fff" fill-opacity="0.12"/><rect x="16.20" y="55.60" width="1.95" height="180.30" fill="#fff" fill-opacity="0.06"/><rect x="16.20" y="55.60" width="181.10" height="1.94" fill="#fff" fill-opacity="0.06"/><rect x="18.15" y="55.60" width="1.95" height="180.30" fill="#fff" fill-opacity="0.08"/><rect x="16.20" y="57.54" width="181.10" height="1.94" fill="#fff" fill-opacity="0.08"/><rect x="22.04" y="55.60" width="1.95" height="180.30" fill="#fff" fill-opacity="0.13"/><rect x="16.20" y="61.42" width="181.10" height="1.94" fill="#fff" fill-opacity="0.13"/><rect x="23.99" y="55.60" width="1.95" height="180.30" fill="#fff" fill-opacity="0.04"/><rect x="16.20" y="63.35" width="181.10" height="1.94" fill="#fff" fill-opacity="0.04"/><rect x="31.78" y="55.60" width="1.95" height="180.30" fill="#fff" fill-opacity="0.08"/><rect x="16.20" y="71.11" width="181.10" height="1.94" fill="#fff" fill-opacity="0.08"/><rect x="33.73" y="55.60" width="1.95" height="180.30" fill="#fff" fill-opacity="0.13"/><rect x="16.20" y="73.05" width="181.10" height="1.94" fill="#fff" fill-opacity="0.13"/><rect x="35.67" y="55.60" width="1.95" height="180.30" fill="#fff" fill-opacity="0.04"/><rect x="16.20" y="74.99" width="181.10" height="1.94" fill="#fff" fill-opacity="0.04"/><rect x="37.62" y="55.60" width="1.95" height="180.30" fill="#fff" fill-opacity="0.10"/><rect x="16.20" y="76.93" width="181.10" height="1.94" fill="#fff" fill-opacity="0.10"/><rect x="41.52" y="55.60" width="1.95" height="180.30" fill="#fff" fill-opacity="0.04"/><rect x="16.20" y="80.80" width="181.10" height="1.94" fill="#fff" fill-opacity="0.04"/><rect x="45.41" y="55.60" width="1.95" height="180.30" fill="#fff" fill-opacity="0.04"/><rect x="16.20" y="84.68" width="181.10" height="1.94" fill="#fff" fill-opacity="0.04"/><rect x="47.36" y="55.60" width="1.95" height="180.30" fill="#fff" fill-opacity="0.10"/><rect x="16.20" y="86.62" width="181.10" height="1.94" fill="#fff" fill-opacity="0.10"/><rect x="49.30" y="55.60" width="1.95" height="180.30" fill="#fff" fill-opacity="0.06"/><rect x="16.20" y="88.56" width="181.10" height="1.94" fill="#fff" fill-opacity="0.06"/><rect x="53.20" y="55.60" width="1.95" height="180.30" fill="#fff" fill-opacity="0.10"/><rect x="16.20" y="92.44" width="181.10" height="1.94" fill="#fff" fill-opacity="0.10"/><rect x="60.99" y="55.60" width="1.95" height="180.30" fill="#fff" fill-opacity="0.13"/><rect x="16.20" y="100.19" width="181.10" height="1.94" fill="#fff" fill-opacity="0.13"/><rect x="70.72" y="55.60" width="1.95" height="180.30" fill="#fff" fill-opacity="0.04"/><rect x="16.20" y="109.88" width="181.10" height="1.94" fill="#fff" fill-opacity="0.04"/><rect x="72.67" y="55.60" width="1.95" height="180.30" fill="#fff" fill-opacity="0.04"/><rect x="16.20" y="111.82" width="181.10" height="1.94" fill="#fff" fill-opacity="0.04"/><rect x="78.51" y="55.60" width="1.95" height="180.30" fill="#fff" fill-opacity="0.06"/><rect x="16.20" y="117.64" width="181.10" height="1.94" fill="#fff" fill-opacity="0.06"/><rect x="80.46" y="55.60" width="1.95" height="180.30" fill="#fff" fill-opacity="0.08"/><rect x="16.20" y="119.58" width="181.10" height="1.94" fill="#fff" fill-opacity="0.08"/><rect x="82.41" y="55.60" width="1.95" height="180.30" fill="#fff" fill-opacity="0.04"/><rect x="16.20" y="121.52" width="181.10" height="1.94" fill="#fff" fill-opacity="0.04"/><rect x="84.36" y="55.60" width="1.95" height="180.30" fill="#fff" fill-opacity="0.04"/><rect x="16.20" y="123.45" width="181.10" height="1.94" fill="#fff" fill-opacity="0.04"/><rect x="88.25" y="55.60" width="1.95" height="180.30" fill="#fff" fill-opacity="0.04"/><rect x="16.20" y="127.33" width="181.10" height="1.94" fill="#fff" fill-opacity="0.04"/><rect x="90.20" y="55.60" width="1.95" height="180.30" fill="#fff" fill-opacity="0.10"/><rect x="16.20" y="129.27" width="181.10" height="1.94" fill="#fff" fill-opacity="0.10"/><rect x="92.15" y="55.60" width="1.95" height="180.30" fill="#fff" fill-opacity="0.06"/><rect x="16.20" y="131.21" width="181.10" height="1.94" fill="#fff" fill-opacity="0.06"/><rect x="96.04" y="55.60" width="1.95" height="180.30" fill="#fff" fill-opacity="0.08"/><rect x="16.20" y="135.09" width="181.10" height="1.94" fill="#fff" fill-opacity="0.08"/><rect x="97.99" y="55.60" width="1.95" height="180.30" fill="#fff" fill-opacity="0.10"/><rect x="16.20" y="137.03" width="181.10" height="1.94" fill="#fff" fill-opacity="0.10"/><rect x="103.83" y="55.60" width="1.95" height="180.30" fill="#fff" fill-opacity="0.06"/><rect x="16.20" y="142.84" width="181.10" height="1.94" fill="#fff" fill-opacity="0.06"/><rect x="107.72" y="55.60" width="1.95" height="180.30" fill="#fff" fill-opacity="0.08"/><rect x="16.20" y="146.72" width="181.10" height="1.94" fill="#fff" fill-opacity="0.08"/><rect x="109.67" y="55.60" width="1.95" height="180.30" fill="#fff" fill-opacity="0.06"/><rect x="16.20" y="148.66" width="181.10" height="1.94" fill="#fff" fill-opacity="0.06"/><rect x="113.57" y="55.60" width="1.95" height="180.30" fill="#fff" fill-opacity="0.08"/><rect x="16.20" y="152.54" width="181.10" height="1.94" fill="#fff" fill-opacity="0.08"/><rect x="117.46" y="55.60" width="1.95" height="180.30" fill="#fff" fill-opacity="0.06"/><rect x="16.20" y="156.41" width="181.10" height="1.94" fill="#fff" fill-opacity="0.06"/><rect x="119.41" y="55.60" width="1.95" height="180.30" fill="#fff" fill-opacity="0.08"/><rect x="16.20" y="158.35" width="181.10" height="1.94" fill="#fff" fill-opacity="0.08"/><rect x="121.35" y="55.60" width="1.95" height="180.30" fill="#fff" fill-opacity="0.06"/><rect x="16.20" y="160.29" width="181.10" height="1.94" fill="#fff" fill-opacity="0.06"/><rect x="123.30" y="55.60" width="1.95" height="180.30" fill="#fff" fill-opacity="0.13"/><rect x="16.20" y="162.23" width="181.10" height="1.94" fill="#fff" fill-opacity="0.13"/><rect x="125.25" y="55.60" width="1.95" height="180.30" fill="#fff" fill-opacity="0.08"/><rect x="16.20" y="164.17" width="181.10" height="1.94" fill="#fff" fill-opacity="0.08"/><rect x="129.14" y="55.60" width="1.95" height="180.30" fill="#fff" fill-opacity="0.13"/><rect x="16.20" y="168.05" width="181.10" height="1.94" fill="#fff" fill-opacity="0.13"/><rect x="131.09" y="55.60" width="1.95" height="180.30" fill="#fff" fill-opacity="0.13"/><rect x="16.20" y="169.98" width="181.10" height="1.94" fill="#fff" fill-opacity="0.13"/><rect x="136.93" y="55.60" width="1.95" height="180.30" fill="#fff" fill-opacity="0.06"/><rect x="16.20" y="175.80" width="181.10" height="1.94" fill="#fff" fill-opacity="0.06"/><rect x="140.83" y="55.60" width="1.95" height="180.30" fill="#fff" fill-opacity="0.08"/><rect x="16.20" y="179.68" width="181.10" height="1.94" fill="#fff" fill-opacity="0.08"/><rect x="142.78" y="55.60" width="1.95" height="180.30" fill="#fff" fill-opacity="0.10"/><rect x="16.20" y="181.62" width="181.10" height="1.94" fill="#fff" fill-opacity="0.10"/><rect x="146.67" y="55.60" width="1.95" height="180.30" fill="#fff" fill-opacity="0.10"/><rect x="16.20" y="185.49" width="181.10" height="1.94" fill="#fff" fill-opacity="0.10"/><rect x="148.62" y="55.60" width="1.95" height="180.30" fill="#fff" fill-opacity="0.08"/><rect x="16.20" y="187.43" width="181.10" height="1.94" fill="#fff" fill-opacity="0.08"/><rect x="150.56" y="55.60" width="1.95" height="180.30" fill="#fff" fill-opacity="0.10"/><rect x="16.20" y="189.37" width="181.10" height="1.94" fill="#fff" fill-opacity="0.10"/><rect x="154.46" y="55.60" width="1.95" height="180.30" fill="#fff" fill-opacity="0.13"/><rect x="16.20" y="193.25" width="181.10" height="1.94" fill="#fff" fill-opacity="0.13"/><rect x="160.30" y="55.60" width="1.95" height="180.30" fill="#fff" fill-opacity="0.04"/><rect x="16.20" y="199.06" width="181.10" height="1.94" fill="#fff" fill-opacity="0.04"/><rect x="164.20" y="55.60" width="1.95" height="180.30" fill="#fff" fill-opacity="0.04"/><rect x="16.20" y="202.94" width="181.10" height="1.94" fill="#fff" fill-opacity="0.04"/><rect x="166.14" y="55.60" width="1.95" height="180.30" fill="#fff" fill-opacity="0.13"/><rect x="16.20" y="204.88" width="181.10" height="1.94" fill="#fff" fill-opacity="0.13"/><rect x="168.09" y="55.60" width="1.95" height="180.30" fill="#fff" fill-opacity="0.08"/><rect x="16.20" y="206.82" width="181.10" height="1.94" fill="#fff" fill-opacity="0.08"/><rect x="170.04" y="55.60" width="1.95" height="180.30" fill="#fff" fill-opacity="0.08"/><rect x="16.20" y="208.76" width="181.10" height="1.94" fill="#fff" fill-opacity="0.08"/><rect x="171.98" y="55.60" width="1.95" height="180.30" fill="#fff" fill-opacity="0.06"/><rect x="16.20" y="210.70" width="181.10" height="1.94" fill="#fff" fill-opacity="0.06"/><rect x="173.93" y="55.60" width="1.95" height="180.30" fill="#fff" fill-opacity="0.13"/><rect x="16.20" y="212.64" width="181.10" height="1.94" fill="#fff" fill-opacity="0.13"/><rect x="177.83" y="55.60" width="1.95" height="180.30" fill="#fff" fill-opacity="0.08"/><rect x="16.20" y="216.51" width="181.10" height="1.94" fill="#fff" fill-opacity="0.08"/><rect x="179.77" y="55.60" width="1.95" height="180.30" fill="#fff" fill-opacity="0.06"/><rect x="16.20" y="218.45" width="181.10" height="1.94" fill="#fff" fill-opacity="0.06"/><rect x="183.67" y="55.60" width="1.95" height="180.30" fill="#fff" fill-opacity="0.10"/><rect x="16.20" y="222.33" width="181.10" height="1.94" fill="#fff" fill-opacity="0.10"/><rect x="187.56" y="55.60" width="1.95" height="180.30" fill="#fff" fill-opacity="0.04"/><rect x="16.20" y="226.21" width="181.10" height="1.94" fill="#fff" fill-opacity="0.04"/><rect x="189.51" y="55.60" width="1.95" height="180.30" fill="#fff" fill-opacity="0.08"/><rect x="16.20" y="228.15" width="181.10" height="1.94" fill="#fff" fill-opacity="0.08"/><rect x="191.46" y="55.60" width="1.95" height="180.30" fill="#fff" fill-opacity="0.08"/><rect x="16.20" y="230.08" width="181.10" height="1.94" fill="#fff" fill-opacity="0.08"/><rect x="195.35" y="55.60" width="1.95" height="180.30" fill="#fff" fill-opacity="0.08"/><rect x="16.20" y="233.96" width="181.10" height="1.94" fill="#fff" fill-opacity="0.08"/>
<rect x="16.20" y="55.60" width="1.95" height="1.94" fill="#ff0000"/><rect x="18.15" y="57.54" width="1.95" height="1.94" fill="#ff0000"/><rect x="20.09" y="59.48" width="1.95" height="1.94" fill="#ff0000"/><rect x="22.04" y="61.42" width="1.95" height="1.94" fill="#ff0000"/><rect x="23.99" y="63.35" width="1.95" height="1.94" fill="#ff0000"/><rect x="25.94" y="65.29" width="1.95" height="1.94" fill="#ff0000"/><rect x="27.88" y="67.23" width="1.95" height="1.94" fill="#ff0000"/><rect x="29.83" y="69.17" width="1.95" height="1.94" fill="#ff0000"/><rect x="31.78" y="71.11" width="1.95" height="1.94" fill="#ff0000"/><rect x="33.73" y="73.05" width="1.95" height="1.94" fill="#ff0000"/><rect x="35.67" y="74.99" width="1.95" height="1.94" fill="#ff0000"/><rect x="37.62" y="76.93" width="1.95" height="1.94" fill="#ff0000"/><rect x="39.57" y="78.86" width="1.95" height="1.94" fill="#ff0000"/><rect x="41.52" y="80.80" width="1.95" height="1.94" fill="#ff0000"/><rect x="43.46" y="82.74" width="1.95" height="1.94" fill="#ff0000"/><rect x="45.41" y="84.68" width="1.95" height="1.94" fill="#ff0000"/><rect x="47.36" y="86.62" width="1.95" height="1.94" fill="#ff0000"/><rect x="49.30" y="88.56" width="1.95" height="1.94" fill="#ff0000"/><rect x="51.25" y="90.50" width="1.95" height="1.94" fill="#ff0000"/><rect x="53.20" y="92.44" width="1.95" height="1.94" fill="#ff0000"/><rect x="55.15" y="94.37" width="1.95" height="1.94" fill="#ff0000"/><rect x="57.09" y="96.31" width="1.95" height="1.94" fill="#ff0000"/><rect x="59.04" y="98.25" width="1.95" height="1.94" fill="#ff0000"/><rect x="60.99" y="100.19" width="1.95" height="1.94" fill="#ff0000"/><rect x="62.94" y="102.13" width="1.95" height="1.94" fill="#ff0000"/><rect x="64.88" y="104.07" width="1.95" height="1.94" fill="#ff0000"/><rect x="66.83" y="106.01" width="1.95" height="1.94" fill="#ff0000"/><rect x="68.78" y="107.95" width="1.95" height="1.94" fill="#ff0000"/><rect x="70.72" y="109.88" width="1.95" height="1.94" fill="#ff0000"/><rect x="72.67" y="111.82" width="1.95" height="1.94" fill="#ff0000"/><rect x="74.62" y="113.76" width="1.95" height="1.94" fill="#ff0000"/><rect x="76.57" y="115.70" width="1.95" height="1.94" fill="#ff0000"/><rect x="78.51" y="117.64" width="1.95" height="1.94" fill="#ff0000"/><rect x="80.46" y="119.58" width="1.95" height="1.94" fill="#ff0000"/><rect x="82.41" y="121.52" width="1.95" height="1.94" fill="#ff0000"/><rect x="84.36" y="123.45" width="1.95" height="1.94" fill="#ff0000"/><rect x="86.30" y="125.39" width="1.95" height="1.94" fill="#ff0000"/><rect x="88.25" y="127.33" width="1.95" height="1.94" fill="#ff0000"/><rect x="90.20" y="129.27" width="1.95" height="1.94" fill="#ff0000"/><rect x="92.15" y="131.21" width="1.95" height="1.94" fill="#ff0000"/><rect x="94.09" y="133.15" width="1.95" height="1.94" fill="#ff0000"/><rect x="96.04" y="135.09" width="1.95" height="1.94" fill="#ff0000"/><rect x="97.99" y="137.03" width="1.95" height="1.94" fill="#ff0000"/><rect x="99.93" y="138.96" width="1.95" height="1.94" fill="#ff0000"/><rect x="101.88" y="140.90" width="1.95" height="1.94" fill="#ff0000"/><rect x="103.83" y="142.84" width="1.95" height="1.94" fill="#ff0000"/><rect x="105.78" y="144.78" width="1.95" height="1.94" fill="#ff0000"/><rect x="107.72" y="146.72" width="1.95" height="1.94" fill="#ff0000"/><rect x="109.67" y="148.66" width="1.95" height="1.94" fill="#ff0000"/><rect x="111.62" y="150.60" width="1.95" height="1.94" fill="#ff0000"/><rect x="113.57" y="152.54" width="1.95" height="1.94" fill="#ff0000"/><rect x="115.51" y="154.47" width="1.95" height="1.94" fill="#ff0000"/><rect x="117.46" y="156.41" width="1.95" height="1.94" fill="#ff0000"/><rect x="119.41" y="158.35" width="1.95" height="1.94" fill="#ff0000"/><rect x="121.35" y="160.29" width="1.95" height="1.94" fill="#ff0000"/><rect x="123.30" y="162.23" width="1.95" height="1.94" fill="#ff0000"/><rect x="125.25" y="164.17" width="1.95" height="1.94" fill="#ff0000"/><rect x="127.20" y="166.11" width="1.95" height="1.94" fill="#ff0000"/><rect x="129.14" y="168.05" width="1.95" height="1.94" fill="#ff0000"/><rect x="131.09" y="169.98" width="1.95" height="1.94" fill="#ff0000"/><rect x="133.04" y="171.92" width="1.95" height="1.94" fill="#ff0000"/><rect x="134.99" y="173.86" width="1.95" height="1.94" fill="#ff0000"/><rect x="136.93" y="175.80" width="1.95" height="1.94" fill="#ff0000"/><rect x="138.88" y="177.74" width="1.95" height="1.94" fill="#ff0000"/><rect x="140.83" y="179.68" width="1.95" height="1.94" fill="#ff0000"/><rect x="142.78" y="181.62" width="1.95" height="1.94" fill="#ff0000"/><rect x="144.72" y="183.55" width="1.95" height="1.94" fill="#ff0000"/><rect x="146.67" y="185.49" width="1.95" height="1.94" fill="#ff0000"/><rect x="148.62" y="187.43" width="1.95" height="1.94" fill="#ff0000"/><rect x="150.56" y="189.37" width="1.95" height="1.94" fill="#ff0000"/><rect x="152.51" y="191.31" width="1.95" height="1.94" fill="#ff0000"/><rect x="154.46" y="193.25" width="1.95" height="1.94" fill="#ff0000"/><rect x="156.41" y="195.19" width="1.95" height="1.94" fill="#ff0000"/><rect x="158.35" y="197.13" width="1.95" height="1.94" fill="#ff0000"/><rect x="160.30" y="199.06" width="1.95" height="1.94" fill="#ff0000"/><rect x="162.25" y="201.00" width="1.95" height="1.94" fill="#ff0000"/><rect x="164.20" y="202.94" width="1.95" height="1.94" fill="#ff0000"/><rect x="166.14" y="204.88" width="1.95" height="1.94" fill="#ff0000"/><rect x="168.09" y="206.82" width="1.95" height="1.94" fill="#ff0000"/><rect x="170.04" y="208.76" width="1.95" height="1.94" fill="#ff0000"/><rect x="171.98" y="210.70" width="1.95" height="1.94" fill="#ff0000"/><rect x="173.93" y="212.64" width="1.95" height="1.94" fill="#ff0000"/><rect x="175.88" y="214.57" width="1.95" height="1.94" fill="#ff0000"/><rect x="177.83" y="216.51" width="1.95" height="1.94" fill="#ff0000"/><rect x="179.77" y="218.45" width="1.95" height="1.94" fill="#ff0000"/><rect x="181.72" y="220.39" width="1.95" height="1.94" fill="#ff0000"/><rect x="183.67" y="222.33" width="1.95" height="1.94" fill="#ff0000"/><rect x="185.62" y="224.27" width="1.95" height="1.94" fill="#ff0000"/><rect x="187.56" y="226.21" width="1.95" height="1.94" fill="#ff0000"/><rect x="189.51" y="228.15" width="1.95" height="1.94" fill="#ff0000"/><rect x="191.46" y="230.08" width="1.95" height="1.94" fill="#ff0000"/><rect x="193.41" y="232.02" width="1.95" height="1.94" fill="#ff0000"/><rect x="195.35" y="233.96" width="1.95" height="1.94" fill="#ff0000"/>
<rect x="15.7" y="55.0" width="182.2" height="181.5" fill="none" stroke="#000" stroke-width="1.2"/>
<defs><linearGradient id="gsim" x1="0" x2="1" y1="0" y2="0"><stop offset="0" stop-color="#ffffff"/><stop offset="0.25" stop-color="#f9c0d6"/><stop offset="0.5" stop-color="#f470a0"/><stop offset="0.75" stop-color="#f6345c"/><stop offset="1" stop-color="#ff0000"/></linearGradient></defs>
<rect x="119.6" y="241.6" width="78.2" height="7.3" fill="url(#gsim)" stroke="#000" stroke-width="1"/>
<text x="120.30" y="256.80" font-size="6.30" text-anchor="middle">0</text>
<text x="158.20" y="256.80" font-size="6.30" text-anchor="middle">Similarity</text>
<text x="197.60" y="256.80" font-size="6.30" text-anchor="middle">1</text>
<rect x="15.70" y="251.80" width="7.00" height="6.80" fill="#0a6a0a" stroke="#000" stroke-width="1.00"/>
<rect x="15.70" y="260.60" width="7.00" height="6.80" fill="#f7a21e" stroke="#000" stroke-width="1.00"/>
<text x="25.30" y="256.90" font-size="6.70">Primary adult</text>
<text x="25.30" y="265.50" font-size="6.70">Primary pedi</text>
<rect x="70.10" y="252.00" width="7.00" height="6.80" fill="#f200dc" stroke="#000" stroke-width="1.00"/>
<rect x="70.10" y="261.00" width="7.00" height="6.80" fill="#fff" stroke="#000" stroke-width="1.00"/>
<rect x="70.10" y="269.90" width="7.00" height="6.80" fill="#c4cece" stroke="#000" stroke-width="1.00"/>
<text x="79.8" y="256.7" font-size="6.7" font-style="italic">KMT2Ar</text>
<text x="79.8" y="265.7" font-size="6.7">non-<tspan font-style="italic">KMT2Ar</tspan></text>
<text x="79.80" y="274.50" font-size="6.70">Unknown</text>
<g shape-rendering="crispEdges"><rect x="247.50" y="55.70" width="6.33" height="6.33" fill="#ff0000"/><rect x="253.78" y="55.70" width="6.33" height="6.33" fill="#f53058"/><rect x="260.05" y="55.70" width="6.33" height="6.33" fill="#fff8fa"/><rect x="266.33" y="55.70" width="6.33" height="6.33" fill="#f4588a"/><rect x="272.60" y="55.70" width="6.33" height="6.33" fill="#f676a6"/><rect x="278.88" y="55.70" width="6.33" height="6.33" fill="#f66c9d"/><rect x="285.16" y="55.70" width="6.33" height="6.33" fill="#f53058"/><rect x="291.43" y="55.70" width="6.33" height="6.33" fill="#fff8fa"/><rect x="297.71" y="55.70" width="6.33" height="6.33" fill="#fbc2d9"/><rect x="303.98" y="55.70" width="6.33" height="6.33" fill="#faaccc"/><rect x="310.26" y="55.70" width="6.33" height="6.33" fill="#f780b0"/><rect x="316.53" y="55.70" width="6.33" height="6.33" fill="#f66c9d"/><rect x="322.81" y="55.70" width="6.33" height="6.33" fill="#fbc2d9"/><rect x="329.09" y="55.70" width="6.33" height="6.33" fill="#fbc2d9"/><rect x="335.36" y="55.70" width="6.33" height="6.33" fill="#fbc2d9"/><rect x="341.64" y="55.70" width="6.33" height="6.33" fill="#fcd7e6"/><rect x="347.91" y="55.70" width="6.33" height="6.33" fill="#f780b0"/><rect x="354.19" y="55.70" width="6.33" height="6.33" fill="#fbc2d9"/><rect x="360.47" y="55.70" width="6.33" height="6.33" fill="#fbc2d9"/><rect x="366.74" y="55.70" width="6.33" height="6.33" fill="#fbc2d9"/><rect x="373.02" y="55.70" width="6.33" height="6.33" fill="#faaccc"/><rect x="379.29" y="55.70" width="6.33" height="6.33" fill="#faaccc"/><rect x="385.57" y="55.70" width="6.33" height="6.33" fill="#faaccc"/><rect x="391.84" y="55.70" width="6.33" height="6.33" fill="#faaccc"/><rect x="398.12" y="55.70" width="6.33" height="6.33" fill="#fee8f0"/><rect x="404.40" y="55.70" width="6.33" height="6.33" fill="#fee8f0"/><rect x="410.67" y="55.70" width="6.33" height="6.33" fill="#fee8f0"/><rect x="416.95" y="55.70" width="6.33" height="6.33" fill="#fee8f0"/><rect x="423.22" y="55.70" width="6.33" height="6.33" fill="#fee8f0"/><rect x="247.50" y="61.98" width="6.33" height="6.33" fill="#f53058"/><rect x="253.78" y="61.98" width="6.33" height="6.33" fill="#ff0000"/><rect x="260.05" y="61.98" width="6.33" height="6.33" fill="#f780b0"/><rect x="266.33" y="61.98" width="6.33" height="6.33" fill="#f4588a"/><rect x="272.60" y="61.98" width="6.33" height="6.33" fill="#f44e7d"/><rect x="278.88" y="61.98" width="6.33" height="6.33" fill="#f53a65"/><rect x="285.16" y="61.98" width="6.33" height="6.33" fill="#f82442"/><rect x="291.43" y="61.98" width="6.33" height="6.33" fill="#fab7d2"/><rect x="297.71" y="61.98" width="6.33" height="6.33" fill="#faaccc"/><rect x="303.98" y="61.98" width="6.33" height="6.33" fill="#f780b0"/><rect x="310.26" y="61.98" width="6.33" height="6.33" fill="#f66c9d"/><rect x="316.53" y="61.98" width="6.33" height="6.33" fill="#f44471"/><rect x="322.81" y="61.98" width="6.33" height="6.33" fill="#f780b0"/><rect x="329.09" y="61.98" width="6.33" height="6.33" fill="#f4588a"/><rect x="335.36" y="61.98" width="6.33" height="6.33" fill="#f4588a"/><rect x="341.64" y="61.98" width="6.33" height="6.33" fill="#f66c9d"/><rect x="347.91" y="61.98" width="6.33" height="6.33" fill="#f44471"/><rect x="354.19" y="61.98" width="6.33" height="6.33" fill="#f780b0"/><rect x="360.47" y="61.98" width="6.33" height="6.33" fill="#f896be"/><rect x="366.74" y="61.98" width="6.33" height="6.33" fill="#f896be"/><rect x="373.02" y="61.98" width="6.33" height="6.33" fill="#f44471"/><rect x="379.29" y="61.98" width="6.33" height="6.33" fill="#f44471"/><rect x="385.57" y="61.98" width="6.33" height="6.33" fill="#f44471"/><rect x="391.84" y="61.98" width="6.33" height="6.33" fill="#f44471"/><rect x="398.12" y="61.98" width="6.33" height="6.33" fill="#f780b0"/><rect x="404.40" y="61.98" width="6.33" height="6.33" fill="#f780b0"/><rect x="410.67" y="61.98" width="6.33" height="6.33" fill="#f780b0"/><rect x="416.95" y="61.98" width="6.33" height="6.33" fill="#f66c9d"/><rect x="423.22" y="61.98" width="6.33" height="6.33" fill="#f66c9d"/><rect x="247.50" y="68.25" width="6.33" height="6.33" fill="#fff8fa"/><rect x="253.78" y="68.25" width="6.33" height="6.33" fill="#f780b0"/><rect x="260.05" y="68.25" width="6.33" height="6.33" fill="#ff0000"/><rect x="266.33" y="68.25" width="6.33" height="6.33" fill="#f4588a"/><rect x="272.60" y="68.25" width="6.33" height="6.33" fill="#f44e7d"/><rect x="278.88" y="68.25" width="6.33" height="6.33" fill="#f44471"/><rect x="285.16" y="68.25" width="6.33" height="6.33" fill="#f4588a"/><rect x="291.43" y="68.25" width="6.33" height="6.33" fill="#faaccc"/><rect x="297.71" y="68.25" width="6.33" height="6.33" fill="#faaccc"/><rect x="303.98" y="68.25" width="6.33" height="6.33" fill="#f780b0"/><rect x="310.26" y="68.25" width="6.33" height="6.33" fill="#f44471"/><rect x="316.53" y="68.25" width="6.33" height="6.33" fill="#f780b0"/><rect x="322.81" y="68.25" width="6.33" height="6.33" fill="#f4588a"/><rect x="329.09" y="68.25" width="6.33" height="6.33" fill="#f4588a"/><rect x="335.36" y="68.25" width="6.33" height="6.33" fill="#fa182c"/><rect x="341.64" y="68.25" width="6.33" height="6.33" fill="#fa182c"/><rect x="347.91" y="68.25" width="6.33" height="6.33" fill="#faaccc"/><rect x="354.19" y="68.25" width="6.33" height="6.33" fill="#fbc2d9"/><rect x="360.47" y="68.25" width="6.33" height="6.33" fill="#fcd7e6"/><rect x="366.74" y="68.25" width="6.33" height="6.33" fill="#fcd7e6"/><rect x="373.02" y="68.25" width="6.33" height="6.33" fill="#f896be"/><rect x="379.29" y="68.25" width="6.33" height="6.33" fill="#f780b0"/><rect x="385.57" y="68.25" width="6.33" height="6.33" fill="#f780b0"/><rect x="391.84" y="68.25" width="6.33" height="6.33" fill="#f44471"/><rect x="398.12" y="68.25" width="6.33" height="6.33" fill="#fbc2d9"/><rect x="404.40" y="68.25" width="6.33" height="6.33" fill="#faaccc"/><rect x="410.67" y="68.25" width="6.33" height="6.33" fill="#f896be"/><rect x="416.95" y="68.25" width="6.33" height="6.33" fill="#f780b0"/><rect x="423.22" y="68.25" width="6.33" height="6.33" fill="#f780b0"/><rect x="247.50" y="74.53" width="6.33" height="6.33" fill="#f4588a"/><rect x="253.78" y="74.53" width="6.33" height="6.33" fill="#f4588a"/><rect x="260.05" y="74.53" width="6.33" height="6.33" fill="#f4588a"/><rect x="266.33" y="74.53" width="6.33" height="6.33" fill="#ff0000"/><rect x="272.60" y="74.53" width="6.33" height="6.33" fill="#ff0000"/><rect x="278.88" y="74.53" width="6.33" height="6.33" fill="#fc0c16"/><rect x="285.16" y="74.53" width="6.33" height="6.33" fill="#fa182c"/><rect x="291.43" y="74.53" width="6.33" height="6.33" fill="#faaccc"/><rect x="297.71" y="74.53" width="6.33" height="6.33" fill="#f9a1c5"/><rect x="303.98" y="74.53" width="6.33" height="6.33" fill="#f676a6"/><rect x="310.26" y="74.53" width="6.33" height="6.33" fill="#fa182c"/><rect x="316.53" y="74.53" width="6.33" height="6.33" fill="#f44471"/><rect x="322.81" y="74.53" width="6.33" height="6.33" fill="#f44471"/><rect x="329.09" y="74.53" width="6.33" height="6.33" fill="#f780b0"/><rect x="335.36" y="74.53" width="6.33" height="6.33" fill="#fa182c"/><rect x="341.64" y="74.53" width="6.33" height="6.33" fill="#f44471"/><rect x="347.91" y="74.53" width="6.33" height="6.33" fill="#faaccc"/><rect x="354.19" y="74.53" width="6.33" height="6.33" fill="#faaccc"/><rect x="360.47" y="74.53" width="6.33" height="6.33" fill="#fbc2d9"/><rect x="366.74" y="74.53" width="6.33" height="6.33" fill="#fbc2d9"/><rect x="373.02" y="74.53" width="6.33" height="6.33" fill="#faaccc"/><rect x="379.29" y="74.53" width="6.33" height="6.33" fill="#f66c9d"/><rect x="385.57" y="74.53" width="6.33" height="6.33" fill="#f66c9d"/><rect x="391.84" y="74.53" width="6.33" height="6.33" fill="#f44471"/><rect x="398.12" y="74.53" width="6.33" height="6.33" fill="#fee8f0"/><rect x="404.40" y="74.53" width="6.33" height="6.33" fill="#faaccc"/><rect x="410.67" y="74.53" width="6.33" height="6.33" fill="#faaccc"/><rect x="416.95" y="74.53" width="6.33" height="6.33" fill="#f896be"/><rect x="423.22" y="74.53" width="6.33" height="6.33" fill="#f896be"/><rect x="247.50" y="80.80" width="6.33" height="6.33" fill="#f676a6"/><rect x="253.78" y="80.80" width="6.33" height="6.33" fill="#f44e7d"/><rect x="260.05" y="80.80" width="6.33" height="6.33" fill="#f44e7d"/><rect x="266.33" y="80.80" width="6.33" height="6.33" fill="#ff0000"/><rect x="272.60" y="80.80" width="6.33" height="6.33" fill="#ff0000"/><rect x="278.88" y="80.80" width="6.33" height="6.33" fill="#fa182c"/><rect x="285.16" y="80.80" width="6.33" height="6.33" fill="#f53058"/><rect x="291.43" y="80.80" width="6.33" height="6.33" fill="#f676a6"/><rect x="297.71" y="80.80" width="6.33" height="6.33" fill="#f676a6"/><rect x="303.98" y="80.80" width="6.33" height="6.33" fill="#f4588a"/><rect x="310.26" y="80.80" width="6.33" height="6.33" fill="#fa182c"/><rect x="316.53" y="80.80" width="6.33" height="6.33" fill="#f44471"/><rect x="322.81" y="80.80" width="6.33" height="6.33" fill="#ff0000"/><rect x="329.09" y="80.80" width="6.33" height="6.33" fill="#f44471"/><rect x="335.36" y="80.80" width="6.33" height="6.33" fill="#fa182c"/><rect x="341.64" y="80.80" width="6.33" height="6.33" fill="#f53058"/><rect x="347.91" y="80.80" width="6.33" height="6.33" fill="#f780b0"/><rect x="354.19" y="80.80" width="6.33" height="6.33" fill="#f780b0"/><rect x="360.47" y="80.80" width="6.33" height="6.33" fill="#faaccc"/><rect x="366.74" y="80.80" width="6.33" height="6.33" fill="#faaccc"/><rect x="373.02" y="80.80" width="6.33" height="6.33" fill="#f896be"/><rect x="379.29" y="80.80" width="6.33" height="6.33" fill="#f44471"/><rect x="385.57" y="80.80" width="6.33" height="6.33" fill="#f44471"/><rect x="391.84" y="80.80" width="6.33" height="6.33" fill="#f53058"/><rect x="398.12" y="80.80" width="6.33" height="6.33" fill="#faaccc"/><rect x="404.40" y="80.80" width="6.33" height="6.33" fill="#f66c9d"/><rect x="410.67" y="80.80" width="6.33" height="6.33" fill="#f66c9d"/><rect x="416.95" y="80.80" width="6.33" height="6.33" fill="#f4588a"/><rect x="423.22" y="80.80" width="6.33" height="6.33" fill="#f66c9d"/><rect x="247.50" y="87.08" width="6.33" height="6.33" fill="#f66c9d"/><rect x="253.78" y="87.08" width="6.33" height="6.33" fill="#f53a65"/><rect x="260.05" y="87.08" width="6.33" height="6.33" fill="#f44471"/><rect x="266.33" y="87.08" width="6.33" height="6.33" fill="#fc0c16"/><rect x="272.60" y="87.08" width="6.33" height="6.33" fill="#fa182c"/><rect x="278.88" y="87.08" width="6.33" height="6.33" fill="#ff0000"/><rect x="285.16" y="87.08" width="6.33" height="6.33" fill="#f82442"/><rect x="291.43" y="87.08" width="6.33" height="6.33" fill="#f780b0"/><rect x="297.71" y="87.08" width="6.33" height="6.33" fill="#f66c9d"/><rect x="303.98" y="87.08" width="6.33" height="6.33" fill="#f4588a"/><rect x="310.26" y="87.08" width="6.33" height="6.33" fill="#fa182c"/><rect x="316.53" y="87.08" width="6.33" height="6.33" fill="#fa182c"/><rect x="322.81" y="87.08" width="6.33" height="6.33" fill="#f44471"/><rect x="329.09" y="87.08" width="6.33" height="6.33" fill="#f44471"/><rect x="335.36" y="87.08" width="6.33" height="6.33" fill="#fa182c"/><rect x="341.64" y="87.08" width="6.33" height="6.33" fill="#f53058"/><rect x="347.91" y="87.08" width="6.33" height="6.33" fill="#f4588a"/><rect x="354.19" y="87.08" width="6.33" height="6.33" fill="#f780b0"/><rect x="360.47" y="87.08" width="6.33" height="6.33" fill="#f896be"/><rect x="366.74" y="87.08" width="6.33" height="6.33" fill="#f896be"/><rect x="373.02" y="87.08" width="6.33" height="6.33" fill="#f780b0"/><rect x="379.29" y="87.08" width="6.33" height="6.33" fill="#f44471"/><rect x="385.57" y="87.08" width="6.33" height="6.33" fill="#f53058"/><rect x="391.84" y="87.08" width="6.33" height="6.33" fill="#fa182c"/><rect x="398.12" y="87.08" width="6.33" height="6.33" fill="#faaccc"/><rect x="404.40" y="87.08" width="6.33" height="6.33" fill="#f66c9d"/><rect x="410.67" y="87.08" width="6.33" height="6.33" fill="#f66c9d"/><rect x="416.95" y="87.08" width="6.33" height="6.33" fill="#f4588a"/><rect x="423.22" y="87.08" width="6.33" height="6.33" fill="#f66c9d"/><rect x="247.50" y="93.36" width="6.33" height="6.33" fill="#f53058"/><rect x="253.78" y="93.36" width="6.33" height="6.33" fill="#f82442"/><rect x="260.05" y="93.36" width="6.33" height="6.33" fill="#f4588a"/><rect x="266.33" y="93.36" width="6.33" height="6.33" fill="#fa182c"/><rect x="272.60" y="93.36" width="6.33" height="6.33" fill="#f53058"/><rect x="278.88" y="93.36" width="6.33" height="6.33" fill="#f82442"/><rect x="285.16" y="93.36" width="6.33" height="6.33" fill="#ff0000"/><rect x="291.43" y="93.36" width="6.33" height="6.33" fill="#faaccc"/><rect x="297.71" y="93.36" width="6.33" height="6.33" fill="#f780b0"/><rect x="303.98" y="93.36" width="6.33" height="6.33" fill="#f56294"/><rect x="310.26" y="93.36" width="6.33" height="6.33" fill="#fa182c"/><rect x="316.53" y="93.36" width="6.33" height="6.33" fill="#fa182c"/><rect x="322.81" y="93.36" width="6.33" height="6.33" fill="#f66c9d"/><rect x="329.09" y="93.36" width="6.33" height="6.33" fill="#f4588a"/><rect x="335.36" y="93.36" width="6.33" height="6.33" fill="#f44471"/><rect x="341.64" y="93.36" width="6.33" height="6.33" fill="#f4588a"/><rect x="347.91" y="93.36" width="6.33" height="6.33" fill="#f4588a"/><rect x="354.19" y="93.36" width="6.33" height="6.33" fill="#faaccc"/><rect x="360.47" y="93.36" width="6.33" height="6.33" fill="#f896be"/><rect x="366.74" y="93.36" width="6.33" height="6.33" fill="#f896be"/><rect x="373.02" y="93.36" width="6.33" height="6.33" fill="#f44471"/><rect x="379.29" y="93.36" width="6.33" height="6.33" fill="#f44471"/><rect x="385.57" y="93.36" width="6.33" height="6.33" fill="#f53058"/><rect x="391.84" y="93.36" width="6.33" height="6.33" fill="#f53058"/><rect x="398.12" y="93.36" width="6.33" height="6.33" fill="#faaccc"/><rect x="404.40" y="93.36" width="6.33" height="6.33" fill="#f780b0"/><rect x="410.67" y="93.36" width="6.33" height="6.33" fill="#f780b0"/><rect x="416.95" y="93.36" width="6.33" height="6.33" fill="#f780b0"/><rect x="423.22" y="93.36" width="6.33" height="6.33" fill="#f780b0"/><rect x="247.50" y="99.63" width="6.33" height="6.33" fill="#fff8fa"/><rect x="253.78" y="99.63" width="6.33" height="6.33" fill="#fab7d2"/><rect x="260.05" y="99.63" width="6.33" height="6.33" fill="#faaccc"/><rect x="266.33" y="99.63" width="6.33" height="6.33" fill="#faaccc"/><rect x="272.60" y="99.63" width="6.33" height="6.33" fill="#f676a6"/><rect x="278.88" y="99.63" width="6.33" height="6.33" fill="#f780b0"/><rect x="285.16" y="99.63" width="6.33" height="6.33" fill="#faaccc"/><rect x="291.43" y="99.63" width="6.33" height="6.33" fill="#ff0000"/><rect x="297.71" y="99.63" width="6.33" height="6.33" fill="#f44471"/><rect x="303.98" y="99.63" width="6.33" height="6.33" fill="#f66c9d"/><rect x="310.26" y="99.63" width="6.33" height="6.33" fill="#f66c9d"/><rect x="316.53" y="99.63" width="6.33" height="6.33" fill="#f896be"/><rect x="322.81" y="99.63" width="6.33" height="6.33" fill="#f4588a"/><rect x="329.09" y="99.63" width="6.33" height="6.33" fill="#f53058"/><rect x="335.36" y="99.63" width="6.33" height="6.33" fill="#f66c9d"/><rect x="341.64" y="99.63" width="6.33" height="6.33" fill="#f66c9d"/><rect x="347.91" y="99.63" width="6.33" height="6.33" fill="#fbc2d9"/><rect x="354.19" y="99.63" width="6.33" height="6.33" fill="#f4588a"/><rect x="360.47" y="99.63" width="6.33" height="6.33" fill="#f896be"/><rect x="366.74" y="99.63" width="6.33" height="6.33" fill="#f896be"/><rect x="373.02" y="99.63" width="6.33" height="6.33" fill="#faaccc"/><rect x="379.29" y="99.63" width="6.33" height="6.33" fill="#f66c9d"/><rect x="385.57" y="99.63" width="6.33" height="6.33" fill="#f4588a"/><rect x="391.84" y="99.63" width="6.33" height="6.33" fill="#f66c9d"/><rect x="398.12" y="99.63" width="6.33" height="6.33" fill="#faaccc"/><rect x="404.40" y="99.63" width="6.33" height="6.33" fill="#faaccc"/><rect x="410.67" y="99.63" width="6.33" height="6.33" fill="#f66c9d"/><rect x="416.95" y="99.63" width="6.33" height="6.33" fill="#f780b0"/><rect x="423.22" y="99.63" width="6.33" height="6.33" fill="#f780b0"/><rect x="247.50" y="105.91" width="6.33" height="6.33" fill="#fbc2d9"/><rect x="253.78" y="105.91" width="6.33" height="6.33" fill="#faaccc"/><rect x="260.05" y="105.91" width="6.33" height="6.33" fill="#faaccc"/><rect x="266.33" y="105.91" width="6.33" height="6.33" fill="#f9a1c5"/><rect x="272.60" y="105.91" width="6.33" height="6.33" fill="#f676a6"/><rect x="278.88" y="105.91" width="6.33" height="6.33" fill="#f66c9d"/><rect x="285.16" y="105.91" width="6.33" height="6.33" fill="#f780b0"/><rect x="291.43" y="105.91" width="6.33" height="6.33" fill="#f44471"/><rect x="297.71" y="105.91" width="6.33" height="6.33" fill="#ff0000"/><rect x="303.98" y="105.91" width="6.33" height="6.33" fill="#f44471"/><rect x="310.26" y="105.91" width="6.33" height="6.33" fill="#f44471"/><rect x="316.53" y="105.91" width="6.33" height="6.33" fill="#f44471"/><rect x="322.81" y="105.91" width="6.33" height="6.33" fill="#f44471"/><rect x="329.09" y="105.91" width="6.33" height="6.33" fill="#f44471"/><rect x="335.36" y="105.91" width="6.33" height="6.33" fill="#f4588a"/><rect x="341.64" y="105.91" width="6.33" height="6.33" fill="#f66c9d"/><rect x="347.91" y="105.91" width="6.33" height="6.33" fill="#f66c9d"/><rect x="354.19" y="105.91" width="6.33" height="6.33" fill="#f66c9d"/><rect x="360.47" y="105.91" width="6.33" height="6.33" fill="#f780b0"/><rect x="366.74" y="105.91" width="6.33" height="6.33" fill="#f780b0"/><rect x="373.02" y="105.91" width="6.33" height="6.33" fill="#f780b0"/><rect x="379.29" y="105.91" width="6.33" height="6.33" fill="#f66c9d"/><rect x="385.57" y="105.91" width="6.33" height="6.33" fill="#f4588a"/><rect x="391.84" y="105.91" width="6.33" height="6.33" fill="#f66c9d"/><rect x="398.12" y="105.91" width="6.33" height="6.33" fill="#fbc2d9"/><rect x="404.40" y="105.91" width="6.33" height="6.33" fill="#faaccc"/><rect x="410.67" y="105.91" width="6.33" height="6.33" fill="#f896be"/><rect x="416.95" y="105.91" width="6.33" height="6.33" fill="#f896be"/><rect x="423.22" y="105.91" width="6.33" height="6.33" fill="#f896be"/><rect x="247.50" y="112.18" width="6.33" height="6.33" fill="#faaccc"/><rect x="253.78" y="112.18" width="6.33" height="6.33" fill="#f780b0"/><rect x="260.05" y="112.18" width="6.33" height="6.33" fill="#f780b0"/><rect x="266.33" y="112.18" width="6.33" height="6.33" fill="#f676a6"/><rect x="272.60" y="112.18" width="6.33" height="6.33" fill="#f4588a"/><rect x="278.88" y="112.18" width="6.33" height="6.33" fill="#f4588a"/><rect x="285.16" y="112.18" width="6.33" height="6.33" fill="#f56294"/><rect x="291.43" y="112.18" width="6.33" height="6.33" fill="#f66c9d"/><rect x="297.71" y="112.18" width="6.33" height="6.33" fill="#f44471"/><rect x="303.98" y="112.18" width="6.33" height="6.33" fill="#ff0000"/><rect x="310.26" y="112.18" width="6.33" height="6.33" fill="#f44471"/><rect x="316.53" y="112.18" width="6.33" height="6.33" fill="#f4588a"/><rect x="322.81" y="112.18" width="6.33" height="6.33" fill="#f66c9d"/><rect x="329.09" y="112.18" width="6.33" height="6.33" fill="#f66c9d"/><rect x="335.36" y="112.18" width="6.33" height="6.33" fill="#f66c9d"/><rect x="341.64" y="112.18" width="6.33" height="6.33" fill="#f66c9d"/><rect x="347.91" y="112.18" width="6.33" height="6.33" fill="#f780b0"/><rect x="354.19" y="112.18" width="6.33" height="6.33" fill="#f780b0"/><rect x="360.47" y="112.18" width="6.33" height="6.33" fill="#f780b0"/><rect x="366.74" y="112.18" width="6.33" height="6.33" fill="#f780b0"/><rect x="373.02" y="112.18" width="6.33" height="6.33" fill="#f780b0"/><rect x="379.29" y="112.18" width="6.33" height="6.33" fill="#f66c9d"/><rect x="385.57" y="112.18" width="6.33" height="6.33" fill="#f4588a"/><rect x="391.84" y="112.18" width="6.33" height="6.33" fill="#f66c9d"/><rect x="398.12" y="112.18" width="6.33" height="6.33" fill="#fbc2d9"/><rect x="404.40" y="112.18" width="6.33" height="6.33" fill="#faaccc"/><rect x="410.67" y="112.18" width="6.33" height="6.33" fill="#faaccc"/><rect x="416.95" y="112.18" width="6.33" height="6.33" fill="#faaccc"/><rect x="423.22" y="112.18" width="6.33" height="6.33" fill="#faaccc"/><rect x="247.50" y="118.46" width="6.33" height="6.33" fill="#f780b0"/><rect x="253.78" y="118.46" width="6.33" height="6.33" fill="#f66c9d"/><rect x="260.05" y="118.46" width="6.33" height="6.33" fill="#f44471"/><rect x="266.33" y="118.46" width="6.33" height="6.33" fill="#fa182c"/><rect x="272.60" y="118.46" width="6.33" height="6.33" fill="#fa182c"/><rect x="278.88" y="118.46" width="6.33" height="6.33" fill="#fa182c"/><rect x="285.16" y="118.46" width="6.33" height="6.33" fill="#fa182c"/><rect x="291.43" y="118.46" width="6.33" height="6.33" fill="#f66c9d"/><rect x="297.71" y="118.46" width="6.33" height="6.33" fill="#f44471"/><rect x="303.98" y="118.46" width="6.33" height="6.33" fill="#f44471"/><rect x="310.26" y="118.46" width="6.33" height="6.33" fill="#ff0000"/><rect x="316.53" y="118.46" width="6.33" height="6.33" fill="#f53058"/><rect x="322.81" y="118.46" width="6.33" height="6.33" fill="#f53058"/><rect x="329.09" y="118.46" width="6.33" height="6.33" fill="#f53058"/><rect x="335.36" y="118.46" width="6.33" height="6.33" fill="#fa182c"/><rect x="341.64" y="118.46" width="6.33" height="6.33" fill="#f53058"/><rect x="347.91" y="118.46" width="6.33" height="6.33" fill="#f896be"/><rect x="354.19" y="118.46" width="6.33" height="6.33" fill="#f780b0"/><rect x="360.47" y="118.46" width="6.33" height="6.33" fill="#faaccc"/><rect x="366.74" y="118.46" width="6.33" height="6.33" fill="#faaccc"/><rect x="373.02" y="118.46" width="6.33" height="6.33" fill="#f66c9d"/><rect x="379.29" y="118.46" width="6.33" height="6.33" fill="#fa182c"/><rect x="385.57" y="118.46" width="6.33" height="6.33" fill="#fa182c"/><rect x="391.84" y="118.46" width="6.33" height="6.33" fill="#ff0000"/><rect x="398.12" y="118.46" width="6.33" height="6.33" fill="#faaccc"/><rect x="404.40" y="118.46" width="6.33" height="6.33" fill="#f780b0"/><rect x="410.67" y="118.46" width="6.33" height="6.33" fill="#f780b0"/><rect x="416.95" y="118.46" width="6.33" height="6.33" fill="#f66c9d"/><rect x="423.22" y="118.46" width="6.33" height="6.33" fill="#f66c9d"/><rect x="247.50" y="124.73" width="6.33" height="6.33" fill="#f66c9d"/><rect x="253.78" y="124.73" width="6.33" height="6.33" fill="#f44471"/><rect x="260.05" y="124.73" width="6.33" height="6.33" fill="#f780b0"/><rect x="266.33" y="124.73" width="6.33" height="6.33" fill="#f44471"/><rect x="272.60" y="124.73" width="6.33" height="6.33" fill="#f44471"/><rect x="278.88" y="124.73" width="6.33" height="6.33" fill="#fa182c"/><rect x="285.16" y="124.73" width="6.33" height="6.33" fill="#fa182c"/><rect x="291.43" y="124.73" width="6.33" height="6.33" fill="#f896be"/><rect x="297.71" y="124.73" width="6.33" height="6.33" fill="#f44471"/><rect x="303.98" y="124.73" width="6.33" height="6.33" fill="#f4588a"/><rect x="310.26" y="124.73" width="6.33" height="6.33" fill="#f53058"/><rect x="316.53" y="124.73" width="6.33" height="6.33" fill="#ff0000"/><rect x="322.81" y="124.73" width="6.33" height="6.33" fill="#f44471"/><rect x="329.09" y="124.73" width="6.33" height="6.33" fill="#f44471"/><rect x="335.36" y="124.73" width="6.33" height="6.33" fill="#f44471"/><rect x="341.64" y="124.73" width="6.33" height="6.33" fill="#f44471"/><rect x="347.91" y="124.73" width="6.33" height="6.33" fill="#f4588a"/><rect x="354.19" y="124.73" width="6.33" height="6.33" fill="#f780b0"/><rect x="360.47" y="124.73" width="6.33" height="6.33" fill="#faaccc"/><rect x="366.74" y="124.73" width="6.33" height="6.33" fill="#faaccc"/><rect x="373.02" y="124.73" width="6.33" height="6.33" fill="#f4588a"/><rect x="379.29" y="124.73" width="6.33" height="6.33" fill="#f44471"/><rect x="385.57" y="124.73" width="6.33" height="6.33" fill="#f53058"/><rect x="391.84" y="124.73" width="6.33" height="6.33" fill="#fa182c"/><rect x="398.12" y="124.73" width="6.33" height="6.33" fill="#f896be"/><rect x="404.40" y="124.73" width="6.33" height="6.33" fill="#f4588a"/><rect x="410.67" y="124.73" width="6.33" height="6.33" fill="#f780b0"/><rect x="416.95" y="124.73" width="6.33" height="6.33" fill="#f66c9d"/><rect x="423.22" y="124.73" width="6.33" height="6.33" fill="#f66c9d"/><rect x="247.50" y="131.01" width="6.33" height="6.33" fill="#fbc2d9"/><rect x="253.78" y="131.01" width="6.33" height="6.33" fill="#f780b0"/><rect x="260.05" y="131.01" width="6.33" height="6.33" fill="#f4588a"/><rect x="266.33" y="131.01" width="6.33" height="6.33" fill="#f44471"/><rect x="272.60" y="131.01" width="6.33" height="6.33" fill="#ff0000"/><rect x="278.88" y="131.01" width="6.33" height="6.33" fill="#f44471"/><rect x="285.16" y="131.01" width="6.33" height="6.33" fill="#f66c9d"/><rect x="291.43" y="131.01" width="6.33" height="6.33" fill="#f4588a"/><rect x="297.71" y="131.01" width="6.33" height="6.33" fill="#f44471"/><rect x="303.98" y="131.01" width="6.33" height="6.33" fill="#f66c9d"/><rect x="310.26" y="131.01" width="6.33" height="6.33" fill="#f53058"/><rect x="316.53" y="131.01" width="6.33" height="6.33" fill="#f44471"/><rect x="322.81" y="131.01" width="6.33" height="6.33" fill="#ff0000"/><rect x="329.09" y="131.01" width="6.33" height="6.33" fill="#f53058"/><rect x="335.36" y="131.01" width="6.33" height="6.33" fill="#f53058"/><rect x="341.64" y="131.01" width="6.33" height="6.33" fill="#f53058"/><rect x="347.91" y="131.01" width="6.33" height="6.33" fill="#f780b0"/><rect x="354.19" y="131.01" width="6.33" height="6.33" fill="#f66c9d"/><rect x="360.47" y="131.01" width="6.33" height="6.33" fill="#f896be"/><rect x="366.74" y="131.01" width="6.33" height="6.33" fill="#faaccc"/><rect x="373.02" y="131.01" width="6.33" height="6.33" fill="#f780b0"/><rect x="379.29" y="131.01" width="6.33" height="6.33" fill="#f44471"/><rect x="385.57" y="131.01" width="6.33" height="6.33" fill="#f44471"/><rect x="391.84" y="131.01" width="6.33" height="6.33" fill="#f53058"/><rect x="398.12" y="131.01" width="6.33" height="6.33" fill="#f896be"/><rect x="404.40" y="131.01" width="6.33" height="6.33" fill="#f66c9d"/><rect x="410.67" y="131.01" width="6.33" height="6.33" fill="#f66c9d"/><rect x="416.95" y="131.01" width="6.33" height="6.33" fill="#f4588a"/><rect x="423.22" y="131.01" width="6.33" height="6.33" fill="#f4588a"/><rect x="247.50" y="137.29" width="6.33" height="6.33" fill="#fbc2d9"/><rect x="253.78" y="137.29" width="6.33" height="6.33" fill="#f4588a"/><rect x="260.05" y="137.29" width="6.33" height="6.33" fill="#f4588a"/><rect x="266.33" y="137.29" width="6.33" height="6.33" fill="#f780b0"/><rect x="272.60" y="137.29" width="6.33" height="6.33" fill="#f44471"/><rect x="278.88" y="137.29" width="6.33" height="6.33" fill="#f44471"/><rect x="285.16" y="137.29" width="6.33" height="6.33" fill="#f4588a"/><rect x="291.43" y="137.29" width="6.33" height="6.33" fill="#f53058"/><rect x="297.71" y="137.29" width="6.33" height="6.33" fill="#f44471"/><rect x="303.98" y="137.29" width="6.33" height="6.33" fill="#f66c9d"/><rect x="310.26" y="137.29" width="6.33" height="6.33" fill="#f53058"/><rect x="316.53" y="137.29" width="6.33" height="6.33" fill="#f44471"/><rect x="322.81" y="137.29" width="6.33" height="6.33" fill="#f53058"/><rect x="329.09" y="137.29" width="6.33" height="6.33" fill="#ff0000"/><rect x="335.36" y="137.29" width="6.33" height="6.33" fill="#f53058"/><rect x="341.64" y="137.29" width="6.33" height="6.33" fill="#f53058"/><rect x="347.91" y="137.29" width="6.33" height="6.33" fill="#f44471"/><rect x="354.19" y="137.29" width="6.33" height="6.33" fill="#f44471"/><rect x="360.47" y="137.29" width="6.33" height="6.33" fill="#f780b0"/><rect x="366.74" y="137.29" width="6.33" height="6.33" fill="#f780b0"/><rect x="373.02" y="137.29" width="6.33" height="6.33" fill="#f53058"/><rect x="379.29" y="137.29" width="6.33" height="6.33" fill="#fa182c"/><rect x="385.57" y="137.29" width="6.33" height="6.33" fill="#fa182c"/><rect x="391.84" y="137.29" width="6.33" height="6.33" fill="#fa182c"/><rect x="398.12" y="137.29" width="6.33" height="6.33" fill="#f4588a"/><rect x="404.40" y="137.29" width="6.33" height="6.33" fill="#f53058"/><rect x="410.67" y="137.29" width="6.33" height="6.33" fill="#f53058"/><rect x="416.95" y="137.29" width="6.33" height="6.33" fill="#f53058"/><rect x="423.22" y="137.29" width="6.33" height="6.33" fill="#f53058"/><rect x="247.50" y="143.56" width="6.33" height="6.33" fill="#fbc2d9"/><rect x="253.78" y="143.56" width="6.33" height="6.33" fill="#f4588a"/><rect x="260.05" y="143.56" width="6.33" height="6.33" fill="#fa182c"/><rect x="266.33" y="143.56" width="6.33" height="6.33" fill="#fa182c"/><rect x="272.60" y="143.56" width="6.33" height="6.33" fill="#fa182c"/><rect x="278.88" y="143.56" width="6.33" height="6.33" fill="#fa182c"/><rect x="285.16" y="143.56" width="6.33" height="6.33" fill="#f44471"/><rect x="291.43" y="143.56" width="6.33" height="6.33" fill="#f66c9d"/><rect x="297.71" y="143.56" width="6.33" height="6.33" fill="#f4588a"/><rect x="303.98" y="143.56" width="6.33" height="6.33" fill="#f66c9d"/><rect x="310.26" y="143.56" width="6.33" height="6.33" fill="#fa182c"/><rect x="316.53" y="143.56" width="6.33" height="6.33" fill="#f44471"/><rect x="322.81" y="143.56" width="6.33" height="6.33" fill="#f53058"/><rect x="329.09" y="143.56" width="6.33" height="6.33" fill="#f53058"/><rect x="335.36" y="143.56" width="6.33" height="6.33" fill="#ff0000"/><rect x="341.64" y="143.56" width="6.33" height="6.33" fill="#ff0000"/><rect x="347.91" y="143.56" width="6.33" height="6.33" fill="#f66c9d"/><rect x="354.19" y="143.56" width="6.33" height="6.33" fill="#f896be"/><rect x="360.47" y="143.56" width="6.33" height="6.33" fill="#faaccc"/><rect x="366.74" y="143.56" width="6.33" height="6.33" fill="#faaccc"/><rect x="373.02" y="143.56" width="6.33" height="6.33" fill="#f4588a"/><rect x="379.29" y="143.56" width="6.33" height="6.33" fill="#f53058"/><rect x="385.57" y="143.56" width="6.33" height="6.33" fill="#fa182c"/><rect x="391.84" y="143.56" width="6.33" height="6.33" fill="#ff0000"/><rect x="398.12" y="143.56" width="6.33" height="6.33" fill="#f780b0"/><rect x="404.40" y="143.56" width="6.33" height="6.33" fill="#f4588a"/><rect x="410.67" y="143.56" width="6.33" height="6.33" fill="#f66c9d"/><rect x="416.95" y="143.56" width="6.33" height="6.33" fill="#f4588a"/><rect x="423.22" y="143.56" width="6.33" height="6.33" fill="#f4588a"/><rect x="247.50" y="149.84" width="6.33" height="6.33" fill="#fcd7e6"/><rect x="253.78" y="149.84" width="6.33" height="6.33" fill="#f66c9d"/><rect x="260.05" y="149.84" width="6.33" height="6.33" fill="#fa182c"/><rect x="266.33" y="149.84" width="6.33" height="6.33" fill="#f44471"/><rect x="272.60" y="149.84" width="6.33" height="6.33" fill="#f53058"/><rect x="278.88" y="149.84" width="6.33" height="6.33" fill="#f53058"/><rect x="285.16" y="149.84" width="6.33" height="6.33" fill="#f4588a"/><rect x="291.43" y="149.84" width="6.33" height="6.33" fill="#f66c9d"/><rect x="297.71" y="149.84" width="6.33" height="6.33" fill="#f66c9d"/><rect x="303.98" y="149.84" width="6.33" height="6.33" fill="#f66c9d"/><rect x="310.26" y="149.84" width="6.33" height="6.33" fill="#f53058"/><rect x="316.53" y="149.84" width="6.33" height="6.33" fill="#f44471"/><rect x="322.81" y="149.84" width="6.33" height="6.33" fill="#f53058"/><rect x="329.09" y="149.84" width="6.33" height="6.33" fill="#f53058"/><rect x="335.36" y="149.84" width="6.33" height="6.33" fill="#ff0000"/><rect x="341.64" y="149.84" width="6.33" height="6.33" fill="#ff0000"/><rect x="347.91" y="149.84" width="6.33" height="6.33" fill="#f66c9d"/><rect x="354.19" y="149.84" width="6.33" height="6.33" fill="#f896be"/><rect x="360.47" y="149.84" width="6.33" height="6.33" fill="#faaccc"/><rect x="366.74" y="149.84" width="6.33" height="6.33" fill="#faaccc"/><rect x="373.02" y="149.84" width="6.33" height="6.33" fill="#f66c9d"/><rect x="379.29" y="149.84" width="6.33" height="6.33" fill="#f4588a"/><rect x="385.57" y="149.84" width="6.33" height="6.33" fill="#f44471"/><rect x="391.84" y="149.84" width="6.33" height="6.33" fill="#fa182c"/><rect x="398.12" y="149.84" width="6.33" height="6.33" fill="#f780b0"/><rect x="404.40" y="149.84" width="6.33" height="6.33" fill="#f44471"/><rect x="410.67" y="149.84" width="6.33" height="6.33" fill="#f4588a"/><rect x="416.95" y="149.84" width="6.33" height="6.33" fill="#f53058"/><rect x="423.22" y="149.84" width="6.33" height="6.33" fill="#f53058"/><rect x="247.50" y="156.11" width="6.33" height="6.33" fill="#f780b0"/><rect x="253.78" y="156.11" width="6.33" height="6.33" fill="#f44471"/><rect x="260.05" y="156.11" width="6.33" height="6.33" fill="#faaccc"/><rect x="266.33" y="156.11" width="6.33" height="6.33" fill="#faaccc"/><rect x="272.60" y="156.11" width="6.33" height="6.33" fill="#f780b0"/><rect x="278.88" y="156.11" width="6.33" height="6.33" fill="#f4588a"/><rect x="285.16" y="156.11" width="6.33" height="6.33" fill="#f4588a"/><rect x="291.43" y="156.11" width="6.33" height="6.33" fill="#fbc2d9"/><rect x="297.71" y="156.11" width="6.33" height="6.33" fill="#f66c9d"/><rect x="303.98" y="156.11" width="6.33" height="6.33" fill="#f780b0"/><rect x="310.26" y="156.11" width="6.33" height="6.33" fill="#f896be"/><rect x="316.53" y="156.11" width="6.33" height="6.33" fill="#f4588a"/><rect x="322.81" y="156.11" width="6.33" height="6.33" fill="#f780b0"/><rect x="329.09" y="156.11" width="6.33" height="6.33" fill="#f44471"/><rect x="335.36" y="156.11" width="6.33" height="6.33" fill="#f66c9d"/><rect x="341.64" y="156.11" width="6.33" height="6.33" fill="#f66c9d"/><rect x="347.91" y="156.11" width="6.33" height="6.33" fill="#ff0000"/><rect x="354.19" y="156.11" width="6.33" height="6.33" fill="#f44471"/><rect x="360.47" y="156.11" width="6.33" height="6.33" fill="#f44471"/><rect x="366.74" y="156.11" width="6.33" height="6.33" fill="#f44471"/><rect x="373.02" y="156.11" width="6.33" height="6.33" fill="#f53058"/><rect x="379.29" y="156.11" width="6.33" height="6.33" fill="#f4588a"/><rect x="385.57" y="156.11" width="6.33" height="6.33" fill="#f44471"/><rect x="391.84" y="156.11" width="6.33" height="6.33" fill="#f44471"/><rect x="398.12" y="156.11" width="6.33" height="6.33" fill="#f44471"/><rect x="404.40" y="156.11" width="6.33" height="6.33" fill="#f44471"/><rect x="410.67" y="156.11" width="6.33" height="6.33" fill="#f66c9d"/><rect x="416.95" y="156.11" width="6.33" height="6.33" fill="#f66c9d"/><rect x="423.22" y="156.11" width="6.33" height="6.33" fill="#f780b0"/><rect x="247.50" y="162.39" width="6.33" height="6.33" fill="#fbc2d9"/><rect x="253.78" y="162.39" width="6.33" height="6.33" fill="#f780b0"/><rect x="260.05" y="162.39" width="6.33" height="6.33" fill="#fbc2d9"/><rect x="266.33" y="162.39" width="6.33" height="6.33" fill="#faaccc"/><rect x="272.60" y="162.39" width="6.33" height="6.33" fill="#f780b0"/><rect x="278.88" y="162.39" width="6.33" height="6.33" fill="#f780b0"/><rect x="285.16" y="162.39" width="6.33" height="6.33" fill="#faaccc"/><rect x="291.43" y="162.39" width="6.33" height="6.33" fill="#f4588a"/><rect x="297.71" y="162.39" width="6.33" height="6.33" fill="#f66c9d"/><rect x="303.98" y="162.39" width="6.33" height="6.33" fill="#f780b0"/><rect x="310.26" y="162.39" width="6.33" height="6.33" fill="#f780b0"/><rect x="316.53" y="162.39" width="6.33" height="6.33" fill="#f780b0"/><rect x="322.81" y="162.39" width="6.33" height="6.33" fill="#f66c9d"/><rect x="329.09" y="162.39" width="6.33" height="6.33" fill="#f44471"/><rect x="335.36" y="162.39" width="6.33" height="6.33" fill="#f896be"/><rect x="341.64" y="162.39" width="6.33" height="6.33" fill="#f896be"/><rect x="347.91" y="162.39" width="6.33" height="6.33" fill="#f44471"/><rect x="354.19" y="162.39" width="6.33" height="6.33" fill="#ff0000"/><rect x="360.47" y="162.39" width="6.33" height="6.33" fill="#ff0000"/><rect x="366.74" y="162.39" width="6.33" height="6.33" fill="#ff0000"/><rect x="373.02" y="162.39" width="6.33" height="6.33" fill="#f896be"/><rect x="379.29" y="162.39" width="6.33" height="6.33" fill="#f44471"/><rect x="385.57" y="162.39" width="6.33" height="6.33" fill="#f44471"/><rect x="391.84" y="162.39" width="6.33" height="6.33" fill="#f66c9d"/><rect x="398.12" y="162.39" width="6.33" height="6.33" fill="#f896be"/><rect x="404.40" y="162.39" width="6.33" height="6.33" fill="#f66c9d"/><rect x="410.67" y="162.39" width="6.33" height="6.33" fill="#f66c9d"/><rect x="416.95" y="162.39" width="6.33" height="6.33" fill="#f66c9d"/><rect x="423.22" y="162.39" width="6.33" height="6.33" fill="#f66c9d"/><rect x="247.50" y="168.67" width="6.33" height="6.33" fill="#fbc2d9"/><rect x="253.78" y="168.67" width="6.33" height="6.33" fill="#f896be"/><rect x="260.05" y="168.67" width="6.33" height="6.33" fill="#fcd7e6"/><rect x="266.33" y="168.67" width="6.33" height="6.33" fill="#fbc2d9"/><rect x="272.60" y="168.67" width="6.33" height="6.33" fill="#faaccc"/><rect x="278.88" y="168.67" width="6.33" height="6.33" fill="#f896be"/><rect x="285.16" y="168.67" width="6.33" height="6.33" fill="#f896be"/><rect x="291.43" y="168.67" width="6.33" height="6.33" fill="#f896be"/><rect x="297.71" y="168.67" width="6.33" height="6.33" fill="#f780b0"/><rect x="303.98" y="168.67" width="6.33" height="6.33" fill="#f780b0"/><rect x="310.26" y="168.67" width="6.33" height="6.33" fill="#faaccc"/><rect x="316.53" y="168.67" width="6.33" height="6.33" fill="#faaccc"/><rect x="322.81" y="168.67" width="6.33" height="6.33" fill="#f896be"/><rect x="329.09" y="168.67" width="6.33" height="6.33" fill="#f780b0"/><rect x="335.36" y="168.67" width="6.33" height="6.33" fill="#faaccc"/><rect x="341.64" y="168.67" width="6.33" height="6.33" fill="#faaccc"/><rect x="347.91" y="168.67" width="6.33" height="6.33" fill="#f44471"/><rect x="354.19" y="168.67" width="6.33" height="6.33" fill="#ff0000"/><rect x="360.47" y="168.67" width="6.33" height="6.33" fill="#ff0000"/><rect x="366.74" y="168.67" width="6.33" height="6.33" fill="#ff0000"/><rect x="373.02" y="168.67" width="6.33" height="6.33" fill="#faaccc"/><rect x="379.29" y="168.67" width="6.33" height="6.33" fill="#f780b0"/><rect x="385.57" y="168.67" width="6.33" height="6.33" fill="#f780b0"/><rect x="391.84" y="168.67" width="6.33" height="6.33" fill="#f896be"/><rect x="398.12" y="168.67" width="6.33" height="6.33" fill="#fbc2d9"/><rect x="404.40" y="168.67" width="6.33" height="6.33" fill="#faaccc"/><rect x="410.67" y="168.67" width="6.33" height="6.33" fill="#faaccc"/><rect x="416.95" y="168.67" width="6.33" height="6.33" fill="#faaccc"/><rect x="423.22" y="168.67" width="6.33" height="6.33" fill="#faaccc"/><rect x="247.50" y="174.94" width="6.33" height="6.33" fill="#fbc2d9"/><rect x="253.78" y="174.94" width="6.33" height="6.33" fill="#f896be"/><rect x="260.05" y="174.94" width="6.33" height="6.33" fill="#fcd7e6"/><rect x="266.33" y="174.94" width="6.33" height="6.33" fill="#fbc2d9"/><rect x="272.60" y="174.94" width="6.33" height="6.33" fill="#faaccc"/><rect x="278.88" y="174.94" width="6.33" height="6.33" fill="#f896be"/><rect x="285.16" y="174.94" width="6.33" height="6.33" fill="#f896be"/><rect x="291.43" y="174.94" width="6.33" height="6.33" fill="#f896be"/><rect x="297.71" y="174.94" width="6.33" height="6.33" fill="#f780b0"/><rect x="303.98" y="174.94" width="6.33" height="6.33" fill="#f780b0"/><rect x="310.26" y="174.94" width="6.33" height="6.33" fill="#faaccc"/><rect x="316.53" y="174.94" width="6.33" height="6.33" fill="#faaccc"/><rect x="322.81" y="174.94" width="6.33" height="6.33" fill="#faaccc"/><rect x="329.09" y="174.94" width="6.33" height="6.33" fill="#f780b0"/><rect x="335.36" y="174.94" width="6.33" height="6.33" fill="#faaccc"/><rect x="341.64" y="174.94" width="6.33" height="6.33" fill="#faaccc"/><rect x="347.91" y="174.94" width="6.33" height="6.33" fill="#f44471"/><rect x="354.19" y="174.94" width="6.33" height="6.33" fill="#ff0000"/><rect x="360.47" y="174.94" width="6.33" height="6.33" fill="#ff0000"/><rect x="366.74" y="174.94" width="6.33" height="6.33" fill="#ff0000"/><rect x="373.02" y="174.94" width="6.33" height="6.33" fill="#faaccc"/><rect x="379.29" y="174.94" width="6.33" height="6.33" fill="#f780b0"/><rect x="385.57" y="174.94" width="6.33" height="6.33" fill="#f780b0"/><rect x="391.84" y="174.94" width="6.33" height="6.33" fill="#f896be"/><rect x="398.12" y="174.94" width="6.33" height="6.33" fill="#fbc2d9"/><rect x="404.40" y="174.94" width="6.33" height="6.33" fill="#faaccc"/><rect x="410.67" y="174.94" width="6.33" height="6.33" fill="#faaccc"/><rect x="416.95" y="174.94" width="6.33" height="6.33" fill="#faaccc"/><rect x="423.22" y="174.94" width="6.33" height="6.33" fill="#faaccc"/><rect x="247.50" y="181.22" width="6.33" height="6.33" fill="#faaccc"/><rect x="253.78" y="181.22" width="6.33" height="6.33" fill="#f44471"/><rect x="260.05" y="181.22" width="6.33" height="6.33" fill="#f896be"/><rect x="266.33" y="181.22" width="6.33" height="6.33" fill="#faaccc"/><rect x="272.60" y="181.22" width="6.33" height="6.33" fill="#f896be"/><rect x="278.88" y="181.22" width="6.33" height="6.33" fill="#f780b0"/><rect x="285.16" y="181.22" width="6.33" height="6.33" fill="#f44471"/><rect x="291.43" y="181.22" width="6.33" height="6.33" fill="#faaccc"/><rect x="297.71" y="181.22" width="6.33" height="6.33" fill="#f780b0"/><rect x="303.98" y="181.22" width="6.33" height="6.33" fill="#f780b0"/><rect x="310.26" y="181.22" width="6.33" height="6.33" fill="#f66c9d"/><rect x="316.53" y="181.22" width="6.33" height="6.33" fill="#f4588a"/><rect x="322.81" y="181.22" width="6.33" height="6.33" fill="#f780b0"/><rect x="329.09" y="181.22" width="6.33" height="6.33" fill="#f53058"/><rect x="335.36" y="181.22" width="6.33" height="6.33" fill="#f4588a"/><rect x="341.64" y="181.22" width="6.33" height="6.33" fill="#f66c9d"/><rect x="347.91" y="181.22" width="6.33" height="6.33" fill="#f53058"/><rect x="354.19" y="181.22" width="6.33" height="6.33" fill="#f896be"/><rect x="360.47" y="181.22" width="6.33" height="6.33" fill="#faaccc"/><rect x="366.74" y="181.22" width="6.33" height="6.33" fill="#faaccc"/><rect x="373.02" y="181.22" width="6.33" height="6.33" fill="#ff0000"/><rect x="379.29" y="181.22" width="6.33" height="6.33" fill="#f53058"/><rect x="385.57" y="181.22" width="6.33" height="6.33" fill="#f53058"/><rect x="391.84" y="181.22" width="6.33" height="6.33" fill="#f44471"/><rect x="398.12" y="181.22" width="6.33" height="6.33" fill="#f780b0"/><rect x="404.40" y="181.22" width="6.33" height="6.33" fill="#f66c9d"/><rect x="410.67" y="181.22" width="6.33" height="6.33" fill="#f66c9d"/><rect x="416.95" y="181.22" width="6.33" height="6.33" fill="#f66c9d"/><rect x="423.22" y="181.22" width="6.33" height="6.33" fill="#f676a6"/><rect x="247.50" y="187.49" width="6.33" height="6.33" fill="#faaccc"/><rect x="253.78" y="187.49" width="6.33" height="6.33" fill="#f44471"/><rect x="260.05" y="187.49" width="6.33" height="6.33" fill="#f780b0"/><rect x="266.33" y="187.49" width="6.33" height="6.33" fill="#f66c9d"/><rect x="272.60" y="187.49" width="6.33" height="6.33" fill="#f44471"/><rect x="278.88" y="187.49" width="6.33" height="6.33" fill="#f44471"/><rect x="285.16" y="187.49" width="6.33" height="6.33" fill="#f44471"/><rect x="291.43" y="187.49" width="6.33" height="6.33" fill="#f66c9d"/><rect x="297.71" y="187.49" width="6.33" height="6.33" fill="#f66c9d"/><rect x="303.98" y="187.49" width="6.33" height="6.33" fill="#f66c9d"/><rect x="310.26" y="187.49" width="6.33" height="6.33" fill="#fa182c"/><rect x="316.53" y="187.49" width="6.33" height="6.33" fill="#f44471"/><rect x="322.81" y="187.49" width="6.33" height="6.33" fill="#f44471"/><rect x="329.09" y="187.49" width="6.33" height="6.33" fill="#fa182c"/><rect x="335.36" y="187.49" width="6.33" height="6.33" fill="#f53058"/><rect x="341.64" y="187.49" width="6.33" height="6.33" fill="#f4588a"/><rect x="347.91" y="187.49" width="6.33" height="6.33" fill="#f4588a"/><rect x="354.19" y="187.49" width="6.33" height="6.33" fill="#f44471"/><rect x="360.47" y="187.49" width="6.33" height="6.33" fill="#f780b0"/><rect x="366.74" y="187.49" width="6.33" height="6.33" fill="#f780b0"/><rect x="373.02" y="187.49" width="6.33" height="6.33" fill="#f53058"/><rect x="379.29" y="187.49" width="6.33" height="6.33" fill="#ff0000"/><rect x="385.57" y="187.49" width="6.33" height="6.33" fill="#ff0000"/><rect x="391.84" y="187.49" width="6.33" height="6.33" fill="#ff0000"/><rect x="398.12" y="187.49" width="6.33" height="6.33" fill="#f780b0"/><rect x="404.40" y="187.49" width="6.33" height="6.33" fill="#f56294"/><rect x="410.67" y="187.49" width="6.33" height="6.33" fill="#f4588a"/><rect x="416.95" y="187.49" width="6.33" height="6.33" fill="#f4588a"/><rect x="423.22" y="187.49" width="6.33" height="6.33" fill="#f4588a"/><rect x="247.50" y="193.77" width="6.33" height="6.33" fill="#faaccc"/><rect x="253.78" y="193.77" width="6.33" height="6.33" fill="#f44471"/><rect x="260.05" y="193.77" width="6.33" height="6.33" fill="#f780b0"/><rect x="266.33" y="193.77" width="6.33" height="6.33" fill="#f66c9d"/><rect x="272.60" y="193.77" width="6.33" height="6.33" fill="#f44471"/><rect x="278.88" y="193.77" width="6.33" height="6.33" fill="#f53058"/><rect x="285.16" y="193.77" width="6.33" height="6.33" fill="#f53058"/><rect x="291.43" y="193.77" width="6.33" height="6.33" fill="#f4588a"/><rect x="297.71" y="193.77" width="6.33" height="6.33" fill="#f4588a"/><rect x="303.98" y="193.77" width="6.33" height="6.33" fill="#f4588a"/><rect x="310.26" y="193.77" width="6.33" height="6.33" fill="#fa182c"/><rect x="316.53" y="193.77" width="6.33" height="6.33" fill="#f53058"/><rect x="322.81" y="193.77" width="6.33" height="6.33" fill="#f44471"/><rect x="329.09" y="193.77" width="6.33" height="6.33" fill="#fa182c"/><rect x="335.36" y="193.77" width="6.33" height="6.33" fill="#fa182c"/><rect x="341.64" y="193.77" width="6.33" height="6.33" fill="#f44471"/><rect x="347.91" y="193.77" width="6.33" height="6.33" fill="#f44471"/><rect x="354.19" y="193.77" width="6.33" height="6.33" fill="#f44471"/><rect x="360.47" y="193.77" width="6.33" height="6.33" fill="#f780b0"/><rect x="366.74" y="193.77" width="6.33" height="6.33" fill="#f780b0"/><rect x="373.02" y="193.77" width="6.33" height="6.33" fill="#f53058"/><rect x="379.29" y="193.77" width="6.33" height="6.33" fill="#ff0000"/><rect x="385.57" y="193.77" width="6.33" height="6.33" fill="#ff0000"/><rect x="391.84" y="193.77" width="6.33" height="6.33" fill="#ff0000"/><rect x="398.12" y="193.77" width="6.33" height="6.33" fill="#f780b0"/><rect x="404.40" y="193.77" width="6.33" height="6.33" fill="#f44e7d"/><rect x="410.67" y="193.77" width="6.33" height="6.33" fill="#f44e7d"/><rect x="416.95" y="193.77" width="6.33" height="6.33" fill="#f44471"/><rect x="423.22" y="193.77" width="6.33" height="6.33" fill="#f44471"/><rect x="247.50" y="200.04" width="6.33" height="6.33" fill="#faaccc"/><rect x="253.78" y="200.04" width="6.33" height="6.33" fill="#f44471"/><rect x="260.05" y="200.04" width="6.33" height="6.33" fill="#f44471"/><rect x="266.33" y="200.04" width="6.33" height="6.33" fill="#f44471"/><rect x="272.60" y="200.04" width="6.33" height="6.33" fill="#f53058"/><rect x="278.88" y="200.04" width="6.33" height="6.33" fill="#fa182c"/><rect x="285.16" y="200.04" width="6.33" height="6.33" fill="#f53058"/><rect x="291.43" y="200.04" width="6.33" height="6.33" fill="#f66c9d"/><rect x="297.71" y="200.04" width="6.33" height="6.33" fill="#f66c9d"/><rect x="303.98" y="200.04" width="6.33" height="6.33" fill="#f66c9d"/><rect x="310.26" y="200.04" width="6.33" height="6.33" fill="#ff0000"/><rect x="316.53" y="200.04" width="6.33" height="6.33" fill="#fa182c"/><rect x="322.81" y="200.04" width="6.33" height="6.33" fill="#f53058"/><rect x="329.09" y="200.04" width="6.33" height="6.33" fill="#fa182c"/><rect x="335.36" y="200.04" width="6.33" height="6.33" fill="#ff0000"/><rect x="341.64" y="200.04" width="6.33" height="6.33" fill="#fa182c"/><rect x="347.91" y="200.04" width="6.33" height="6.33" fill="#f44471"/><rect x="354.19" y="200.04" width="6.33" height="6.33" fill="#f66c9d"/><rect x="360.47" y="200.04" width="6.33" height="6.33" fill="#f896be"/><rect x="366.74" y="200.04" width="6.33" height="6.33" fill="#f896be"/><rect x="373.02" y="200.04" width="6.33" height="6.33" fill="#f44471"/><rect x="379.29" y="200.04" width="6.33" height="6.33" fill="#ff0000"/><rect x="385.57" y="200.04" width="6.33" height="6.33" fill="#ff0000"/><rect x="391.84" y="200.04" width="6.33" height="6.33" fill="#ff0000"/><rect x="398.12" y="200.04" width="6.33" height="6.33" fill="#f780b0"/><rect x="404.40" y="200.04" width="6.33" height="6.33" fill="#f44e7d"/><rect x="410.67" y="200.04" width="6.33" height="6.33" fill="#f56294"/><rect x="416.95" y="200.04" width="6.33" height="6.33" fill="#f44471"/><rect x="423.22" y="200.04" width="6.33" height="6.33" fill="#f44471"/><rect x="247.50" y="206.32" width="6.33" height="6.33" fill="#fee8f0"/><rect x="253.78" y="206.32" width="6.33" height="6.33" fill="#f780b0"/><rect x="260.05" y="206.32" width="6.33" height="6.33" fill="#fbc2d9"/><rect x="266.33" y="206.32" width="6.33" height="6.33" fill="#fee8f0"/><rect x="272.60" y="206.32" width="6.33" height="6.33" fill="#faaccc"/><rect x="278.88" y="206.32" width="6.33" height="6.33" fill="#faaccc"/><rect x="285.16" y="206.32" width="6.33" height="6.33" fill="#faaccc"/><rect x="291.43" y="206.32" width="6.33" height="6.33" fill="#faaccc"/><rect x="297.71" y="206.32" width="6.33" height="6.33" fill="#fbc2d9"/><rect x="303.98" y="206.32" width="6.33" height="6.33" fill="#fbc2d9"/><rect x="310.26" y="206.32" width="6.33" height="6.33" fill="#faaccc"/><rect x="316.53" y="206.32" width="6.33" height="6.33" fill="#f896be"/><rect x="322.81" y="206.32" width="6.33" height="6.33" fill="#f896be"/><rect x="329.09" y="206.32" width="6.33" height="6.33" fill="#f4588a"/><rect x="335.36" y="206.32" width="6.33" height="6.33" fill="#f780b0"/><rect x="341.64" y="206.32" width="6.33" height="6.33" fill="#f780b0"/><rect x="347.91" y="206.32" width="6.33" height="6.33" fill="#f44471"/><rect x="354.19" y="206.32" width="6.33" height="6.33" fill="#f896be"/><rect x="360.47" y="206.32" width="6.33" height="6.33" fill="#fbc2d9"/><rect x="366.74" y="206.32" width="6.33" height="6.33" fill="#fbc2d9"/><rect x="373.02" y="206.32" width="6.33" height="6.33" fill="#f780b0"/><rect x="379.29" y="206.32" width="6.33" height="6.33" fill="#f780b0"/><rect x="385.57" y="206.32" width="6.33" height="6.33" fill="#f780b0"/><rect x="391.84" y="206.32" width="6.33" height="6.33" fill="#f780b0"/><rect x="398.12" y="206.32" width="6.33" height="6.33" fill="#ff0000"/><rect x="404.40" y="206.32" width="6.33" height="6.33" fill="#f44471"/><rect x="410.67" y="206.32" width="6.33" height="6.33" fill="#f44471"/><rect x="416.95" y="206.32" width="6.33" height="6.33" fill="#f44471"/><rect x="423.22" y="206.32" width="6.33" height="6.33" fill="#f44471"/><rect x="247.50" y="212.60" width="6.33" height="6.33" fill="#fee8f0"/><rect x="253.78" y="212.60" width="6.33" height="6.33" fill="#f780b0"/><rect x="260.05" y="212.60" width="6.33" height="6.33" fill="#faaccc"/><rect x="266.33" y="212.60" width="6.33" height="6.33" fill="#faaccc"/><rect x="272.60" y="212.60" width="6.33" height="6.33" fill="#f66c9d"/><rect x="278.88" y="212.60" width="6.33" height="6.33" fill="#f66c9d"/><rect x="285.16" y="212.60" width="6.33" height="6.33" fill="#f780b0"/><rect x="291.43" y="212.60" width="6.33" height="6.33" fill="#faaccc"/><rect x="297.71" y="212.60" width="6.33" height="6.33" fill="#faaccc"/><rect x="303.98" y="212.60" width="6.33" height="6.33" fill="#faaccc"/><rect x="310.26" y="212.60" width="6.33" height="6.33" fill="#f780b0"/><rect x="316.53" y="212.60" width="6.33" height="6.33" fill="#f4588a"/><rect x="322.81" y="212.60" width="6.33" height="6.33" fill="#f66c9d"/><rect x="329.09" y="212.60" width="6.33" height="6.33" fill="#f53058"/><rect x="335.36" y="212.60" width="6.33" height="6.33" fill="#f4588a"/><rect x="341.64" y="212.60" width="6.33" height="6.33" fill="#f44471"/><rect x="347.91" y="212.60" width="6.33" height="6.33" fill="#f44471"/><rect x="354.19" y="212.60" width="6.33" height="6.33" fill="#f66c9d"/><rect x="360.47" y="212.60" width="6.33" height="6.33" fill="#faaccc"/><rect x="366.74" y="212.60" width="6.33" height="6.33" fill="#faaccc"/><rect x="373.02" y="212.60" width="6.33" height="6.33" fill="#f66c9d"/><rect x="379.29" y="212.60" width="6.33" height="6.33" fill="#f56294"/><rect x="385.57" y="212.60" width="6.33" height="6.33" fill="#f44e7d"/><rect x="391.84" y="212.60" width="6.33" height="6.33" fill="#f44e7d"/><rect x="398.12" y="212.60" width="6.33" height="6.33" fill="#f44471"/><rect x="404.40" y="212.60" width="6.33" height="6.33" fill="#ff0000"/><rect x="410.67" y="212.60" width="6.33" height="6.33" fill="#f44471"/><rect x="416.95" y="212.60" width="6.33" height="6.33" fill="#f53058"/><rect x="423.22" y="212.60" width="6.33" height="6.33" fill="#f53058"/><rect x="247.50" y="218.87" width="6.33" height="6.33" fill="#fee8f0"/><rect x="253.78" y="218.87" width="6.33" height="6.33" fill="#f780b0"/><rect x="260.05" y="218.87" width="6.33" height="6.33" fill="#f896be"/><rect x="266.33" y="218.87" width="6.33" height="6.33" fill="#faaccc"/><rect x="272.60" y="218.87" width="6.33" height="6.33" fill="#f66c9d"/><rect x="278.88" y="218.87" width="6.33" height="6.33" fill="#f66c9d"/><rect x="285.16" y="218.87" width="6.33" height="6.33" fill="#f780b0"/><rect x="291.43" y="218.87" width="6.33" height="6.33" fill="#f66c9d"/><rect x="297.71" y="218.87" width="6.33" height="6.33" fill="#f896be"/><rect x="303.98" y="218.87" width="6.33" height="6.33" fill="#faaccc"/><rect x="310.26" y="218.87" width="6.33" height="6.33" fill="#f780b0"/><rect x="316.53" y="218.87" width="6.33" height="6.33" fill="#f780b0"/><rect x="322.81" y="218.87" width="6.33" height="6.33" fill="#f66c9d"/><rect x="329.09" y="218.87" width="6.33" height="6.33" fill="#f53058"/><rect x="335.36" y="218.87" width="6.33" height="6.33" fill="#f66c9d"/><rect x="341.64" y="218.87" width="6.33" height="6.33" fill="#f4588a"/><rect x="347.91" y="218.87" width="6.33" height="6.33" fill="#f66c9d"/><rect x="354.19" y="218.87" width="6.33" height="6.33" fill="#f66c9d"/><rect x="360.47" y="218.87" width="6.33" height="6.33" fill="#faaccc"/><rect x="366.74" y="218.87" width="6.33" height="6.33" fill="#faaccc"/><rect x="373.02" y="218.87" width="6.33" height="6.33" fill="#f66c9d"/><rect x="379.29" y="218.87" width="6.33" height="6.33" fill="#f4588a"/><rect x="385.57" y="218.87" width="6.33" height="6.33" fill="#f44e7d"/><rect x="391.84" y="218.87" width="6.33" height="6.33" fill="#f56294"/><rect x="398.12" y="218.87" width="6.33" height="6.33" fill="#f44471"/><rect x="404.40" y="218.87" width="6.33" height="6.33" fill="#f44471"/><rect x="410.67" y="218.87" width="6.33" height="6.33" fill="#ff0000"/><rect x="416.95" y="218.87" width="6.33" height="6.33" fill="#f53058"/><rect x="423.22" y="218.87" width="6.33" height="6.33" fill="#f53058"/><rect x="247.50" y="225.15" width="6.33" height="6.33" fill="#fee8f0"/><rect x="253.78" y="225.15" width="6.33" height="6.33" fill="#f66c9d"/><rect x="260.05" y="225.15" width="6.33" height="6.33" fill="#f780b0"/><rect x="266.33" y="225.15" width="6.33" height="6.33" fill="#f896be"/><rect x="272.60" y="225.15" width="6.33" height="6.33" fill="#f4588a"/><rect x="278.88" y="225.15" width="6.33" height="6.33" fill="#f4588a"/><rect x="285.16" y="225.15" width="6.33" height="6.33" fill="#f780b0"/><rect x="291.43" y="225.15" width="6.33" height="6.33" fill="#f780b0"/><rect x="297.71" y="225.15" width="6.33" height="6.33" fill="#f896be"/><rect x="303.98" y="225.15" width="6.33" height="6.33" fill="#faaccc"/><rect x="310.26" y="225.15" width="6.33" height="6.33" fill="#f66c9d"/><rect x="316.53" y="225.15" width="6.33" height="6.33" fill="#f66c9d"/><rect x="322.81" y="225.15" width="6.33" height="6.33" fill="#f4588a"/><rect x="329.09" y="225.15" width="6.33" height="6.33" fill="#f53058"/><rect x="335.36" y="225.15" width="6.33" height="6.33" fill="#f4588a"/><rect x="341.64" y="225.15" width="6.33" height="6.33" fill="#f53058"/><rect x="347.91" y="225.15" width="6.33" height="6.33" fill="#f66c9d"/><rect x="354.19" y="225.15" width="6.33" height="6.33" fill="#f66c9d"/><rect x="360.47" y="225.15" width="6.33" height="6.33" fill="#faaccc"/><rect x="366.74" y="225.15" width="6.33" height="6.33" fill="#faaccc"/><rect x="373.02" y="225.15" width="6.33" height="6.33" fill="#f66c9d"/><rect x="379.29" y="225.15" width="6.33" height="6.33" fill="#f4588a"/><rect x="385.57" y="225.15" width="6.33" height="6.33" fill="#f44471"/><rect x="391.84" y="225.15" width="6.33" height="6.33" fill="#f44471"/><rect x="398.12" y="225.15" width="6.33" height="6.33" fill="#f44471"/><rect x="404.40" y="225.15" width="6.33" height="6.33" fill="#f53058"/><rect x="410.67" y="225.15" width="6.33" height="6.33" fill="#f53058"/><rect x="416.95" y="225.15" width="6.33" height="6.33" fill="#ff0000"/><rect x="423.22" y="225.15" width="6.33" height="6.33" fill="#ff0000"/><rect x="247.50" y="231.42" width="6.33" height="6.33" fill="#fee8f0"/><rect x="253.78" y="231.42" width="6.33" height="6.33" fill="#f66c9d"/><rect x="260.05" y="231.42" width="6.33" height="6.33" fill="#f780b0"/><rect x="266.33" y="231.42" width="6.33" height="6.33" fill="#f896be"/><rect x="272.60" y="231.42" width="6.33" height="6.33" fill="#f66c9d"/><rect x="278.88" y="231.42" width="6.33" height="6.33" fill="#f66c9d"/><rect x="285.16" y="231.42" width="6.33" height="6.33" fill="#f780b0"/><rect x="291.43" y="231.42" width="6.33" height="6.33" fill="#f780b0"/><rect x="297.71" y="231.42" width="6.33" height="6.33" fill="#f896be"/><rect x="303.98" y="231.42" width="6.33" height="6.33" fill="#faaccc"/><rect x="310.26" y="231.42" width="6.33" height="6.33" fill="#f66c9d"/><rect x="316.53" y="231.42" width="6.33" height="6.33" fill="#f66c9d"/><rect x="322.81" y="231.42" width="6.33" height="6.33" fill="#f4588a"/><rect x="329.09" y="231.42" width="6.33" height="6.33" fill="#f53058"/><rect x="335.36" y="231.42" width="6.33" height="6.33" fill="#f4588a"/><rect x="341.64" y="231.42" width="6.33" height="6.33" fill="#f53058"/><rect x="347.91" y="231.42" width="6.33" height="6.33" fill="#f780b0"/><rect x="354.19" y="231.42" width="6.33" height="6.33" fill="#f66c9d"/><rect x="360.47" y="231.42" width="6.33" height="6.33" fill="#faaccc"/><rect x="366.74" y="231.42" width="6.33" height="6.33" fill="#faaccc"/><rect x="373.02" y="231.42" width="6.33" height="6.33" fill="#f676a6"/><rect x="379.29" y="231.42" width="6.33" height="6.33" fill="#f4588a"/><rect x="385.57" y="231.42" width="6.33" height="6.33" fill="#f44471"/><rect x="391.84" y="231.42" width="6.33" height="6.33" fill="#f44471"/><rect x="398.12" y="231.42" width="6.33" height="6.33" fill="#f44471"/><rect x="404.40" y="231.42" width="6.33" height="6.33" fill="#f53058"/><rect x="410.67" y="231.42" width="6.33" height="6.33" fill="#f53058"/><rect x="416.95" y="231.42" width="6.33" height="6.33" fill="#ff0000"/><rect x="423.22" y="231.42" width="6.33" height="6.33" fill="#ff0000"/></g>
<rect x="247.2" y="55.95" width="182.15" height="182.15" fill="none" stroke="#000" stroke-width="1.3"/>
<rect x="432.30" y="55.70" width="7.20" height="43.93" fill="#f7a21e"/>
<rect x="432.30" y="99.63" width="7.20" height="18.83" fill="#4a72ee"/>
<rect x="432.30" y="118.46" width="7.20" height="43.93" fill="#f7a21e"/>
<rect x="432.30" y="162.39" width="7.20" height="18.83" fill="#4a72ee"/>
<rect x="432.30" y="181.22" width="7.20" height="56.48" fill="#f7a21e"/>
<rect x="439.60" y="55.70" width="7.80" height="6.28" fill="#3fd81e"/>
<rect x="439.60" y="61.98" width="7.80" height="37.66" fill="#f200dc"/>
<rect x="439.60" y="99.63" width="7.80" height="6.28" fill="#1e2a33"/>
<rect x="439.60" y="105.91" width="7.80" height="31.38" fill="#f200dc"/>
<rect x="439.60" y="137.29" width="7.80" height="6.28" fill="#1e2a33"/>
<rect x="439.60" y="143.56" width="7.80" height="6.28" fill="#fff"/>
<rect x="439.60" y="149.84" width="7.80" height="6.28" fill="#3ee8a8"/>
<rect x="439.60" y="156.11" width="7.80" height="6.28" fill="#c4cece"/>
<rect x="439.60" y="162.39" width="7.80" height="18.83" fill="#3ee8a8"/>
<rect x="439.60" y="181.22" width="7.80" height="12.55" fill="#fff"/>
<rect x="439.60" y="193.77" width="7.80" height="6.28" fill="#3c66e8"/>
<rect x="439.60" y="200.04" width="7.80" height="6.28" fill="#fff"/>
<rect x="439.60" y="206.32" width="7.80" height="6.28" fill="#d7a6f3"/>
<rect x="439.60" y="212.60" width="7.80" height="6.28" fill="#3ee8a8"/>
<rect x="439.60" y="218.87" width="7.80" height="6.28" fill="#6a18f0"/>
<rect x="439.60" y="225.15" width="7.80" height="12.55" fill="#ff5210"/>
<rect x="432.05" y="55.95" width="15.6" height="181.85" fill="none" stroke="#000" stroke-width="1.1"/>
<line x1="439.45" y1="55.90" x2="439.45" y2="237.80" stroke="#000" stroke-width="0.90"/>
<text x="452.20" y="60.94" font-size="6.20">BM106029</text>
<text x="452.20" y="67.21" font-size="6.20">p198</text>
<text x="452.20" y="73.49" font-size="6.20">p301</text>
<text x="452.20" y="79.77" font-size="6.20">p261</text>
<text x="452.20" y="86.04" font-size="6.20">p274</text>
<text x="452.20" y="92.32" font-size="6.20">p358</text>
<text x="452.20" y="98.59" font-size="6.20">BM4039</text>
<text x="452.20" y="104.87" font-size="6.20">NB4</text>
<text x="452.20" y="111.14" font-size="6.20">MV411</text>
<text x="452.20" y="117.42" font-size="6.20">THP1</text>
<text x="452.20" y="123.70" font-size="6.20">p401</text>
<text x="452.20" y="129.97" font-size="6.20">p217</text>
<text x="452.20" y="136.25" font-size="6.20">p318</text>
<text x="452.20" y="142.52" font-size="6.20">p275</text>
<text x="452.20" y="148.80" font-size="6.20">p408</text>
<text x="452.20" y="155.08" font-size="6.20">p456</text>
<text x="452.20" y="161.35" font-size="6.20">p163</text>
<text x="452.20" y="167.63" font-size="6.20">Kasumi_1</text>
<text x="452.20" y="173.90" font-size="6.20">Kasumi_2</text>
<text x="452.20" y="180.18" font-size="6.20">Kasumi_3</text>
<text x="452.20" y="186.46" font-size="6.20">p262</text>
<text x="452.20" y="192.73" font-size="6.20">p172</text>
<text x="452.20" y="199.01" font-size="6.20">p400*</text>
<text x="452.20" y="205.28" font-size="6.20">p411</text>
<text x="452.20" y="211.56" font-size="6.20">p151</text>
<text x="452.20" y="217.83" font-size="6.20">p195</text>
<text x="452.20" y="224.11" font-size="6.20">p269</text>
<text x="452.20" y="230.39" font-size="6.20">BM102004_2</text>
<text x="452.20" y="236.66" font-size="6.20">BM102004_1</text>
<path d="M497.80 58.84L497.80 65.11M492.40 58.84L497.80 58.84M492.40 65.11L497.80 65.11M495.60 77.67L495.60 83.94M492.40 77.67L495.60 77.67M492.40 83.94L495.60 83.94M497.20 71.39L497.20 80.80M492.40 71.39L497.20 71.39M495.60 80.80L497.20 80.80M496.40 90.22L496.40 96.49M492.40 90.22L496.40 90.22M492.40 96.49L496.40 96.49M498.40 76.10L498.40 93.36M497.20 76.10L498.40 76.10M496.40 93.36L498.40 93.36M495.80 109.04L495.80 115.32M492.40 109.04L495.80 109.04M492.40 115.32L495.80 115.32M497.60 102.77L497.60 112.18M492.40 102.77L497.60 102.77M495.80 112.18L497.60 112.18M496.00 121.60L496.00 127.87M492.40 121.60L496.00 121.60M492.40 127.87L496.00 127.87M497.00 124.73L497.00 134.15M496.00 124.73L497.00 124.73M492.40 134.15L497.00 134.15M498.60 107.48L498.60 129.44M497.60 107.48L498.60 107.48M497.00 129.44L498.60 129.44M496.20 140.42L496.20 146.70M492.40 140.42L496.20 140.42M492.40 146.70L496.20 146.70M495.40 152.98L495.40 159.25M492.40 152.98L495.40 152.98M492.40 159.25L495.40 159.25M497.80 143.56L497.80 156.11M496.20 143.56L497.80 143.56M495.40 156.11L497.80 156.11M499.60 118.46L499.60 149.84M498.60 118.46L499.60 118.46M497.80 149.84L499.60 149.84M495.20 171.80L495.20 178.08M492.40 171.80L495.20 171.80M492.40 178.08L495.20 178.08M497.40 165.53L497.40 174.94M492.40 165.53L497.40 165.53M495.20 174.94L497.40 174.94M496.40 184.36L496.40 190.63M492.40 184.36L496.40 184.36M492.40 190.63L496.40 190.63M495.80 196.91L495.80 203.18M492.40 196.91L495.80 196.91M492.40 203.18L495.80 203.18M497.60 187.49L497.60 200.04M496.40 187.49L497.60 187.49M495.80 200.04L497.60 200.04M499.00 170.23L499.00 193.77M497.40 170.23L499.00 170.23M497.60 193.77L499.00 193.77M495.60 209.46L495.60 215.73M492.40 209.46L495.60 209.46M492.40 215.73L495.60 215.73M496.80 212.60L496.80 222.01M495.60 212.60L496.80 212.60M492.40 222.01L496.80 222.01M494.80 228.29L494.80 234.56M492.40 228.29L494.80 228.29M492.40 234.56L494.80 234.56M497.90 217.30L497.90 231.42M496.80 217.30L497.90 217.30M494.80 231.42L497.90 231.42M500.40 182.00L500.40 224.36M499.00 182.00L500.40 182.00M497.90 224.36L500.40 224.36M501.20 84.73L501.20 134.15M498.40 84.73L501.20 84.73M499.60 134.15L501.20 134.15M502.20 109.44L502.20 203.18M501.20 109.44L502.20 109.44M500.40 203.18L502.20 203.18M503.20 61.98L503.20 156.31M497.80 61.98L503.20 61.98M502.20 156.31L503.20 156.31" stroke="#000" stroke-width="1.0" fill="none"/>
<text transform="translate(437.7,240.7) rotate(-90)" font-size="7.1" text-anchor="end" textLength="38.9" lengthAdjust="spacingAndGlyphs">Sample type</text>
<text transform="translate(446.0,240.6) rotate(-90)" font-size="7.2" text-anchor="end" textLength="41.7" lengthAdjust="spacingAndGlyphs">Cytogenetics</text>
<text x="247.50" y="246.10" font-size="6.90">Cytogenetics</text>
<rect x="247.40" y="250.60" width="7.00" height="6.80" fill="#f200dc" stroke="#000" stroke-width="1.00"/>
<text x="256.9" y="255.90" font-size="6.8"><tspan font-style="italic">KMT2Ar</tspan></text>
<rect x="247.40" y="259.80" width="7.00" height="6.80" fill="#3fd81e" stroke="#000" stroke-width="1.00"/>
<text x="256.9" y="265.10" font-size="6.8"><tspan font-style="italic">KMT2A</tspan>-del</text>
<rect x="247.40" y="269.10" width="7.00" height="6.80" fill="#3ee8a8" stroke="#000" stroke-width="1.00"/>
<text x="256.9" y="274.40" font-size="6.8">CBF</text>
<rect x="247.40" y="278.30" width="7.00" height="6.80" fill="#ff5210" stroke="#000" stroke-width="1.00"/>
<text x="256.9" y="283.60" font-size="6.8">MNX1-ETV8</text>
<rect x="247.40" y="287.50" width="7.00" height="6.80" fill="#d7a6f3" stroke="#000" stroke-width="1.00"/>
<text x="256.9" y="292.80" font-size="6.8">Const tri21</text>
<rect x="303.40" y="250.60" width="7.00" height="6.80" fill="#3c66e8" stroke="#000" stroke-width="1.00"/>
<text x="312.9" y="255.90" font-size="6.8">Complex, Del7q</text>
<rect x="303.40" y="259.80" width="7.00" height="6.80" fill="#1e2a33" stroke="#000" stroke-width="1.00"/>
<text x="312.9" y="265.10" font-size="6.8">PML-RARA (APL)</text>
<rect x="303.40" y="269.10" width="7.00" height="6.80" fill="#6a18f0" stroke="#000" stroke-width="1.00"/>
<text x="312.9" y="274.40" font-size="6.8">FUS-ERG</text>
<rect x="303.40" y="278.30" width="7.00" height="6.80" fill="#fff" stroke="#000" stroke-width="1.00"/>
<text x="312.9" y="283.60" font-size="6.8">NK</text>
<rect x="303.40" y="287.50" width="7.00" height="6.80" fill="#c4cece" stroke="#000" stroke-width="1.00"/>
<text x="312.9" y="292.80" font-size="6.8">Unknown</text>
<text x="376.70" y="246.10" font-size="6.90">Sample type</text>
<rect x="376.70" y="250.60" width="7.00" height="6.80" fill="#f7a21e" stroke="#000" stroke-width="1.00"/>
<rect x="376.70" y="259.80" width="7.00" height="6.80" fill="#4a72ee" stroke="#000" stroke-width="1.00"/>
<text x="386.30" y="256.40" font-size="6.80">Primary pedi</text>
<text x="386.30" y="265.70" font-size="6.80">Cell line</text>
<defs><linearGradient id="gbar" gradientUnits="userSpaceOnUse" x1="39.9" x2="196.6" y1="0" y2="0"><stop offset="0" stop-color="#2c2cff"/><stop offset="0.447" stop-color="#4428ff"/><stop offset="0.703" stop-color="#6a18fa"/><stop offset="0.83" stop-color="#9a0cf2"/><stop offset="0.907" stop-color="#c800e4"/><stop offset="0.951" stop-color="#e400c8"/><stop offset="0.972" stop-color="#f400a0"/><stop offset="0.986" stop-color="#ff003c"/><stop offset="1" stop-color="#ff0020"/></linearGradient><linearGradient id="gfreq" x1="0" x2="1" y1="0" y2="0"><stop offset="0" stop-color="#3434ff"/><stop offset="0.33" stop-color="#8a10ff"/><stop offset="0.55" stop-color="#c800f0"/><stop offset="0.72" stop-color="#ec00b0"/><stop offset="0.88" stop-color="#ff0060"/><stop offset="1" stop-color="#ff0030"/></linearGradient></defs>
<defs><clipPath id="cbar"><path d="M39.90 478.70L50.00 478.30L60.00 477.90L75.00 477.30L90.00 476.70L100.00 476.20L110.00 475.50L120.00 474.60L130.00 473.60L140.00 472.50L148.00 471.10L156.00 469.30L165.00 466.70L170.00 464.00L173.00 462.00L176.00 460.00L179.40 457.40L182.70 455.60L186.00 453.10L188.50 449.80L190.10 445.70L191.80 440.00L192.60 435.90L193.50 432.00L194.20 424.00L194.80 410.00L195.20 395.00L195.60 390.00L196.00 390.00L196.00 329.00L196.70 329.00L196.70 480.50L39.90 480.50Z"/></clipPath></defs>
<path d="M39.90 478.70L50.00 478.30L60.00 477.90L75.00 477.30L90.00 476.70L100.00 476.20L110.00 475.50L120.00 474.60L130.00 473.60L140.00 472.50L148.00 471.10L156.00 469.30L165.00 466.70L170.00 464.00L173.00 462.00L176.00 460.00L179.40 457.40L182.70 455.60L186.00 453.10L188.50 449.80L190.10 445.70L191.80 440.00L192.60 435.90L193.50 432.00L194.20 424.00L194.80 410.00L195.20 395.00L195.60 390.00L196.00 390.00L196.00 329.00L196.70 329.00L196.70 480.50L39.90 480.50Z" fill="url(#gbar)"/>
<g clip-path="url(#cbar)" shape-rendering="crispEdges"><rect x="100.00" y="440" width="1.05" height="41" fill="#4128ff"/><rect x="101.00" y="440" width="1.05" height="41" fill="#4129ff"/><rect x="102.00" y="440" width="1.35" height="41" fill="#4129ff"/><rect x="103.30" y="440" width="1.35" height="41" fill="#4228ff"/><rect x="104.60" y="440" width="1.35" height="41" fill="#4328ff"/><rect x="105.90" y="440" width="0.75" height="41" fill="#4228ff"/><rect x="106.60" y="440" width="0.75" height="41" fill="#4228ff"/><rect x="107.30" y="440" width="1.35" height="41" fill="#4328ff"/><rect x="108.60" y="440" width="1.35" height="41" fill="#4528ff"/><rect x="109.90" y="440" width="1.05" height="41" fill="#4528ff"/><rect x="110.90" y="440" width="1.35" height="41" fill="#4627ff"/><rect x="112.20" y="440" width="1.35" height="41" fill="#4428ff"/><rect x="113.50" y="440" width="1.35" height="41" fill="#4528ff"/><rect x="114.80" y="440" width="0.75" height="41" fill="#4727ff"/><rect x="115.50" y="440" width="0.75" height="41" fill="#4926fe"/><rect x="116.20" y="440" width="1.05" height="41" fill="#4926fe"/><rect x="117.20" y="440" width="1.35" height="41" fill="#4d24fe"/><rect x="118.50" y="440" width="1.35" height="41" fill="#4b25fe"/><rect x="119.80" y="440" width="1.05" height="41" fill="#4d24fe"/><rect x="120.80" y="440" width="1.35" height="41" fill="#4c25fe"/><rect x="122.10" y="440" width="1.35" height="41" fill="#4e24fe"/><rect x="123.40" y="440" width="1.35" height="41" fill="#5421fd"/><rect x="124.70" y="440" width="0.75" height="41" fill="#5322fd"/><rect x="125.40" y="440" width="1.05" height="41" fill="#5421fd"/><rect x="126.40" y="440" width="1.35" height="41" fill="#5222fd"/><rect x="127.70" y="440" width="0.75" height="41" fill="#5521fd"/><rect x="128.40" y="440" width="0.75" height="41" fill="#5421fd"/><rect x="129.10" y="440" width="1.05" height="41" fill="#5521fd"/><rect x="130.10" y="440" width="0.75" height="41" fill="#591ffc"/><rect x="130.80" y="440" width="0.75" height="41" fill="#5521fd"/><rect x="131.50" y="440" width="0.75" height="41" fill="#5820fc"/><rect x="132.20" y="440" width="1.35" height="41" fill="#5820fc"/><rect x="133.50" y="440" width="0.75" height="41" fill="#5a1ffc"/><rect x="134.20" y="440" width="0.75" height="41" fill="#5c1efc"/><rect x="134.90" y="440" width="1.05" height="41" fill="#5a1ffc"/><rect x="135.90" y="440" width="1.05" height="41" fill="#5b1efc"/><rect x="136.90" y="440" width="1.05" height="41" fill="#5f1dfb"/><rect x="137.90" y="440" width="0.75" height="41" fill="#5b1efc"/><rect x="138.60" y="440" width="1.35" height="41" fill="#5b1efc"/><rect x="139.90" y="440" width="0.75" height="41" fill="#5f1cfb"/><rect x="140.60" y="440" width="1.05" height="41" fill="#5e1dfc"/><rect x="141.60" y="440" width="1.35" height="41" fill="#5f1dfb"/><rect x="142.90" y="440" width="1.35" height="41" fill="#601cfb"/><rect x="144.20" y="440" width="1.35" height="41" fill="#661afa"/><rect x="145.50" y="440" width="1.05" height="41" fill="#661afa"/><rect x="146.50" y="440" width="0.75" height="41" fill="#651afb"/><rect x="147.20" y="440" width="0.75" height="41" fill="#621bfb"/><rect x="147.90" y="440" width="1.35" height="41" fill="#661afb"/><rect x="149.20" y="440" width="0.75" height="41" fill="#661afb"/><rect x="149.90" y="440" width="1.05" height="41" fill="#7416f8"/><rect x="150.90" y="440" width="1.35" height="41" fill="#6e17f9"/><rect x="152.20" y="440" width="0.75" height="41" fill="#6719fa"/><rect x="152.90" y="440" width="0.75" height="41" fill="#6918fa"/><rect x="153.60" y="440" width="1.05" height="41" fill="#6819fa"/><rect x="154.60" y="440" width="1.35" height="41" fill="#6f17f9"/><rect x="155.90" y="440" width="1.05" height="41" fill="#7316f9"/><rect x="156.90" y="440" width="0.75" height="41" fill="#6d17f9"/><rect x="157.60" y="440" width="1.35" height="41" fill="#7e13f7"/><rect x="158.90" y="440" width="0.75" height="41" fill="#8013f6"/><rect x="159.60" y="440" width="1.05" height="41" fill="#8212f6"/><rect x="160.60" y="440" width="0.75" height="41" fill="#8e0ff4"/><rect x="161.30" y="440" width="1.05" height="41" fill="#8c0ff4"/><rect x="162.30" y="440" width="0.75" height="41" fill="#8f0ff4"/><rect x="163.00" y="440" width="0.75" height="41" fill="#8a10f5"/><rect x="163.70" y="440" width="1.05" height="41" fill="#940df3"/><rect x="164.70" y="440" width="1.35" height="41" fill="#8412f6"/><rect x="166.00" y="440" width="0.75" height="41" fill="#8312f6"/><rect x="166.70" y="440" width="1.35" height="41" fill="#9f0bf0"/><rect x="168.00" y="440" width="0.75" height="41" fill="#980df2"/><rect x="168.70" y="440" width="1.05" height="41" fill="#a30aef"/><rect x="169.70" y="440" width="1.35" height="41" fill="#8a10f5"/><rect x="171.00" y="440" width="0.75" height="41" fill="#8d0ff4"/><rect x="171.70" y="440" width="0.75" height="41" fill="#9c0bf1"/><rect x="172.40" y="440" width="1.05" height="41" fill="#950df3"/><rect x="173.40" y="440" width="1.35" height="41" fill="#9e0bf1"/><rect x="174.70" y="440" width="1.05" height="41" fill="#b804e9"/><rect x="175.70" y="440" width="1.35" height="41" fill="#ab07ed"/><rect x="177.00" y="440" width="1.35" height="41" fill="#a00bf0"/><rect x="178.30" y="440" width="1.35" height="41" fill="#cf00dd"/><rect x="179.60" y="440" width="0.75" height="41" fill="#ab08ed"/><rect x="180.30" y="440" width="1.35" height="41" fill="#c501e5"/><rect x="181.60" y="440" width="1.35" height="41" fill="#c800e4"/><rect x="182.90" y="440" width="1.05" height="41" fill="#b605e9"/><rect x="183.90" y="440" width="0.75" height="41" fill="#d800d4"/><rect x="184.60" y="440" width="0.75" height="41" fill="#bf02e7"/><rect x="185.30" y="440" width="1.05" height="41" fill="#c102e6"/><rect x="186.30" y="440" width="0.75" height="41" fill="#c002e6"/><rect x="187.00" y="440" width="1.05" height="41" fill="#d800d4"/><rect x="188.00" y="440" width="0.75" height="41" fill="#c102e6"/><rect x="188.70" y="440" width="0.75" height="41" fill="#f90077"/><rect x="189.40" y="440" width="1.05" height="41" fill="#eb00b6"/><rect x="190.40" y="440" width="1.35" height="41" fill="#e700c2"/><rect x="191.70" y="440" width="0.75" height="41" fill="#f300a3"/><rect x="192.40" y="440" width="0.75" height="41" fill="#f50099"/><rect x="193.10" y="440" width="1.05" height="41" fill="#fc0058"/><rect x="194.10" y="440" width="0.75" height="41" fill="#f8007f"/><rect x="194.80" y="440" width="1.35" height="41" fill="#fd004b"/></g>
<rect x="36.2" y="320.5" width="164.1" height="163.1" fill="none" stroke="#000" stroke-width="1.2"/>
<line x1="33.00" y1="477.00" x2="35.60" y2="477.00" stroke="#000" stroke-width="1.10"/>
<text x="31.00" y="479.50" font-size="7.30" text-anchor="end">0</text>
<line x1="33.00" y1="433.30" x2="35.60" y2="433.30" stroke="#000" stroke-width="1.10"/>
<text x="31.00" y="435.80" font-size="7.30" text-anchor="end">5k</text>
<line x1="33.00" y1="390.10" x2="35.60" y2="390.10" stroke="#000" stroke-width="1.10"/>
<text x="31.00" y="392.60" font-size="7.30" text-anchor="end">10k</text>
<line x1="33.00" y1="347.20" x2="35.60" y2="347.20" stroke="#000" stroke-width="1.10"/>
<text x="31.00" y="349.70" font-size="7.30" text-anchor="end">15k</text>
<line x1="42.40" y1="484.10" x2="42.40" y2="487.70" stroke="#000" stroke-width="1.10"/>
<text x="42.40" y="496.10" font-size="7.40" text-anchor="middle">0</text>
<line x1="94.70" y1="484.10" x2="94.70" y2="487.70" stroke="#000" stroke-width="1.10"/>
<text x="94.70" y="496.10" font-size="7.40" text-anchor="middle">200</text>
<line x1="146.90" y1="484.10" x2="146.90" y2="487.70" stroke="#000" stroke-width="1.10"/>
<text x="146.90" y="496.10" font-size="7.40" text-anchor="middle">400</text>
<line x1="199.20" y1="484.10" x2="199.20" y2="487.70" stroke="#000" stroke-width="1.10"/>
<text x="199.20" y="496.10" font-size="7.40" text-anchor="middle">600</text>
<text class="b" x="55.9" y="505.6" font-size="8.2" textLength="142.9" lengthAdjust="spacingAndGlyphs">Top SE regions (present in &gt;25% of AML samples)</text>
<text class="b" transform="translate(14.8,458.0) rotate(-90)" font-size="7.4" textLength="113" lengthAdjust="spacingAndGlyphs">Frequency x amplitude SE score (FASE)</text>
<rect x="44.00" y="332.00" width="52.80" height="6.10" fill="url(#gfreq)"/>
<line x1="44.40" y1="336.60" x2="44.40" y2="338.10" stroke="#333" stroke-width="0.60"/>
<line x1="62.00" y1="336.60" x2="62.00" y2="338.10" stroke="#333" stroke-width="0.60"/>
<line x1="79.50" y1="336.60" x2="79.50" y2="338.10" stroke="#333" stroke-width="0.60"/>
<line x1="96.40" y1="336.60" x2="96.40" y2="338.10" stroke="#333" stroke-width="0.60"/>
<text x="70.70" y="329.40" font-size="6.80" text-anchor="middle">Frequency</text>
<text x="44.40" y="347.00" font-size="6.90" text-anchor="middle">25</text>
<text x="62.10" y="347.00" font-size="6.90" text-anchor="middle">50</text>
<text x="79.40" y="347.00" font-size="6.90" text-anchor="middle">75</text>
<text x="96.40" y="347.00" font-size="6.90" text-anchor="middle">100</text>
<text x="169.90" y="330.80" font-size="6.1" textLength="14.10" lengthAdjust="spacingAndGlyphs">ETV6</text>
<text x="172.30" y="393.90" font-size="6.1" textLength="15.50" lengthAdjust="spacingAndGlyphs">ZEB2</text>
<text x="166.90" y="414.70" font-size="6.1" textLength="20.90" lengthAdjust="spacingAndGlyphs">HOXA9</text>
<text x="164.20" y="425.50" font-size="6.1" textLength="20.20" lengthAdjust="spacingAndGlyphs">MEF2D</text>
<text x="162.00" y="433.60" font-size="6.1" textLength="17.70" lengthAdjust="spacingAndGlyphs">MEIS1</text>
<text x="156.20" y="443.00" font-size="6.1" textLength="17.40" lengthAdjust="spacingAndGlyphs">ARID2</text>
<text x="141.10" y="451.50" font-size="6.1" textLength="15.80" lengthAdjust="spacingAndGlyphs">RARA</text>
<text x="130.70" y="460.70" font-size="6.1" textLength="20.10" lengthAdjust="spacingAndGlyphs">RUNX1</text>
<text x="42.1" y="470.8" font-size="6.1" font-style="italic" textLength="16.6" lengthAdjust="spacingAndGlyphs">KRAS</text>
<path d="M187.70 329.00L196.20 329.00M189.10 393.50L195.20 402.90M186.50 416.60L192.30 436.10M183.50 428.00L188.90 448.20M179.90 436.40L187.90 450.60M175.20 444.50L185.20 453.60M161.50 451.70L176.10 459.70M153.70 459.50L171.90 462.40M60.10 472.00L64.90 476.80" stroke="#000" stroke-width="1.15" fill="none"/>
<rect x="417.60" y="327.00" width="76.41" height="6.90" fill="#c8001c"/>
<text x="414.20" y="332.45" font-size="5.9" text-anchor="end">Negative regulation of myeloid cell differentiation</text>
<rect x="417.60" y="337.30" width="62.70" height="6.90" fill="#c8001c"/>
<text x="414.20" y="342.75" font-size="5.9" text-anchor="end">Regulation of transcription from RNA polymerase II promoter</text>
<rect x="417.60" y="347.60" width="56.90" height="6.90" fill="#c8001c"/>
<text x="414.20" y="353.05" font-size="5.9" text-anchor="end">Neutrophil mediated immunity</text>
<rect x="417.60" y="357.90" width="56.34" height="6.90" fill="#c8001c"/>
<text x="414.20" y="363.35" font-size="5.9" text-anchor="end">Growth hormone receptor signaling pathway</text>
<rect x="417.60" y="368.20" width="56.12" height="6.90" fill="#c8001c"/>
<text x="414.20" y="373.65" font-size="5.9" text-anchor="end">Positive regulation of transcription</text>
<rect x="416.60" y="324.20" width="89.80" height="54.40" fill="none" stroke="#000" stroke-width="1.2"/>
<line x1="417.30" y1="378.60" x2="417.30" y2="381.20" stroke="#000" stroke-width="1.10"/>
<text x="417.30" y="389.60" font-size="7.20" text-anchor="middle">0</text>
<line x1="439.60" y1="378.60" x2="439.60" y2="381.20" stroke="#000" stroke-width="1.10"/>
<text x="439.60" y="389.60" font-size="7.20" text-anchor="middle">2</text>
<line x1="461.90" y1="378.60" x2="461.90" y2="381.20" stroke="#000" stroke-width="1.10"/>
<text x="461.90" y="389.60" font-size="7.20" text-anchor="middle">4</text>
<line x1="484.20" y1="378.60" x2="484.20" y2="381.20" stroke="#000" stroke-width="1.10"/>
<text x="484.20" y="389.60" font-size="7.20" text-anchor="middle">6</text>
<text x="461.80" y="312.60" font-size="7.00" text-anchor="middle">Enriched GO Gene Sets in</text>
<text x="461.80" y="321.00" font-size="7.00" text-anchor="middle">core pAML FASE genes</text>
<text class="b" x="0" y="0" font-size="8.4" transform="translate(421.90,399.70) scale(0.7728,1)">Enrichment –log<tspan font-size="4.6" dy="2.2">10</tspan><tspan dy="-2.2"> (</tspan><tspan font-style="italic">P</tspan>–value)</text>
<rect x="379.70" y="432.90" width="122.72" height="6.90" fill="#c8001c"/>
<text x="376.30" y="438.35" font-size="5.9" text-anchor="end">MARTENS_BOUND_BY_PML_RARA_FUSION</text>
<rect x="379.70" y="443.00" width="79.74" height="6.90" fill="#c8001c"/>
<text x="376.30" y="448.45" font-size="5.9" text-anchor="end">ZHENG_BOUND_BY_FOXP3</text>
<rect x="379.70" y="453.10" width="78.69" height="6.90" fill="#c8001c"/>
<text x="376.30" y="458.55" font-size="5.9" text-anchor="end">CHEN_METABOLIC_SYNDROM_NETWORK</text>
<rect x="379.70" y="463.20" width="64.71" height="6.90" fill="#c8001c"/>
<text x="376.30" y="468.65" font-size="5.9" text-anchor="end">MARSON_BOUND_BY_FOXP3_UNSTIMULATED</text>
<rect x="379.70" y="473.30" width="64.36" height="6.90" fill="#c8001c"/>
<text x="376.30" y="478.75" font-size="5.9" text-anchor="end">KOINUMA_TARGETS_OF_SMAD2_OR_SMAD3</text>
<rect x="378.70" y="430.30" width="129.70" height="53.70" fill="none" stroke="#000" stroke-width="1.2"/>
<line x1="379.40" y1="484.00" x2="379.40" y2="486.60" stroke="#000" stroke-width="1.10"/>
<text x="379.40" y="495.00" font-size="7.20" text-anchor="middle">0</text>
<line x1="414.35" y1="484.00" x2="414.35" y2="486.60" stroke="#000" stroke-width="1.10"/>
<text x="414.35" y="495.00" font-size="7.20" text-anchor="middle">10</text>
<line x1="449.30" y1="484.00" x2="449.30" y2="486.60" stroke="#000" stroke-width="1.10"/>
<text x="449.30" y="495.00" font-size="7.20" text-anchor="middle">20</text>
<line x1="484.25" y1="484.00" x2="484.25" y2="486.60" stroke="#000" stroke-width="1.10"/>
<text x="484.25" y="495.00" font-size="7.20" text-anchor="middle">30</text>
<text x="444.20" y="418.60" font-size="7.00" text-anchor="middle">Enriched MSigDB Gene Sets in</text>
<text x="444.20" y="427.00" font-size="7.00" text-anchor="middle">core pAML FASE genes</text>
<text class="b" x="0" y="0" font-size="8.4" transform="translate(403.70,504.60) scale(0.7709,1)">Enrichment –log<tspan font-size="4.6" dy="2.2">10</tspan><tspan dy="-2.2"> (</tspan><tspan font-style="italic">P</tspan>–value)</text>
<line x1="38.15" y1="579.8" x2="169.55" y2="579.8" stroke="#b4b4b4" stroke-width="1.1" stroke-dasharray="2.8,2.3"/>
<path d="M39.80 527.90L45.60 533.50L51.40 539.40L57.20 541.20L63.00 544.20L68.80 544.20L74.60 546.00L80.40 546.20L86.20 547.10L92.00 547.70L97.80 547.80L103.60 551.30L109.40 552.60L115.20 557.90L121.00 561.20L126.80 561.40L132.60 561.70L138.40 565.50L144.20 565.50L150.00 566.10L155.80 567.30L161.60 569.00L167.40 571.60" stroke="#000" stroke-width="1.3" fill="none" stroke-linejoin="round"/>
<circle cx="39.80" cy="527.90" r="1.55" fill="#000"/><circle cx="45.60" cy="533.50" r="1.55" fill="#000"/><circle cx="51.40" cy="539.40" r="1.55" fill="#000"/><circle cx="57.20" cy="541.20" r="1.55" fill="#000"/><circle cx="63.00" cy="544.20" r="1.55" fill="#000"/><circle cx="68.80" cy="544.20" r="1.55" fill="#000"/><circle cx="74.60" cy="546.00" r="1.55" fill="#000"/><circle cx="80.40" cy="546.20" r="1.55" fill="#000"/><circle cx="86.20" cy="547.10" r="1.55" fill="#000"/><circle cx="92.00" cy="547.70" r="1.55" fill="#000"/><circle cx="97.80" cy="547.80" r="1.55" fill="#000"/><circle cx="103.60" cy="551.30" r="1.55" fill="#000"/><circle cx="109.40" cy="552.60" r="1.55" fill="#000"/><circle cx="115.20" cy="557.90" r="1.55" fill="#000"/><circle cx="121.00" cy="561.20" r="1.55" fill="#000"/><circle cx="126.80" cy="561.40" r="1.55" fill="#000"/><circle cx="132.60" cy="561.70" r="1.55" fill="#000"/><circle cx="138.40" cy="565.50" r="1.55" fill="#000"/><circle cx="144.20" cy="565.50" r="1.55" fill="#000"/><circle cx="150.00" cy="566.10" r="1.55" fill="#000"/><circle cx="155.80" cy="567.30" r="1.55" fill="#000"/><circle cx="161.60" cy="569.00" r="1.55" fill="#000"/><circle cx="167.40" cy="571.60" r="1.55" fill="#000"/>
<rect x="36.65" y="524.60" width="134.40" height="77.70" fill="none" stroke="#000" stroke-width="1.25"/>
<line x1="33.05" y1="526.20" x2="36.65" y2="526.20" stroke="#000" stroke-width="1.10"/>
<text x="31.35" y="528.70" font-size="7.1" text-anchor="end" textLength="4.20" lengthAdjust="spacingAndGlyphs">1</text>
<line x1="33.05" y1="560.90" x2="36.65" y2="560.90" stroke="#000" stroke-width="1.10"/>
<text x="31.35" y="563.40" font-size="7.1" text-anchor="end" textLength="8.60" lengthAdjust="spacingAndGlyphs">50</text>
<line x1="33.05" y1="579.70" x2="36.65" y2="579.70" stroke="#000" stroke-width="1.10"/>
<text x="31.35" y="582.20" font-size="7.1" text-anchor="end" textLength="13.10" lengthAdjust="spacingAndGlyphs">500</text>
<line x1="33.05" y1="598.70" x2="36.65" y2="598.70" stroke="#000" stroke-width="1.10"/>
<text x="31.35" y="601.20" font-size="7.1" text-anchor="end" textLength="17.40" lengthAdjust="spacingAndGlyphs">5000</text>
<line x1="39.80" y1="602.30" x2="39.80" y2="605.60" stroke="#000" stroke-width="0.90"/>
<text transform="translate(41.90,608.2) rotate(-90)" font-size="6.1" text-anchor="end">p318</text>
<line x1="45.60" y1="602.30" x2="45.60" y2="605.60" stroke="#000" stroke-width="0.90"/>
<text transform="translate(47.70,608.2) rotate(-90)" font-size="6.1" text-anchor="end">p456</text>
<line x1="51.40" y1="602.30" x2="51.40" y2="605.60" stroke="#000" stroke-width="0.90"/>
<text transform="translate(53.50,608.2) rotate(-90)" font-size="6.1" text-anchor="end">p401</text>
<line x1="57.20" y1="602.30" x2="57.20" y2="605.60" stroke="#000" stroke-width="0.90"/>
<text transform="translate(59.30,608.2) rotate(-90)" font-size="6.1" text-anchor="end">BM4039</text>
<line x1="63.00" y1="602.30" x2="63.00" y2="605.60" stroke="#000" stroke-width="0.90"/>
<text transform="translate(65.10,608.2) rotate(-90)" font-size="6.1" text-anchor="end">p216</text>
<line x1="68.80" y1="602.30" x2="68.80" y2="605.60" stroke="#000" stroke-width="0.90"/>
<text transform="translate(70.90,608.2) rotate(-90)" font-size="6.1" text-anchor="end">p408</text>
<line x1="74.60" y1="602.30" x2="74.60" y2="605.60" stroke="#000" stroke-width="0.90"/>
<text transform="translate(76.70,608.2) rotate(-90)" font-size="6.1" text-anchor="end">p217</text>
<line x1="80.40" y1="602.30" x2="80.40" y2="605.60" stroke="#000" stroke-width="0.90"/>
<text transform="translate(82.50,608.2) rotate(-90)" font-size="6.1" text-anchor="end">p163</text>
<line x1="86.20" y1="602.30" x2="86.20" y2="605.60" stroke="#000" stroke-width="0.90"/>
<text transform="translate(88.30,608.2) rotate(-90)" font-size="6.1" text-anchor="end">p274</text>
<line x1="92.00" y1="602.30" x2="92.00" y2="605.60" stroke="#000" stroke-width="0.90"/>
<text transform="translate(94.10,608.2) rotate(-90)" font-size="6.1" text-anchor="end">p195</text>
<line x1="97.80" y1="602.30" x2="97.80" y2="605.60" stroke="#000" stroke-width="0.90"/>
<text transform="translate(99.90,608.2) rotate(-90)" font-size="6.1" text-anchor="end">BM106029</text>
<line x1="103.60" y1="602.30" x2="103.60" y2="605.60" stroke="#000" stroke-width="0.90"/>
<text transform="translate(105.70,608.2) rotate(-90)" font-size="6.1" text-anchor="end">p301</text>
<line x1="109.40" y1="602.30" x2="109.40" y2="605.60" stroke="#000" stroke-width="0.90"/>
<text transform="translate(111.50,608.2) rotate(-90)" font-size="6.1" text-anchor="end">p275</text>
<line x1="115.20" y1="602.30" x2="115.20" y2="605.60" stroke="#000" stroke-width="0.90"/>
<text transform="translate(117.30,608.2) rotate(-90)" font-size="6.1" text-anchor="end">p411</text>
<line x1="121.00" y1="602.30" x2="121.00" y2="605.60" stroke="#000" stroke-width="0.90"/>
<text transform="translate(123.10,608.2) rotate(-90)" font-size="6.1" text-anchor="end">p358</text>
<line x1="126.80" y1="602.30" x2="126.80" y2="605.60" stroke="#000" stroke-width="0.90"/>
<text transform="translate(128.90,608.2) rotate(-90)" font-size="6.1" text-anchor="end">p400</text>
<line x1="132.60" y1="602.30" x2="132.60" y2="605.60" stroke="#000" stroke-width="0.90"/>
<text transform="translate(134.70,608.2) rotate(-90)" font-size="6.1" text-anchor="end">p151</text>
<line x1="138.40" y1="602.30" x2="138.40" y2="605.60" stroke="#000" stroke-width="0.90"/>
<text transform="translate(140.50,608.2) rotate(-90)" font-size="6.1" text-anchor="end">p269</text>
<line x1="144.20" y1="602.30" x2="144.20" y2="605.60" stroke="#000" stroke-width="0.90"/>
<text transform="translate(146.30,608.2) rotate(-90)" font-size="6.1" text-anchor="end">p262</text>
<line x1="150.00" y1="602.30" x2="150.00" y2="605.60" stroke="#000" stroke-width="0.90"/>
<text transform="translate(152.10,608.2) rotate(-90)" font-size="6.1" text-anchor="end">p172</text>
<line x1="155.80" y1="602.30" x2="155.80" y2="605.60" stroke="#000" stroke-width="0.90"/>
<text transform="translate(157.90,608.2) rotate(-90)" font-size="6.1" text-anchor="end">BM102004_1</text>
<line x1="161.60" y1="602.30" x2="161.60" y2="605.60" stroke="#000" stroke-width="0.90"/>
<text transform="translate(163.70,608.2) rotate(-90)" font-size="6.1" text-anchor="end">BM102004_2</text>
<line x1="167.40" y1="602.30" x2="167.40" y2="605.60" stroke="#000" stroke-width="0.90"/>
<text transform="translate(169.50,608.2) rotate(-90)" font-size="6.1" text-anchor="end">p198</text>
<line x1="203.70" y1="579.8" x2="335.50" y2="579.8" stroke="#b4b4b4" stroke-width="1.1" stroke-dasharray="2.8,2.3"/>
<path d="M205.60 579.40L211.41 581.10L217.22 581.30L223.03 581.30L228.84 581.30L234.65 583.70L240.45 584.20L246.26 585.10L252.07 585.10L257.88 585.30L263.69 586.00L269.50 586.40L275.31 586.80L281.12 586.80L286.93 587.20L292.74 588.00L298.55 589.10L304.35 589.90L310.16 590.60L315.97 590.60L321.78 592.00L327.59 592.90L333.40 594.60" stroke="#000" stroke-width="1.3" fill="none" stroke-linejoin="round"/>
<circle cx="205.60" cy="579.40" r="1.55" fill="#000"/><circle cx="211.41" cy="581.10" r="1.55" fill="#000"/><circle cx="217.22" cy="581.30" r="1.55" fill="#000"/><circle cx="223.03" cy="581.30" r="1.55" fill="#000"/><circle cx="228.84" cy="581.30" r="1.55" fill="#000"/><circle cx="234.65" cy="583.70" r="1.55" fill="#000"/><circle cx="240.45" cy="584.20" r="1.55" fill="#000"/><circle cx="246.26" cy="585.10" r="1.55" fill="#000"/><circle cx="252.07" cy="585.10" r="1.55" fill="#000"/><circle cx="257.88" cy="585.30" r="1.55" fill="#000"/><circle cx="263.69" cy="586.00" r="1.55" fill="#000"/><circle cx="269.50" cy="586.40" r="1.55" fill="#000"/><circle cx="275.31" cy="586.80" r="1.55" fill="#000"/><circle cx="281.12" cy="586.80" r="1.55" fill="#000"/><circle cx="286.93" cy="587.20" r="1.55" fill="#000"/><circle cx="292.74" cy="588.00" r="1.55" fill="#000"/><circle cx="298.55" cy="589.10" r="1.55" fill="#000"/><circle cx="304.35" cy="589.90" r="1.55" fill="#000"/><circle cx="310.16" cy="590.60" r="1.55" fill="#000"/><circle cx="315.97" cy="590.60" r="1.55" fill="#000"/><circle cx="321.78" cy="592.00" r="1.55" fill="#000"/><circle cx="327.59" cy="592.90" r="1.55" fill="#000"/><circle cx="333.40" cy="594.60" r="1.55" fill="#000"/>
<rect x="202.20" y="524.85" width="134.80" height="77.45" fill="none" stroke="#000" stroke-width="1.25"/>
<line x1="198.60" y1="526.20" x2="202.20" y2="526.20" stroke="#000" stroke-width="1.10"/>
<text x="196.90" y="528.70" font-size="7.1" text-anchor="end" textLength="4.20" lengthAdjust="spacingAndGlyphs">1</text>
<line x1="198.60" y1="560.90" x2="202.20" y2="560.90" stroke="#000" stroke-width="1.10"/>
<text x="196.90" y="563.40" font-size="7.1" text-anchor="end" textLength="8.60" lengthAdjust="spacingAndGlyphs">50</text>
<line x1="198.60" y1="579.70" x2="202.20" y2="579.70" stroke="#000" stroke-width="1.10"/>
<text x="196.90" y="582.20" font-size="7.1" text-anchor="end" textLength="13.10" lengthAdjust="spacingAndGlyphs">500</text>
<line x1="198.60" y1="598.70" x2="202.20" y2="598.70" stroke="#000" stroke-width="1.10"/>
<text x="196.90" y="601.20" font-size="7.1" text-anchor="end" textLength="17.40" lengthAdjust="spacingAndGlyphs">5000</text>
<line x1="205.60" y1="602.30" x2="205.60" y2="605.60" stroke="#000" stroke-width="0.90"/>
<text transform="translate(207.70,608.2) rotate(-90)" font-size="6.1" text-anchor="end">p401</text>
<line x1="211.41" y1="602.30" x2="211.41" y2="605.60" stroke="#000" stroke-width="0.90"/>
<text transform="translate(213.51,608.2) rotate(-90)" font-size="6.1" text-anchor="end">p262</text>
<line x1="217.22" y1="602.30" x2="217.22" y2="605.60" stroke="#000" stroke-width="0.90"/>
<text transform="translate(219.32,608.2) rotate(-90)" font-size="6.1" text-anchor="end">BM102004_2</text>
<line x1="223.03" y1="602.30" x2="223.03" y2="605.60" stroke="#000" stroke-width="0.90"/>
<text transform="translate(225.13,608.2) rotate(-90)" font-size="6.1" text-anchor="end">p318</text>
<line x1="228.84" y1="602.30" x2="228.84" y2="605.60" stroke="#000" stroke-width="0.90"/>
<text transform="translate(230.94,608.2) rotate(-90)" font-size="6.1" text-anchor="end">p400</text>
<line x1="234.65" y1="602.30" x2="234.65" y2="605.60" stroke="#000" stroke-width="0.90"/>
<text transform="translate(236.75,608.2) rotate(-90)" font-size="6.1" text-anchor="end">p217</text>
<line x1="240.45" y1="602.30" x2="240.45" y2="605.60" stroke="#000" stroke-width="0.90"/>
<text transform="translate(242.55,608.2) rotate(-90)" font-size="6.1" text-anchor="end">p411</text>
<line x1="246.26" y1="602.30" x2="246.26" y2="605.60" stroke="#000" stroke-width="0.90"/>
<text transform="translate(248.36,608.2) rotate(-90)" font-size="6.1" text-anchor="end">p274</text>
<line x1="252.07" y1="602.30" x2="252.07" y2="605.60" stroke="#000" stroke-width="0.90"/>
<text transform="translate(254.17,608.2) rotate(-90)" font-size="6.1" text-anchor="end">BM102004_1</text>
<line x1="257.88" y1="602.30" x2="257.88" y2="605.60" stroke="#000" stroke-width="0.90"/>
<text transform="translate(259.98,608.2) rotate(-90)" font-size="6.1" text-anchor="end">p456</text>
<line x1="263.69" y1="602.30" x2="263.69" y2="605.60" stroke="#000" stroke-width="0.90"/>
<text transform="translate(265.79,608.2) rotate(-90)" font-size="6.1" text-anchor="end">p301</text>
<line x1="269.50" y1="602.30" x2="269.50" y2="605.60" stroke="#000" stroke-width="0.90"/>
<text transform="translate(271.60,608.2) rotate(-90)" font-size="6.1" text-anchor="end">p172</text>
<line x1="275.31" y1="602.30" x2="275.31" y2="605.60" stroke="#000" stroke-width="0.90"/>
<text transform="translate(277.41,608.2) rotate(-90)" font-size="6.1" text-anchor="end">p198</text>
<line x1="281.12" y1="602.30" x2="281.12" y2="605.60" stroke="#000" stroke-width="0.90"/>
<text transform="translate(283.22,608.2) rotate(-90)" font-size="6.1" text-anchor="end">p275</text>
<line x1="286.93" y1="602.30" x2="286.93" y2="605.60" stroke="#000" stroke-width="0.90"/>
<text transform="translate(289.03,608.2) rotate(-90)" font-size="6.1" text-anchor="end">BM4039</text>
<line x1="292.74" y1="602.30" x2="292.74" y2="605.60" stroke="#000" stroke-width="0.90"/>
<text transform="translate(294.84,608.2) rotate(-90)" font-size="6.1" text-anchor="end">p408</text>
<line x1="298.55" y1="602.30" x2="298.55" y2="605.60" stroke="#000" stroke-width="0.90"/>
<text transform="translate(300.65,608.2) rotate(-90)" font-size="6.1" text-anchor="end">p195</text>
<line x1="304.35" y1="602.30" x2="304.35" y2="605.60" stroke="#000" stroke-width="0.90"/>
<text transform="translate(306.45,608.2) rotate(-90)" font-size="6.1" text-anchor="end">BM106029</text>
<line x1="310.16" y1="602.30" x2="310.16" y2="605.60" stroke="#000" stroke-width="0.90"/>
<text transform="translate(312.26,608.2) rotate(-90)" font-size="6.1" text-anchor="end">p151</text>
<line x1="315.97" y1="602.30" x2="315.97" y2="605.60" stroke="#000" stroke-width="0.90"/>
<text transform="translate(318.07,608.2) rotate(-90)" font-size="6.1" text-anchor="end">p269</text>
<line x1="321.78" y1="602.30" x2="321.78" y2="605.60" stroke="#000" stroke-width="0.90"/>
<text transform="translate(323.88,608.2) rotate(-90)" font-size="6.1" text-anchor="end">p163</text>
<line x1="327.59" y1="602.30" x2="327.59" y2="605.60" stroke="#000" stroke-width="0.90"/>
<text transform="translate(329.69,608.2) rotate(-90)" font-size="6.1" text-anchor="end">p358</text>
<line x1="333.40" y1="602.30" x2="333.40" y2="605.60" stroke="#000" stroke-width="0.90"/>
<text transform="translate(335.50,608.2) rotate(-90)" font-size="6.1" text-anchor="end">p216</text>
<line x1="375.45" y1="579.8" x2="507.55" y2="579.8" stroke="#b4b4b4" stroke-width="1.1" stroke-dasharray="2.8,2.3"/>
<path d="M378.00 554.50L383.79 555.00L389.57 555.50L395.36 555.80L401.15 559.90L406.93 560.70L412.72 561.20L418.50 561.60L424.29 564.20L430.08 566.00L435.86 568.90L441.65 569.30L447.44 571.20L453.22 572.20L459.01 574.70L464.80 575.00L470.58 579.20L476.37 580.40L482.15 580.40L487.94 580.80L493.73 588.10L499.51 590.70L505.30 593.90" stroke="#000" stroke-width="1.3" fill="none" stroke-linejoin="round"/>
<circle cx="378.00" cy="554.50" r="1.55" fill="#d00000"/><circle cx="383.79" cy="555.00" r="1.55" fill="#d00000"/><circle cx="389.57" cy="555.50" r="1.55" fill="#d00000"/><circle cx="395.36" cy="555.80" r="1.55" fill="#d00000"/><circle cx="401.15" cy="559.90" r="1.55" fill="#d00000"/><circle cx="406.93" cy="560.70" r="1.55" fill="#d00000"/><circle cx="412.72" cy="561.20" r="1.55" fill="#d00000"/><circle cx="418.50" cy="561.60" r="1.55" fill="#d00000"/><circle cx="424.29" cy="564.20" r="1.55" fill="#d00000"/><circle cx="430.08" cy="566.00" r="1.55" fill="#d00000"/><circle cx="435.86" cy="568.90" r="1.55" fill="#d00000"/><circle cx="441.65" cy="569.30" r="1.55" fill="#d00000"/><circle cx="447.44" cy="571.20" r="1.55" fill="#d00000"/><circle cx="453.22" cy="572.20" r="1.55" fill="#d00000"/><circle cx="459.01" cy="574.70" r="1.55" fill="#0000ff"/><circle cx="464.80" cy="575.00" r="1.55" fill="#0000ff"/><circle cx="470.58" cy="579.20" r="1.55" fill="#0000ff"/><circle cx="476.37" cy="580.40" r="1.55" fill="#0000ff"/><circle cx="482.15" cy="580.40" r="1.55" fill="#d00000"/><circle cx="487.94" cy="580.80" r="1.55" fill="#0000ff"/><circle cx="493.73" cy="588.10" r="1.55" fill="#0000ff"/><circle cx="499.51" cy="590.70" r="1.55" fill="#0000ff"/><circle cx="505.30" cy="593.90" r="1.55" fill="#0000ff"/>
<rect x="373.95" y="524.50" width="135.10" height="77.80" fill="none" stroke="#000" stroke-width="1.25"/>
<line x1="370.35" y1="526.20" x2="373.95" y2="526.20" stroke="#000" stroke-width="1.10"/>
<text x="368.65" y="528.70" font-size="7.1" text-anchor="end" textLength="4.20" lengthAdjust="spacingAndGlyphs">1</text>
<line x1="370.35" y1="560.90" x2="373.95" y2="560.90" stroke="#000" stroke-width="1.10"/>
<text x="368.65" y="563.40" font-size="7.1" text-anchor="end" textLength="8.60" lengthAdjust="spacingAndGlyphs">50</text>
<line x1="370.35" y1="579.70" x2="373.95" y2="579.70" stroke="#000" stroke-width="1.10"/>
<text x="368.65" y="582.20" font-size="7.1" text-anchor="end" textLength="13.10" lengthAdjust="spacingAndGlyphs">500</text>
<line x1="370.35" y1="598.70" x2="373.95" y2="598.70" stroke="#000" stroke-width="1.10"/>
<text x="368.65" y="601.20" font-size="7.1" text-anchor="end" textLength="17.40" lengthAdjust="spacingAndGlyphs">5000</text>
<line x1="378.00" y1="602.30" x2="378.00" y2="605.60" stroke="#000" stroke-width="0.90"/>
<text transform="translate(380.10,608.2) rotate(-90)" font-size="6.1" text-anchor="end">BM102004_2</text>
<line x1="383.79" y1="602.30" x2="383.79" y2="605.60" stroke="#000" stroke-width="0.90"/>
<text transform="translate(385.89,608.2) rotate(-90)" font-size="6.1" text-anchor="end">BM102004_1</text>
<line x1="389.57" y1="602.30" x2="389.57" y2="605.60" stroke="#000" stroke-width="0.90"/>
<text transform="translate(391.67,608.2) rotate(-90)" font-size="6.1" text-anchor="end">p216</text>
<line x1="395.36" y1="602.30" x2="395.36" y2="605.60" stroke="#000" stroke-width="0.90"/>
<text transform="translate(397.46,608.2) rotate(-90)" font-size="6.1" text-anchor="end">p301</text>
<line x1="401.15" y1="602.30" x2="401.15" y2="605.60" stroke="#000" stroke-width="0.90"/>
<text transform="translate(403.25,608.2) rotate(-90)" font-size="6.1" text-anchor="end">p274</text>
<line x1="406.93" y1="602.30" x2="406.93" y2="605.60" stroke="#000" stroke-width="0.90"/>
<text transform="translate(409.03,608.2) rotate(-90)" font-size="6.1" text-anchor="end">p318</text>
<line x1="412.72" y1="602.30" x2="412.72" y2="605.60" stroke="#000" stroke-width="0.90"/>
<text transform="translate(414.82,608.2) rotate(-90)" font-size="6.1" text-anchor="end">p401</text>
<line x1="418.50" y1="602.30" x2="418.50" y2="605.60" stroke="#000" stroke-width="0.90"/>
<text transform="translate(420.60,608.2) rotate(-90)" font-size="6.1" text-anchor="end">p408</text>
<line x1="424.29" y1="602.30" x2="424.29" y2="605.60" stroke="#000" stroke-width="0.90"/>
<text transform="translate(426.39,608.2) rotate(-90)" font-size="6.1" text-anchor="end">p358</text>
<line x1="430.08" y1="602.30" x2="430.08" y2="605.60" stroke="#000" stroke-width="0.90"/>
<text transform="translate(432.18,608.2) rotate(-90)" font-size="6.1" text-anchor="end">p411</text>
<line x1="435.86" y1="602.30" x2="435.86" y2="605.60" stroke="#000" stroke-width="0.90"/>
<text transform="translate(437.96,608.2) rotate(-90)" font-size="6.1" text-anchor="end">BM4039</text>
<line x1="441.65" y1="602.30" x2="441.65" y2="605.60" stroke="#000" stroke-width="0.90"/>
<text transform="translate(443.75,608.2) rotate(-90)" font-size="6.1" text-anchor="end">p269</text>
<line x1="447.44" y1="602.30" x2="447.44" y2="605.60" stroke="#000" stroke-width="0.90"/>
<text transform="translate(449.54,608.2) rotate(-90)" font-size="6.1" text-anchor="end">p456</text>
<line x1="453.22" y1="602.30" x2="453.22" y2="605.60" stroke="#000" stroke-width="0.90"/>
<text transform="translate(455.32,608.2) rotate(-90)" font-size="6.1" text-anchor="end">p275</text>
<line x1="459.01" y1="602.30" x2="459.01" y2="605.60" stroke="#000" stroke-width="0.90"/>
<text transform="translate(461.11,608.2) rotate(-90)" font-size="6.1" text-anchor="end">p195</text>
<line x1="464.80" y1="602.30" x2="464.80" y2="605.60" stroke="#000" stroke-width="0.90"/>
<text transform="translate(466.90,608.2) rotate(-90)" font-size="6.1" text-anchor="end">p217</text>
<line x1="470.58" y1="602.30" x2="470.58" y2="605.60" stroke="#000" stroke-width="0.90"/>
<text transform="translate(472.68,608.2) rotate(-90)" font-size="6.1" text-anchor="end">p198</text>
<line x1="476.37" y1="602.30" x2="476.37" y2="605.60" stroke="#000" stroke-width="0.90"/>
<text transform="translate(478.47,608.2) rotate(-90)" font-size="6.1" text-anchor="end">p172</text>
<line x1="482.15" y1="602.30" x2="482.15" y2="605.60" stroke="#000" stroke-width="0.90"/>
<text transform="translate(484.25,608.2) rotate(-90)" font-size="6.1" text-anchor="end">p151</text>
<line x1="487.94" y1="602.30" x2="487.94" y2="605.60" stroke="#000" stroke-width="0.90"/>
<text transform="translate(490.04,608.2) rotate(-90)" font-size="6.1" text-anchor="end">p400</text>
<line x1="493.73" y1="602.30" x2="493.73" y2="605.60" stroke="#000" stroke-width="0.90"/>
<text transform="translate(495.83,608.2) rotate(-90)" font-size="6.1" text-anchor="end">p262</text>
<line x1="499.51" y1="602.30" x2="499.51" y2="605.60" stroke="#000" stroke-width="0.90"/>
<text transform="translate(501.61,608.2) rotate(-90)" font-size="6.1" text-anchor="end">BM106029</text>
<line x1="505.30" y1="602.30" x2="505.30" y2="605.60" stroke="#000" stroke-width="0.90"/>
<text transform="translate(507.40,608.2) rotate(-90)" font-size="6.1" text-anchor="end">p163</text>
<text x="40.9" y="598.5" font-size="6.2">n = 4398</text>
<text x="163.0" y="534.6" font-size="6.3" font-style="italic" text-anchor="end">ZEB2</text>
<text x="329.6" y="534.4" font-size="6.3" font-style="italic" text-anchor="end">KRAS</text>
<text x="500.6" y="534.5" font-size="6.0" font-style="italic" text-anchor="end">RARA</text>
<text x="378.0" y="535.4" font-size="6.1" font-style="italic" fill="#d42a2a" textLength="30" lengthAdjust="spacingAndGlyphs">RARA SE+</text>
<text x="379.0" y="544.2" font-size="6.1" font-style="italic" fill="#2a40f0" textLength="27.6" lengthAdjust="spacingAndGlyphs">RARA SE-</text>
<text class="b" transform="translate(13.0,583.8) rotate(-90)" font-size="8.8" textLength="40.9" lengthAdjust="spacingAndGlyphs">Enhancer rank</text>
<line x1="40" y1="652.5" x2="506" y2="652.5" stroke="#000" stroke-width="1.3"/>
<path d="M36.3 652.5L41.8 650.1L41.8 654.9Z" fill="#000"/>
<path d="M509.8 652.5L504.6 650.0L504.6 655.0Z" fill="#000"/>
<text class="b" x="243.4" y="663.0" font-size="7.8" textLength="58.1" lengthAdjust="spacingAndGlyphs">AML patient samples</text>
<rect x="0.65" y="0.65" width="518.7" height="668.6" fill="none" stroke="#000" stroke-width="1.3"/>
</svg></body></html>
